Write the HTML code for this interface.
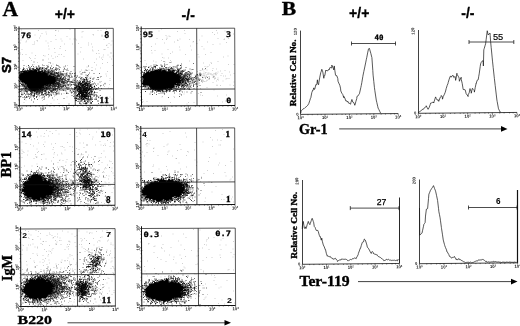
<!DOCTYPE html>
<html lang="en"><head><meta charset="utf-8"><title>Figure</title>
<style>
html,body{margin:0;padding:0;background:#fff;}
body{width:520px;height:326px;overflow:hidden;}
svg{display:block;}
.sb{font-family:"Liberation Serif","DejaVu Serif",serif;font-weight:bold;fill:#000;stroke:#000;stroke-width:.35;}
.hb{font-family:"Liberation Sans","DejaVu Sans",sans-serif;font-weight:bold;fill:#000;}
.mb{font-family:"DejaVu Sans Mono","Liberation Mono",monospace;font-weight:bold;fill:#000;stroke:#000;stroke-width:.25;}
.hn{font-family:"Liberation Sans","DejaVu Sans",sans-serif;fill:#000;}
.tk{font-family:"Liberation Sans","DejaVu Sans",sans-serif;font-size:4.2px;font-weight:bold;fill:#111;}
.ax{stroke:#111;fill:none;}
.cv{stroke:#111;fill:none;stroke-width:.7;stroke-linejoin:round;}
</style></head><body>
<svg width="520" height="326" viewBox="0 0 520 326">
<rect width="520" height="326" fill="#fff"/>
<clipPath id="cp0"><rect x="19" y="28.75" width="94.6" height="76.5"/></clipPath>
<g clip-path="url(#cp0)"><path d="M47.9 79.0L45.9 79.4L50.9 80.9L48.1 81.1L47.8 81.7L45.9 81.8L46.4 82.8L46.0 83.5L44.7 83.7L44.3 84.4L42.3 84.1L41.8 85.0L40.9 85.5L39.5 85.6L38.1 85.6L36.7 85.4L35.3 84.9L34.0 85.7L32.7 85.1L31.5 84.6L29.8 85.3L29.3 83.8L27.8 84.0L25.9 84.2L24.6 83.8L24.4 82.8L23.2 82.4L21.9 81.9L21.6 81.2L21.6 80.4L19.8 80.0L19.6 79.3L19.3 78.6L18.0 77.9L18.7 77.2L19.5 76.5L19.0 75.8L17.4 74.8L20.5 74.7L20.5 74.0L21.6 73.6L21.2 72.7L23.3 72.8L22.9 71.7L23.6 71.1L25.7 71.4L26.8 71.2L28.2 71.3L28.7 70.3L30.3 70.8L31.4 70.5L32.7 70.4L34.0 70.5L35.4 69.9L37.0 69.7L37.4 71.8L38.9 71.4L40.6 71.2L41.1 72.2L42.5 72.4L44.0 72.6L45.9 72.8L46.6 73.5L46.2 74.5L47.3 75.0L47.4 75.7L48.0 76.4L47.4 77.1L47.0 77.7L48.6 78.4Z" fill="#000"/><path d="M43.5 84.5L43.4 85.1L41.8 85.4L42.6 86.1L42.2 86.5L42.3 87.2L41.3 87.3L41.9 88.3L40.9 88.4L40.7 89.0L40.3 89.5L38.8 88.8L38.7 89.7L38.5 90.6L37.5 90.2L36.9 90.8L36.1 90.6L35.3 90.3L34.6 90.6L33.8 90.9L33.1 90.9L32.3 90.8L32.1 89.6L31.0 90.1L31.0 89.0L30.1 89.1L29.6 88.8L28.7 88.6L28.4 88.1L27.5 87.8L28.1 87.0L27.1 86.7L27.1 86.1L27.1 85.6L27.7 85.0L26.7 84.5L26.9 84.0L26.7 83.4L27.3 82.9L27.6 82.4L27.6 81.8L27.9 81.3L28.2 80.8L28.2 80.0L29.7 80.4L29.3 79.2L31.5 80.5L31.0 78.9L32.0 79.3L32.2 78.0L33.3 79.0L33.8 78.1L34.7 78.9L35.3 79.0L36.1 78.2L36.9 78.3L37.4 79.1L38.7 78.1L38.7 79.3L39.9 78.9L39.6 80.1L40.2 80.5L41.1 80.5L41.0 81.2L42.1 81.3L41.1 82.3L42.6 82.4L42.4 83.0L42.3 83.5L43.1 84.0Z" fill="#000"/><path d="M55.3 80.7L55.1 81.0L55.6 81.6L55.1 81.9L54.9 82.3L55.0 82.8L53.9 82.8L53.8 83.3L52.7 83.3L52.6 83.8L51.9 84.0L50.9 83.8L50.1 83.6L49.5 83.7L48.9 83.9L48.3 84.4L47.5 84.1L46.7 84.0L45.9 84.1L45.1 84.1L44.3 84.1L43.9 83.3L43.0 83.4L42.2 83.1L42.2 82.4L41.2 82.3L41.1 81.8L40.3 81.6L39.6 81.3L40.3 80.7L39.6 80.4L39.4 80.0L38.7 79.6L39.0 79.2L38.3 78.7L39.1 78.4L39.0 78.0L38.5 77.4L38.9 77.1L39.3 76.8L39.7 76.5L39.6 75.9L40.0 75.5L41.2 75.7L41.9 75.6L42.6 75.5L42.4 74.5L43.8 75.2L44.5 75.3L45.0 74.7L45.7 74.5L46.5 75.2L47.3 74.9L47.9 75.5L48.7 75.4L49.8 74.8L50.2 75.5L50.8 75.8L51.6 76.0L52.3 76.3L52.7 76.7L52.8 77.2L53.2 77.6L55.2 77.5L54.2 78.2L55.5 78.5L54.7 79.0L56.0 79.4L55.8 79.9L55.3 80.3Z" fill="#000"/><g transform="scale(0.5)"><path d="M57 131h0m-10 5h0m14 0h0m13 0h0m8 0h0m-34 1h0m25 0h0m1 0h0m5 0h0m6 0h0m-25 1h0m5 0h0m17 0h0m-35 1h0m12 0h0m8 0h0m3 0h0m5 0h0m-30 1h0m2 0h0m3 0h0m10 0h0m1 0h0m5 0h0m3 0h0m2 0h0m1 0h0m1 0h0m4 0h0m1 0h0m1 0h0m4 0h0m-28 1h0m1 0h0m5 0h0m2 0h0m7 0h0m1 0h0m14 0h0m-36 1h0m1 0h0m1 0h0m1 0h0m1 0h0m2 0h0m2 0h0m2 0h0m3 0h0m7 0h0m4 0h0m1 0h0m3 0h0m1 0h0m11 0h0m-47 1h0m1 0h0m1 0h0m2 0h0m1 0h0m1 0h0m1 0h0m3 0h0m1 0h0m24 0h0m5 0h0m1 0h0m1 0h0m1 0h0m-39 1h0m2 0h0m2 0h0m29 0h0m7 0h0m3 0h0m5 0h0m2 0h0m22 0h0m-79 1h0m3 0h0m40 0h0m5 0h0m1 0h0m1 0h0m-48 1h0m45 0h0m3 0h0m-48 1h0m2 0h0m44 0h0m3 0h0m4 0h0m2 0h0m6 0h0m1 0h0m-64 1h0m54 0h0m7 0h0m2 0h0m3 0h0m-64 1h0m1 0h0m50 0h0m2 0h0m2 0h0m11 0h0m-65 1h0m50 0h0m1 0h0m2 0h0m-55 1h0m56 0h0m4 0h0m-59 1h0m60 0h0m6 0h0m13 0h0m-16 1h0m3 0h0m-68 1h0m1 0h0m1 0h0m64 0h0m1 0h0m3 0h0m-68 1h0m67 0h0m63 0h0m-132 1h0m1 0h0m1 0h0m69 0h0m1 0h0m52 0h0m10 0h0m-64 1h0m1 0h0m-68 1h0m67 0h0m2 0h0m-69 1h0m127 0h0m1 0h0m3 0h0m-132 1h0m2 0h0m67 0h0m2 0h0m1 0h0m49 0h0m7 0h0m-127 1h0m2 0h0m1 0h0m64 0h0m-64 1h0m64 0h0m2 0h0m41 0h0m7 0h0m10 0h0m-130 1h0m4 0h0m2 0h0m64 0h0m52 0h0m4 0h0m4 0h0m6 0h0m-131 1h0m1 0h0m1 0h0m2 0h0m1 0h0m59 0h0m6 0h0m51 0h0m1 0h0m7 0h0m-124 1h0m1 0h0m57 0h0m1 0h0m50 0h0m1 0h0m9 0h0m2 0h0m2 0h0m2 0h0m-133 1h0m3 0h0m1 0h0m9 0h0m56 0h0m6 0h0m43 0h0m5 0h0m1 0h0m6 0h0m2 0h0m3 0h0m-125 1h0m4 0h0m1 0h0m29 0h0m3 0h0m2 0h0m10 0h0m1 0h0m1 0h0m4 0h0m6 0h0m46 0h0m2 0h0m1 0h0m2 0h0m6 0h0m1 0h0m1 0h0m2 0h0m2 0h0m-122 1h0m33 0h0m1 0h0m3 0h0m1 0h0m8 0h0m1 0h0m2 0h0m4 0h0m42 0h0m7 0h0m7 0h0m1 0h0m5 0h0m3 0h0m1 0h0m1 0h0m3 0h0m1 0h0m3 0h0m-137 1h0m2 0h0m6 0h0m4 0h0m32 0h0m2 0h0m1 0h0m1 0h0m3 0h0m1 0h0m6 0h0m3 0h0m3 0h0m50 0h0m1 0h0m2 0h0m1 0h0m4 0h0m2 0h0m1 0h0m1 0h0m1 0h0m1 0h0m4 0h0m-129 1h0m2 0h0m6 0h0m1 0h0m30 0h0m1 0h0m2 0h0m55 0h0m9 0h0m1 0h0m4 0h0m4 0h0m4 0h0m1 0h0m1 0h0m8 0h0m6 0h0m-131 1h0m4 0h0m2 0h0m28 0h0m1 0h0m2 0h0m6 0h0m3 0h0m58 0h0m2 0h0m6 0h0m1 0h0m2 0h0m1 0h0m1 0h0m3 0h0m1 0h0m2 0h0m2 0h0m-135 1h0m9 0h0m6 0h0m32 0h0m7 0h0m5 0h0m57 0h0m1 0h0m10 0h0m2 0h0m2 0h0m4 0h0m1 0h0m4 0h0m1 0h0m-128 1h0m32 0h0m13 0h0m56 0h0m2 0h0m3 0h0m4 0h0m1 0h0m1 0h0m3 0h0m1 0h0m11 0h0m2 0h0m7 0h0m-133 1h0m40 0h0m57 0h0m1 0h0m3 0h0m2 0h0m1 0h0m1 0h0m5 0h0m1 0h0m2 0h0m2 0h0m5 0h0m2 0h0m-125 1h0m3 0h0m2 0h0m26 0h0m2 0h0m1 0h0m62 0h0m2 0h0m7 0h0m1 0h0m1 0h0m1 0h0m2 0h0m2 0h0m3 0h0m2 0h0m2 0h0m1 0h0m1 0h0m1 0h0m4 0h0m6 0h0m-127 1h0m28 0h0m2 0h0m1 0h0m3 0h0m1 0h0m58 0h0m1 0h0m1 0h0m3 0h0m3 0h0m1 0h0m2 0h0m2 0h0m3 0h0m1 0h0m4 0h0m2 0h0m4 0h0m5 0h0m-132 1h0m30 0h0m3 0h0m66 0h0m1 0h0m7 0h0m1 0h0m1 0h0m4 0h0m2 0h0m1 0h0m1 0h0m1 0h0m2 0h0m1 0h0m2 0h0m5 0h0m2 0h0m-123 1h0m99 0h0m3 0h0m1 0h0m1 0h0m1 0h0m4 0h0m3 0h0m2 0h0m2 0h0m2 0h0m1 0h0m1 0h0m2 0h0m3 0h0m-121 1h0m2 0h0m12 0h0m1 0h0m4 0h0m4 0h0m64 0h0m5 0h0m2 0h0m4 0h0m1 0h0m1 0h0m4 0h0m2 0h0m1 0h0m1 0h0m2 0h0m1 0h0m3 0h0m1 0h0m1 0h0m1 0h0m1 0h0m11 0h0m-130 1h0m3 0h0m4 0h0m1 0h0m2 0h0m3 0h0m7 0h0m74 0h0m4 0h0m1 0h0m6 0h0m1 0h0m1 0h0m1 0h0m3 0h0m1 0h0m4 0h0m5 0h0m-124 1h0m6 0h0m5 0h0m1 0h0m6 0h0m4 0h0m75 0h0m3 0h0m3 0h0m1 0h0m1 0h0m2 0h0m2 0h0m3 0h0m1 0h0m1 0h0m1 0h0m1 0h0m1 0h0m3 0h0m-116 1h0m10 0h0m81 0h0m2 0h0m3 0h0m1 0h0m2 0h0m2 0h0m2 0h0m3 0h0m1 0h0m1 0h0m1 0h0m2 0h0m3 0h0m4 0h0m-118 1h0m85 0h0m10 0h0m2 0h0m1 0h0m1 0h0m1 0h0m1 0h0m1 0h0m2 0h0m2 0h0m2 0h0m4 0h0m1 0h0m8 0h0m2 0h0m-130 1h0m16 0h0m73 0h0m5 0h0m7 0h0m2 0h0m1 0h0m3 0h0m1 0h0m2 0h0m1 0h0m1 0h0m2 0h0m1 0h0m1 0h0m1 0h0m3 0h0m5 0h0m-107 1h0m1 0h0m11 0h0m74 0h0m2 0h0m2 0h0m1 0h0m2 0h0m1 0h0m2 0h0m1 0h0m1 0h0m1 0h0m1 0h0m1 0h0m5 0h0m10 0h0m-36 1h0m4 0h0m2 0h0m2 0h0m3 0h0m1 0h0m1 0h0m1 0h0m1 0h0m4 0h0m2 0h0m1 0h0m3 0h0m1 0h0m5 0h0m-27 1h0m1 0h0m3 0h0m2 0h0m1 0h0m3 0h0m5 0h0m1 0h0m3 0h0m1 0h0m-29 1h0m12 0h0m3 0h0m1 0h0m1 0h0m1 0h0m1 0h0m1 0h0m2 0h0m1 0h0m2 0h0m-18 1h0m2 0h0m1 0h0m1 0h0m4 0h0m1 0h0m1 0h0m2 0h0m1 0h0m1 0h0m3 0h0m3 0h0m-21 1h0m5 0h0m6 0h0m2 0h0m2 0h0m1 0h0m1 0h0m2 0h0m2 0h0m3 0h0m6 0h0m-31 1h0m2 0h0m8 0h0m1 0h0m1 0h0m1 0h0m3 0h0m2 0h0m2 0h0m-24 1h0m5 0h0m2 0h0m2 0h0m1 0h0m2 0h0m4 0h0m1 0h0m2 0h0m1 0h0m4 0h0m3 0h0m3 0h0m-23 1h0m4 0h0m2 0h0m1 0h0m1 0h0m3 0h0m1 0h0m1 0h0m2 0h0m1 0h0m1 0h0m1 0h0m7 0h0m-28 1h0m1 0h0m6 0h0m4 0h0m1 0h0m3 0h0m1 0h0m8 0h0m4 0h0m-31 1h0m9 0h0m3 0h0m2 0h0m4 0h0m1 0h0m2 0h0m1 0h0m-10 1h0m3 0h0m1 0h0m2 0h0m2 0h0m-18 1h0m1 0h0m3 0h0m6 0h0m1 0h0m4 0h0m4 0h0m2 0h0m1 0h0m-20 1h0m6 0h0m3 0h0m1 0h0m3 0h0m1 0h0m7 0h0m6 0h0m-25 1h0m2 0h0m2 0h0m4 0h0m1 0h0m2 0h0m9 0h0m2 0h0m-9 1h0m1 0h0m8 0h0m-27 1h0m2 0h0m11 0h0m-3 1h0m2 0h0m7 0h0m5 0h0m-19 1h0m13 0h0m16 0h0m-25 1h0m22 1h0m-23 1h0m13 0h0m1 0h0m-13 1h0m8 0h0m3 0h0m-9 1h0m10 0h0" stroke="#000" stroke-opacity="1" stroke-width="1.5" stroke-linecap="square" fill="none"/></g><g transform="scale(0.5)"><path d="M86 120h0m-18 4h0m33 2h0m-36 4h0m20 0h0m28 0h0m-65 1h0m40 0h0m6 0h0m20 0h0m2 0h0m-39 1h0m1 0h0m25 0h0m28 0h0m46 0h0m-114 1h0m4 0h0m29 0h0m22 0h0m30 0h0m-90 1h0m14 0h0m1 0h0m5 0h0m17 0h0m2 0h0m31 0h0m-70 1h0m22 0h0m5 0h0m16 0h0m6 0h0m5 0h0m8 0h0m-52 1h0m8 0h0m3 0h0m2 0h0m3 0h0m3 0h0m2 0h0m4 0h0m2 0h0m-41 1h0m5 0h0m5 0h0m2 0h0m1 0h0m7 0h0m2 0h0m3 0h0m6 0h0m6 0h0m1 0h0m1 0h0m8 0h0m4 0h0m7 0h0m4 0h0m13 0h0m-51 1h0m24 0h0m2 0h0m8 0h0m2 0h0m21 0h0m-88 1h0m8 0h0m11 0h0m4 0h0m7 0h0m1 0h0m2 0h0m6 0h0m3 0h0m4 0h0m5 0h0m12 0h0m1 0h0m3 0h0m5 0h0m11 0h0m-69 1h0m2 0h0m5 0h0m3 0h0m1 0h0m3 0h0m1 0h0m1 0h0m7 0h0m7 0h0m3 0h0m2 0h0m1 0h0m3 0h0m6 0h0m12 0h0m9 0h0m6 0h0m39 0h0m-127 1h0m13 0h0m6 0h0m1 0h0m2 0h0m2 0h0m1 0h0m6 0h0m8 0h0m4 0h0m2 0h0m1 0h0m5 0h0m7 0h0m1 0h0m2 0h0m7 0h0m23 0h0m38 0h0m10 0h0m-132 1h0m16 0h0m12 0h0m8 0h0m1 0h0m3 0h0m4 0h0m1 0h0m2 0h0m1 0h0m8 0h0m1 0h0m1 0h0m-69 1h0m4 0h0m34 0h0m1 0h0m1 0h0m1 0h0m2 0h0m4 0h0m1 0h0m2 0h0m1 0h0m4 0h0m2 0h0m3 0h0m3 0h0m1 0h0m1 0h0m20 0h0m1 0h0m15 0h0m-59 1h0m2 0h0m1 0h0m5 0h0m1 0h0m1 0h0m1 0h0m2 0h0m1 0h0m1 0h0m3 0h0m2 0h0m1 0h0m3 0h0m14 0h0m1 0h0m-80 1h0m2 0h0m41 0h0m2 0h0m2 0h0m1 0h0m1 0h0m5 0h0m1 0h0m1 0h0m1 0h0m3 0h0m2 0h0m5 0h0m3 0h0m1 0h0m1 0h0m3 0h0m49 0h0m4 0h0m-127 1h0m2 0h0m40 0h0m2 0h0m5 0h0m1 0h0m2 0h0m1 0h0m1 0h0m2 0h0m2 0h0m1 0h0m3 0h0m3 0h0m1 0h0m1 0h0m1 0h0m2 0h0m2 0h0m2 0h0m3 0h0m14 0h0m6 0h0m11 0h0m28 0h0m-92 1h0m1 0h0m1 0h0m1 0h0m1 0h0m1 0h0m2 0h0m4 0h0m3 0h0m5 0h0m3 0h0m3 0h0m1 0h0m2 0h0m1 0h0m6 0h0m3 0h0m5 0h0m3 0h0m7 0h0m5 0h0m4 0h0m39 0h0m11 0h0m-110 1h0m3 0h0m2 0h0m1 0h0m2 0h0m4 0h0m2 0h0m1 0h0m3 0h0m1 0h0m4 0h0m2 0h0m1 0h0m2 0h0m2 0h0m2 0h0m1 0h0m1 0h0m4 0h0m15 0h0m20 0h0m2 0h0m-122 1h0m48 0h0m1 0h0m1 0h0m1 0h0m2 0h0m3 0h0m2 0h0m1 0h0m2 0h0m1 0h0m1 0h0m3 0h0m1 0h0m7 0h0m1 0h0m3 0h0m2 0h0m2 0h0m1 0h0m9 0h0m43 0h0m-85 1h0m1 0h0m1 0h0m4 0h0m5 0h0m2 0h0m4 0h0m1 0h0m1 0h0m15 0h0m1 0h0m3 0h0m2 0h0m1 0h0m7 0h0m10 0h0m22 0h0m-74 1h0m2 0h0m2 0h0m2 0h0m4 0h0m1 0h0m2 0h0m3 0h0m1 0h0m1 0h0m1 0h0m1 0h0m2 0h0m6 0h0m12 0h0m12 0h0m25 0h0m-74 1h0m3 0h0m2 0h0m1 0h0m3 0h0m1 0h0m2 0h0m1 0h0m2 0h0m1 0h0m1 0h0m1 0h0m1 0h0m2 0h0m1 0h0m1 0h0m8 0h0m2 0h0m2 0h0m1 0h0m1 0h0m5 0h0m9 0h0m3 0h0m19 0h0m2 0h0m-135 1h0m65 0h0m1 0h0m1 0h0m2 0h0m3 0h0m2 0h0m1 0h0m1 0h0m2 0h0m10 0h0m10 0h0m10 0h0m53 0h0m-162 1h0m64 0h0m2 0h0m1 0h0m1 0h0m2 0h0m1 0h0m2 0h0m1 0h0m1 0h0m7 0h0m1 0h0m5 0h0m3 0h0m12 0h0m2 0h0m15 0h0m-54 1h0m1 0h0m2 0h0m1 0h0m1 0h0m2 0h0m1 0h0m4 0h0m3 0h0m6 0h0m1 0h0m12 0h0m13 0h0m5 0h0m6 0h0m10 0h0m21 0h0m2 0h0m-158 1h0m69 0h0m2 0h0m1 0h0m3 0h0m1 0h0m1 0h0m4 0h0m1 0h0m2 0h0m1 0h0m7 0h0m5 0h0m3 0h0m41 0h0m8 0h0m-148 1h0m68 0h0m1 0h0m4 0h0m1 0h0m1 0h0m1 0h0m1 0h0m2 0h0m1 0h0m1 0h0m1 0h0m3 0h0m1 0h0m1 0h0m5 0h0m29 0h0m12 0h0m8 0h0m-139 1h0m68 0h0m3 0h0m1 0h0m1 0h0m1 0h0m4 0h0m1 0h0m5 0h0m3 0h0m2 0h0m7 0h0m10 0h0m4 0h0m10 0h0m4 0h0m1 0h0m1 0h0m4 0h0m4 0h0m9 0h0m2 0h0m-146 1h0m68 0h0m5 0h0m2 0h0m1 0h0m2 0h0m1 0h0m2 0h0m1 0h0m2 0h0m1 0h0m2 0h0m7 0h0m1 0h0m1 0h0m1 0h0m28 0h0m8 0h0m20 0h0m3 0h0m-87 1h0m1 0h0m1 0h0m1 0h0m2 0h0m4 0h0m4 0h0m1 0h0m1 0h0m3 0h0m1 0h0m1 0h0m1 0h0m8 0h0m7 0h0m23 0h0m5 0h0m-63 1h0m1 0h0m3 0h0m1 0h0m1 0h0m1 0h0m1 0h0m1 0h0m2 0h0m3 0h0m7 0h0m2 0h0m3 0h0m12 0h0m6 0h0m12 0h0m5 0h0m2 0h0m6 0h0m-140 1h0m1 0h0m4 0h0m64 0h0m1 0h0m2 0h0m1 0h0m3 0h0m2 0h0m3 0h0m1 0h0m6 0h0m3 0h0m1 0h0m14 0h0m20 0h0m9 0h0m6 0h0m-141 1h0m3 0h0m3 0h0m65 0h0m1 0h0m6 0h0m1 0h0m1 0h0m3 0h0m1 0h0m1 0h0m1 0h0m1 0h0m2 0h0m5 0h0m1 0h0m1 0h0m1 0h0m2 0h0m2 0h0m2 0h0m13 0h0m11 0h0m5 0h0m5 0h0m2 0h0m6 0h0m-76 1h0m1 0h0m1 0h0m1 0h0m2 0h0m4 0h0m1 0h0m5 0h0m2 0h0m2 0h0m6 0h0m9 0h0m2 0h0m8 0h0m14 0h0m1 0h0m11 0h0m21 0h0m-152 1h0m60 0h0m1 0h0m3 0h0m1 0h0m2 0h0m1 0h0m1 0h0m1 0h0m4 0h0m1 0h0m1 0h0m1 0h0m2 0h0m1 0h0m1 0h0m2 0h0m1 0h0m3 0h0m5 0h0m2 0h0m2 0h0m1 0h0m2 0h0m2 0h0m7 0h0m4 0h0m1 0h0m4 0h0m13 0h0m3 0h0m-127 1h0m52 0h0m1 0h0m1 0h0m2 0h0m3 0h0m1 0h0m5 0h0m5 0h0m3 0h0m6 0h0m18 0h0m2 0h0m3 0h0m8 0h0m3 0h0m12 0h0m10 0h0m-149 1h0m2 0h0m6 0h0m5 0h0m1 0h0m32 0h0m1 0h0m1 0h0m1 0h0m1 0h0m1 0h0m9 0h0m1 0h0m1 0h0m1 0h0m1 0h0m1 0h0m1 0h0m1 0h0m1 0h0m1 0h0m1 0h0m1 0h0m1 0h0m2 0h0m1 0h0m1 0h0m1 0h0m1 0h0m1 0h0m8 0h0m2 0h0m1 0h0m4 0h0m6 0h0m17 0h0m3 0h0m2 0h0m1 0h0m10 0h0m4 0h0m2 0h0m31 0h0m-164 1h0m1 0h0m1 0h0m4 0h0m33 0h0m1 0h0m1 0h0m1 0h0m1 0h0m1 0h0m1 0h0m1 0h0m1 0h0m1 0h0m1 0h0m2 0h0m1 0h0m1 0h0m1 0h0m1 0h0m1 0h0m2 0h0m2 0h0m2 0h0m1 0h0m1 0h0m1 0h0m2 0h0m2 0h0m2 0h0m2 0h0m1 0h0m1 0h0m1 0h0m2 0h0m1 0h0m1 0h0m1 0h0m23 0h0m7 0h0m11 0h0m11 0h0m5 0h0m2 0h0m1 0h0m4 0h0m5 0h0m-153 1h0m5 0h0m6 0h0m1 0h0m29 0h0m2 0h0m2 0h0m1 0h0m1 0h0m1 0h0m1 0h0m1 0h0m1 0h0m1 0h0m2 0h0m1 0h0m3 0h0m5 0h0m1 0h0m2 0h0m2 0h0m1 0h0m2 0h0m1 0h0m1 0h0m1 0h0m1 0h0m4 0h0m12 0h0m3 0h0m3 0h0m3 0h0m3 0h0m2 0h0m2 0h0m13 0h0m9 0h0m3 0h0m3 0h0m4 0h0m-134 1h0m6 0h0m31 0h0m1 0h0m1 0h0m1 0h0m1 0h0m1 0h0m1 0h0m1 0h0m2 0h0m2 0h0m2 0h0m1 0h0m1 0h0m1 0h0m4 0h0m4 0h0m4 0h0m1 0h0m2 0h0m1 0h0m1 0h0m1 0h0m1 0h0m1 0h0m1 0h0m6 0h0m1 0h0m1 0h0m1 0h0m4 0h0m1 0h0m4 0h0m20 0h0m5 0h0m1 0h0m8 0h0m3 0h0m3 0h0m1 0h0m2 0h0m1 0h0m23 0h0m-162 1h0m2 0h0m5 0h0m32 0h0m1 0h0m1 0h0m1 0h0m2 0h0m2 0h0m2 0h0m1 0h0m1 0h0m1 0h0m3 0h0m1 0h0m1 0h0m1 0h0m1 0h0m2 0h0m1 0h0m1 0h0m1 0h0m1 0h0m2 0h0m2 0h0m4 0h0m1 0h0m2 0h0m6 0h0m1 0h0m3 0h0m2 0h0m5 0h0m12 0h0m2 0h0m9 0h0m4 0h0m9 0h0m4 0h0m2 0h0m3 0h0m11 0h0m9 0h0m-163 1h0m3 0h0m2 0h0m2 0h0m3 0h0m3 0h0m3 0h0m1 0h0m29 0h0m1 0h0m1 0h0m3 0h0m1 0h0m1 0h0m3 0h0m2 0h0m1 0h0m1 0h0m1 0h0m2 0h0m1 0h0m5 0h0m1 0h0m1 0h0m1 0h0m1 0h0m4 0h0m1 0h0m1 0h0m4 0h0m1 0h0m2 0h0m1 0h0m1 0h0m3 0h0m11 0h0m12 0h0m3 0h0m3 0h0m16 0h0m3 0h0m3 0h0m8 0h0m12 0h0m-155 1h0m2 0h0m1 0h0m2 0h0m35 0h0m1 0h0m1 0h0m2 0h0m2 0h0m4 0h0m4 0h0m5 0h0m1 0h0m1 0h0m3 0h0m2 0h0m1 0h0m2 0h0m1 0h0m1 0h0m1 0h0m3 0h0m1 0h0m2 0h0m2 0h0m1 0h0m4 0h0m22 0h0m4 0h0m2 0h0m10 0h0m2 0h0m3 0h0m4 0h0m4 0h0m7 0h0m-139 1h0m1 0h0m6 0h0m26 0h0m1 0h0m1 0h0m1 0h0m2 0h0m1 0h0m2 0h0m2 0h0m2 0h0m1 0h0m1 0h0m3 0h0m1 0h0m3 0h0m1 0h0m1 0h0m2 0h0m1 0h0m1 0h0m1 0h0m4 0h0m3 0h0m1 0h0m1 0h0m3 0h0m2 0h0m7 0h0m2 0h0m4 0h0m17 0h0m4 0h0m1 0h0m5 0h0m1 0h0m6 0h0m4 0h0m3 0h0m4 0h0m3 0h0m3 0h0m-141 1h0m2 0h0m1 0h0m32 0h0m1 0h0m1 0h0m1 0h0m1 0h0m4 0h0m2 0h0m1 0h0m2 0h0m3 0h0m2 0h0m7 0h0m8 0h0m1 0h0m1 0h0m6 0h0m4 0h0m6 0h0m18 0h0m1 0h0m3 0h0m5 0h0m7 0h0m15 0h0m1 0h0m13 0h0m-144 1h0m1 0h0m4 0h0m24 0h0m1 0h0m1 0h0m2 0h0m3 0h0m1 0h0m2 0h0m1 0h0m1 0h0m2 0h0m1 0h0m3 0h0m1 0h0m2 0h0m1 0h0m1 0h0m5 0h0m5 0h0m3 0h0m2 0h0m2 0h0m1 0h0m9 0h0m2 0h0m3 0h0m1 0h0m5 0h0m13 0h0m6 0h0m6 0h0m6 0h0m2 0h0m2 0h0m4 0h0m8 0h0m-146 1h0m3 0h0m1 0h0m2 0h0m1 0h0m1 0h0m1 0h0m2 0h0m4 0h0m22 0h0m1 0h0m1 0h0m2 0h0m2 0h0m2 0h0m1 0h0m2 0h0m1 0h0m1 0h0m1 0h0m2 0h0m1 0h0m1 0h0m1 0h0m2 0h0m5 0h0m1 0h0m3 0h0m2 0h0m3 0h0m33 0h0m6 0h0m3 0h0m2 0h0m11 0h0m3 0h0m1 0h0m5 0h0m1 0h0m1 0h0m11 0h0m10 0h0m-161 1h0m2 0h0m6 0h0m2 0h0m2 0h0m2 0h0m2 0h0m1 0h0m2 0h0m1 0h0m1 0h0m14 0h0m2 0h0m1 0h0m1 0h0m2 0h0m1 0h0m2 0h0m2 0h0m2 0h0m1 0h0m3 0h0m1 0h0m1 0h0m8 0h0m2 0h0m2 0h0m1 0h0m2 0h0m1 0h0m2 0h0m1 0h0m5 0h0m15 0h0m10 0h0m11 0h0m2 0h0m4 0h0m7 0h0m5 0h0m1 0h0m13 0h0m5 0h0m1 0h0m2 0h0m-154 1h0m8 0h0m7 0h0m2 0h0m2 0h0m1 0h0m1 0h0m2 0h0m13 0h0m3 0h0m1 0h0m1 0h0m1 0h0m2 0h0m1 0h0m6 0h0m1 0h0m4 0h0m2 0h0m7 0h0m1 0h0m2 0h0m1 0h0m8 0h0m17 0h0m12 0h0m8 0h0m1 0h0m2 0h0m4 0h0m3 0h0m3 0h0m2 0h0m13 0h0m3 0h0m-148 1h0m6 0h0m8 0h0m2 0h0m4 0h0m3 0h0m5 0h0m4 0h0m3 0h0m1 0h0m3 0h0m1 0h0m1 0h0m2 0h0m2 0h0m1 0h0m1 0h0m1 0h0m2 0h0m2 0h0m2 0h0m6 0h0m6 0h0m1 0h0m1 0h0m1 0h0m2 0h0m15 0h0m2 0h0m29 0h0m10 0h0m1 0h0m10 0h0m4 0h0m1 0h0m3 0h0m1 0h0m-144 1h0m6 0h0m3 0h0m5 0h0m3 0h0m2 0h0m2 0h0m1 0h0m1 0h0m2 0h0m1 0h0m1 0h0m1 0h0m1 0h0m1 0h0m4 0h0m1 0h0m2 0h0m3 0h0m1 0h0m1 0h0m1 0h0m1 0h0m3 0h0m1 0h0m1 0h0m1 0h0m8 0h0m1 0h0m2 0h0m1 0h0m2 0h0m2 0h0m3 0h0m4 0h0m7 0h0m5 0h0m3 0h0m11 0h0m5 0h0m8 0h0m6 0h0m1 0h0m6 0h0m2 0h0m2 0h0m2 0h0m1 0h0m3 0h0m6 0h0m17 0h0m-157 1h0m1 0h0m6 0h0m1 0h0m2 0h0m1 0h0m4 0h0m3 0h0m1 0h0m2 0h0m1 0h0m3 0h0m4 0h0m3 0h0m1 0h0m4 0h0m4 0h0m1 0h0m6 0h0m5 0h0m6 0h0m4 0h0m7 0h0m5 0h0m14 0h0m8 0h0m10 0h0m6 0h0m7 0h0m3 0h0m1 0h0m4 0h0m3 0h0m2 0h0m5 0h0m-141 1h0m1 0h0m7 0h0m4 0h0m2 0h0m8 0h0m2 0h0m4 0h0m1 0h0m1 0h0m2 0h0m1 0h0m2 0h0m1 0h0m1 0h0m1 0h0m1 0h0m1 0h0m1 0h0m1 0h0m2 0h0m2 0h0m2 0h0m1 0h0m2 0h0m1 0h0m5 0h0m4 0h0m2 0h0m1 0h0m10 0h0m68 0h0m7 0h0m-150 1h0m14 0h0m1 0h0m8 0h0m3 0h0m1 0h0m2 0h0m1 0h0m4 0h0m2 0h0m1 0h0m4 0h0m3 0h0m7 0h0m2 0h0m11 0h0m1 0h0m1 0h0m4 0h0m4 0h0m29 0h0m9 0h0m10 0h0m9 0h0m2 0h0m10 0h0m2 0h0m-121 1h0m2 0h0m11 0h0m3 0h0m1 0h0m3 0h0m10 0h0m4 0h0m1 0h0m1 0h0m8 0h0m4 0h0m33 0h0m21 0h0m8 0h0m6 0h0m1 0h0m3 0h0m7 0h0m4 0h0m-151 1h0m3 0h0m3 0h0m13 0h0m1 0h0m5 0h0m4 0h0m4 0h0m1 0h0m3 0h0m3 0h0m2 0h0m6 0h0m5 0h0m1 0h0m1 0h0m2 0h0m4 0h0m8 0h0m4 0h0m2 0h0m15 0h0m1 0h0m9 0h0m6 0h0m10 0h0m2 0h0m1 0h0m4 0h0m6 0h0m2 0h0m3 0h0m6 0h0m5 0h0m-139 1h0m12 0h0m3 0h0m5 0h0m1 0h0m3 0h0m1 0h0m5 0h0m10 0h0m2 0h0m23 0h0m19 0h0m3 0h0m24 0h0m1 0h0m17 0h0m4 0h0m-129 1h0m2 0h0m1 0h0m1 0h0m3 0h0m2 0h0m2 0h0m4 0h0m1 0h0m1 0h0m7 0h0m2 0h0m4 0h0m1 0h0m1 0h0m5 0h0m2 0h0m1 0h0m14 0h0m5 0h0m1 0h0m1 0h0m4 0h0m5 0h0m34 0h0m2 0h0m5 0h0m9 0h0m6 0h0m3 0h0m6 0h0m-145 1h0m1 0h0m2 0h0m13 0h0m4 0h0m6 0h0m4 0h0m3 0h0m7 0h0m3 0h0m1 0h0m7 0h0m1 0h0m2 0h0m5 0h0m61 0h0m5 0h0m4 0h0m7 0h0m2 0h0m1 0h0m1 0h0m2 0h0m5 0h0m-146 1h0m7 0h0m6 0h0m4 0h0m2 0h0m6 0h0m6 0h0m11 0h0m2 0h0m3 0h0m6 0h0m2 0h0m1 0h0m3 0h0m7 0h0m45 0h0m11 0h0m5 0h0m5 0h0m1 0h0m10 0h0m5 0h0m1 0h0m-127 1h0m1 0h0m2 0h0m13 0h0m11 0h0m10 0h0m41 0h0m11 0h0m7 0h0m1 0h0m1 0h0m8 0h0m3 0h0m6 0h0m8 0h0m5 0h0m7 0h0m-137 1h0m4 0h0m1 0h0m10 0h0m7 0h0m13 0h0m60 0h0m5 0h0m2 0h0m1 0h0m1 0h0m2 0h0m3 0h0m4 0h0m3 0h0m-139 1h0m1 0h0m7 0h0m4 0h0m1 0h0m3 0h0m3 0h0m8 0h0m5 0h0m1 0h0m15 0h0m58 0h0m19 0h0m1 0h0m1 0h0m3 0h0m1 0h0m1 0h0m2 0h0m2 0h0m1 0h0m10 0h0m5 0h0m3 0h0m-129 1h0m6 0h0m24 0h0m68 0h0m4 0h0m6 0h0m6 0h0m1 0h0m-136 1h0m4 0h0m3 0h0m1 0h0m6 0h0m13 0h0m13 0h0m91 0h0m7 0h0m13 0h0m-147 1h0m34 0h0m5 0h0m16 0h0m53 0h0m4 0h0m1 0h0m1 0h0m5 0h0m5 0h0m3 0h0m4 0h0m12 0h0m-134 1h0m10 0h0m59 0h0m21 0h0m3 0h0m1 0h0m5 0h0m14 0h0m2 0h0m3 0h0m5 0h0m2 0h0m32 0h0m-147 1h0m82 0h0m16 0h0m1 0h0m5 0h0m3 0h0m3 0h0m3 0h0m8 0h0m2 0h0m-143 1h0m26 0h0m13 0h0m88 0h0m5 0h0m2 0h0m2 0h0m5 0h0m3 0h0m-130 1h0m107 0h0m3 0h0m5 1h0m4 0h0m14 0h0m-38 1h0m18 0h0m-6 1h0m5 0h0m5 0h0m5 0h0m11 0h0m-129 1h0m99 0h0m5 0h0m5 0h0m1 0h0m5 1h0m-9 1h0m2 0h0m8 0h0m-10 1h0m8 0h0m2 0h0m14 0h0m-59 1h0" stroke="#000" stroke-opacity="0.85" stroke-width="1.3" stroke-linecap="square" fill="none"/></g><g transform="scale(0.5)"><path d="M140 59h0m73 0h0m-170 1h0m34 1h0m34 0h0m1 0h0m84 0h0m6 0h0m-85 1h0m49 1h0m-74 1h0m72 0h0m-117 2h0m37 1h0m9 1h0m93 1h0m-127 1h0m11 0h0m117 0h0m17 0h0m-161 1h0m68 0h0m93 0h0m-123 1h0m53 1h0m70 0h0m-40 1h0m-107 1h0m22 1h0m-24 1h0m67 1h0m18 0h0m8 0h0m3 0h0m-95 1h0m56 0h0m96 0h0m-166 1h0m111 0h0m-79 1h0m-21 1h0m22 0h0m17 0h0m32 0h0m100 0h0m-122 1h0m-50 1h0m17 0h0m-28 2h0m55 0h0m81 0h0m-20 1h0m61 0h0m-149 1h0m60 0h0m16 0h0m38 0h0m-117 1h0m111 1h0m37 0h0m8 0h0m-9 1h0m-116 1h0m24 1h0m64 1h0m-23 1h0m54 0h0m-107 2h0m11 0h0m-22 1h0m-54 1h0m164 0h0m2 0h0m-25 1h0m-54 1h0m66 0h0m-11 1h0m-25 2h0m-121 1h0m70 0h0m-46 1h0m157 0h0m2 0h0m-30 1h0m5 0h0m-157 1h0m115 0h0m-111 1h0m7 0h0m45 0h0m21 0h0m5 0h0m84 1h0m9 0h0m-145 1h0m16 0h0m3 1h0m13 0h0m123 0h0m-111 1h0m13 0h0m-17 1h0m88 0h0m7 0h0m14 0h0m-161 1h0m144 1h0m-142 1h0m9 0h0m36 0h0m-9 1h0m70 0h0m26 0h0m30 0h0m-18 1h0m-159 2h0m17 0h0m12 4h0m22 0h0m2 0h0m90 0h0m26 0h0m-10 2h0m-99 1h0m-38 1h0m29 1h0m96 0h0m-58 1h0m90 0h0m-172 2h0m6 0h0m115 1h0m10 1h0m-66 1h0m83 0h0m-160 1h0m71 1h0m79 0h0m-145 1h0m13 1h0m89 0h0m15 0h0m15 0h0m-75 1h0m-26 1h0m14 0h0m79 0h0m-9 1h0m54 0h0m-56 1h0m10 0h0m-64 1h0m60 0h0m4 0h0m-83 1h0m48 0h0m-40 1h0m56 0h0m-27 1h0m89 0h0m-96 1h0m39 3h0m58 0h0m-31 2h0m-40 1h0m59 0h0m19 2h0m-179 1h0m0 2h0m123 0h0m56 1h0m-98 1h0m38 0h0m-12 1h0m55 0h0m-88 3h0m95 0h0m-35 2h0m35 1h0m9 0h0m-108 3h0m98 1h0m-98 3h0m3 0h0m19 0h0m84 0h0m5 1h0m-82 1h0m-51 1h0m64 0h0m-34 1h0m68 0h0m-139 1h0m62 3h0m50 0h0m-85 2h0m53 1h0m-84 1h0m70 0h0m-63 1h0m42 1h0m20 0h0m-36 1h0m111 0h0m-126 1h0m137 0h0m-90 1h0m25 1h0m43 0h0m35 0h0m8 0h0m-179 1h0m130 0h0m20 0h0m7 0h0m8 0h0m-143 1h0m15 0h0m120 0h0m-29 2h0m55 0h0m-109 1h0m-63 1h0m56 0h0m45 0h0m-68 1h0m67 1h0m11 0h0m6 0h0m40 2h0m1 0h0m-162 1h0m118 1h0m4 0h0m9 0h0m-77 1h0m16 0h0m96 1h0m-120 1h0" stroke="#000" stroke-opacity="0.3" stroke-width="1.2" stroke-linecap="square" fill="none"/></g></g>
<g transform="rotate(-0.25 66.3 67)">
<path class="ax" stroke-width=".7" stroke="#222" d="M19.15 28.55H113.45V105.45"/>
<path class="ax" stroke-width="1" stroke="#111" d="M17.65 105.45H113.45"/>
<path class="ax" stroke-width="1" stroke="#111" d="M19.15 26.35V105.95"/>
<path class="ax" stroke-width=".75" stroke="#222" d="M75.1 28.55V105.45M19.15 88.95H113.45"/>
<path class="ax" stroke-width=".55" d="M19.15 105.45v1.8M19.15 105.45h-1.8M26.25 105.45v1M19.15 99.66h-1M30.4 105.45v1M19.15 96.28h-1M35.63 105.45v1M19.15 92.01h-1M39.07 105.45v1M19.15 89.2h-1M42.72 105.45v1.8M19.15 86.22h-1.8M49.82 105.45v1M19.15 80.44h-1M53.97 105.45v1M19.15 77.05h-1M59.2 105.45v1M19.15 72.79h-1M62.65 105.45v1M19.15 69.98h-1M66.3 105.45v1.8M19.15 67h-1.8M73.4 105.45v1M19.15 61.21h-1M77.55 105.45v1M19.15 57.83h-1M82.78 105.45v1M19.15 53.56h-1M86.22 105.45v1M19.15 50.75h-1M89.88 105.45v1.8M19.15 47.77h-1.8M96.97 105.45v1M19.15 41.99h-1M101.12 105.45v1M19.15 38.6h-1M106.35 105.45v1M19.15 34.34h-1M109.8 105.45v1M19.15 31.53h-1M113.45 105.45v1.8M19.15 28.55h-1.8"/>
<text class="tk" x="19.15" y="110.35" text-anchor="middle">10<tspan font-size="2.8" dy="-1.4">0</tspan></text>
<text class="tk" transform="translate(17.05 108.05) rotate(-90)">10<tspan font-size="2.8" dy="-1.4">0</tspan></text>
<text class="tk" x="42.72" y="110.35" text-anchor="middle">10<tspan font-size="2.8" dy="-1.4">1</tspan></text>
<text class="tk" transform="translate(17.05 88.82) rotate(-90)">10<tspan font-size="2.8" dy="-1.4">1</tspan></text>
<text class="tk" x="66.3" y="110.35" text-anchor="middle">10<tspan font-size="2.8" dy="-1.4">2</tspan></text>
<text class="tk" transform="translate(17.05 69.6) rotate(-90)">10<tspan font-size="2.8" dy="-1.4">2</tspan></text>
<text class="tk" x="89.88" y="110.35" text-anchor="middle">10<tspan font-size="2.8" dy="-1.4">3</tspan></text>
<text class="tk" transform="translate(17.05 50.38) rotate(-90)">10<tspan font-size="2.8" dy="-1.4">3</tspan></text>
<text class="tk" x="113.45" y="110.35" text-anchor="middle">10<tspan font-size="2.8" dy="-1.4">4</tspan></text>
<text class="tk" transform="translate(17.05 31.15) rotate(-90)">10<tspan font-size="2.8" dy="-1.4">4</tspan></text>
</g>
<clipPath id="cp1"><rect x="141.2" y="28.6" width="93.8" height="77"/></clipPath>
<g clip-path="url(#cp1)"><path d="M180.0 79.6L181.7 80.6L180.3 81.3L180.9 82.3L181.5 83.3L175.9 83.0L176.1 83.9L175.3 84.5L174.4 85.1L174.5 86.3L173.2 86.9L172.9 88.2L171.0 88.5L168.7 88.2L166.8 88.2L165.4 88.9L163.5 88.9L161.7 88.3L159.9 89.0L158.3 88.2L156.5 88.3L154.9 88.0L153.5 87.4L152.0 87.0L150.1 86.9L148.8 86.3L148.5 85.2L144.5 85.8L143.2 85.1L142.2 84.3L141.9 83.3L142.8 82.2L143.4 81.3L143.1 80.5L143.9 79.7L141.9 79.0L143.9 78.3L141.7 77.3L141.9 76.4L143.5 75.8L144.1 75.1L144.4 74.3L144.7 73.3L146.7 73.1L146.1 71.5L149.7 72.3L150.8 71.7L152.2 71.2L153.6 70.7L155.0 70.2L156.7 69.8L158.6 70.2L160.2 69.0L161.9 71.2L163.8 70.0L165.5 70.3L166.6 71.4L168.0 71.7L170.4 71.2L172.7 71.1L173.6 72.1L174.5 72.9L175.5 73.6L176.3 74.3L177.3 74.9L179.4 75.4L180.6 76.1L180.5 77.1L179.3 78.0L181.2 78.8Z" fill="#000"/><path d="M167.6 85.5L165.9 85.9L167.0 86.4L166.4 86.8L166.5 87.3L165.5 87.6L165.3 88.0L165.3 88.5L164.7 88.8L164.2 89.1L163.5 89.3L163.3 90.0L162.8 90.4L161.6 90.0L161.2 90.5L160.3 90.4L159.7 90.7L158.9 91.1L158.1 90.8L157.4 90.6L156.7 90.2L155.7 90.8L154.8 90.8L155.0 89.5L153.6 90.0L153.3 89.5L153.1 88.9L151.4 89.3L151.4 88.7L150.2 88.5L151.3 87.6L150.8 87.3L151.2 86.7L150.1 86.4L151.0 85.9L150.2 85.5L149.4 85.0L149.9 84.5L149.8 84.0L150.5 83.7L150.5 83.1L151.3 82.9L152.2 82.7L151.9 82.0L152.7 81.8L153.5 81.7L154.2 81.5L154.2 80.6L155.5 81.3L156.0 80.8L156.6 80.3L157.3 80.1L158.1 80.2L158.8 80.9L159.7 80.0L160.4 80.5L160.9 81.1L162.1 80.4L162.5 81.0L162.6 81.7L162.8 82.2L164.3 81.8L164.6 82.2L165.5 82.4L165.9 82.8L165.7 83.4L166.7 83.6L166.8 84.1L166.2 84.6L167.4 85.0Z" fill="#000"/><g transform="scale(0.5)"><path d="M308 130h0m4 0h0m10 0h0m-8 1h0m47 0h0m-7 1h0m-66 1h0m4 0h0m17 0h0m2 0h0m13 0h0m-26 1h0m9 0h0m4 0h0m-14 1h0m7 0h0m39 0h0m-53 1h0m29 0h0m15 0h0m20 0h0m-48 1h0m36 0h0m-41 1h0m4 0h0m16 0h0m2 0h0m3 0h0m1 0h0m2 0h0m12 0h0m5 0h0m-55 1h0m4 0h0m11 0h0m4 0h0m4 0h0m3 0h0m1 0h0m4 0h0m8 0h0m4 0h0m3 0h0m1 0h0m1 0h0m-47 1h0m13 0h0m12 0h0m4 0h0m23 0h0m2 0h0m9 0h0m-66 1h0m4 0h0m6 0h0m12 0h0m2 0h0m9 0h0m2 0h0m1 0h0m2 0h0m1 0h0m1 0h0m3 0h0m5 0h0m1 0h0m2 0h0m2 0h0m5 0h0m3 0h0m7 0h0m-61 1h0m1 0h0m1 0h0m3 0h0m9 0h0m1 0h0m2 0h0m1 0h0m20 0h0m4 0h0m3 0h0m-44 1h0m5 0h0m1 0h0m1 0h0m3 0h0m2 0h0m25 0h0m4 0h0m8 0h0m2 0h0m8 0h0m11 0h0m-82 1h0m8 0h0m3 0h0m7 0h0m1 0h0m1 0h0m33 0h0m2 0h0m17 0h0m-68 1h0m5 0h0m3 0h0m45 0h0m1 0h0m2 0h0m8 0h0m-64 1h0m8 0h0m48 0h0m7 0h0m1 0h0m8 0h0m11 0h0m-80 1h0m56 0h0m4 0h0m9 0h0m-74 1h0m2 0h0m1 0h0m62 0h0m6 0h0m-70 1h0m3 0h0m61 0h0m3 0h0m2 0h0m-71 1h0m1 0h0m4 0h0m64 0h0m1 0h0m10 0h0m7 0h0m-86 1h0m1 0h0m2 0h0m64 0h0m1 0h0m1 0h0m-1 1h0m2 0h0m22 0h0m-94 1h0m1 0h0m69 0h0m-71 1h0m3 0h0m68 0h0m3 0h0m2 0h0m5 0h0m4 0h0m6 0h0m-17 1h0m5 0h0m-77 1h0m78 0h0m-78 1h0m81 0h0m5 0h0m-12 1h0m5 0h0m6 0h0m6 0h0m-91 1h0m73 0h0m5 0h0m11 0h0m-91 1h0m74 0h0m-71 1h0m74 0h0m2 0h0m5 0h0m-84 1h0m2 0h0m1 0h0m70 0h0m1 0h0m1 0h0m13 0h0m3 0h0m13 0h0m-104 1h0m3 0h0m69 0h0m1 0h0m8 0h0m1 0h0m10 0h0m-88 1h0m68 0h0m1 0h0m4 0h0m-74 1h0m69 0h0m3 0h0m6 0h0m-80 1h0m4 0h0m1 0h0m76 0h0m-81 1h0m2 0h0m67 0h0m2 0h0m-69 1h0m3 0h0m1 0h0m1 0h0m67 0h0m3 0h0m-75 1h0m5 0h0m59 0h0m1 0h0m1 0h0m1 0h0m2 0h0m2 0h0m-70 1h0m67 0h0m10 0h0m11 0h0m-80 1h0m62 0h0m1 0h0m6 0h0m1 0h0m-75 1h0m2 0h0m2 0h0m3 0h0m3 0h0m1 0h0m-16 1h0m2 0h0m3 0h0m9 0h0m1 0h0m1 0h0m41 0h0m2 0h0m1 0h0m1 0h0m1 0h0m5 0h0m1 0h0m-70 1h0m16 0h0m1 0h0m36 0h0m5 0h0m6 0h0m-47 1h0m30 0h0m2 0h0m4 0h0m1 0h0m3 0h0m3 0h0m2 0h0m-54 1h0m8 0h0m1 0h0m2 0h0m27 0h0m5 0h0m4 0h0m14 0h0m-57 1h0m1 0h0m3 0h0m4 0h0m1 0h0m26 0h0m3 0h0m2 0h0m4 0h0m3 0h0m21 0h0m14 0h0m-84 1h0m35 0h0m1 0h0m3 0h0m1 0h0m4 0h0m3 0h0m2 0h0m-42 1h0m5 0h0m1 0h0m17 0h0m7 0h0m6 0h0m2 0h0m4 0h0m-38 1h0m4 0h0m2 0h0m23 0h0m2 0h0m17 0h0m-37 1h0m6 0h0m3 0h0m8 0h0m1 0h0m17 0h0m-46 1h0m1 0h0m8 0h0m5 0h0m5 0h0m1 0h0m2 0h0m3 0h0m3 0h0m-42 1h0m25 0h0m2 0h0m3 0h0m5 0h0m4 0h0m29 0h0m-57 1h0m3 0h0m8 0h0m20 0h0m-11 2h0m4 0h0m3 2h0m-24 1h0" stroke="#000" stroke-opacity="1" stroke-width="1.5" stroke-linecap="square" fill="none"/></g><g transform="scale(0.5)"><path d="M328 123h0m12 2h0m47 2h0m-58 1h0m34 0h0m-29 1h0m-4 1h0m26 0h0m-42 1h0m10 0h0m32 0h0m6 0h0m-60 1h0m27 0h0m-5 1h0m5 0h0m19 0h0m-8 1h0m6 0h0m5 0h0m3 0h0m9 0h0m-53 1h0m21 0h0m2 0h0m29 0h0m10 0h0m-82 1h0m16 0h0m5 0h0m11 0h0m4 0h0m11 0h0m1 0h0m10 0h0m-22 1h0m6 0h0m11 0h0m2 0h0m16 0h0m1 0h0m49 0h0m-96 1h0m5 0h0m3 0h0m19 0h0m13 0h0m1 0h0m2 0h0m1 0h0m21 0h0m25 0h0m-105 1h0m18 0h0m3 0h0m13 0h0m3 0h0m13 0h0m6 0h0m2 0h0m26 0h0m2 0h0m-95 1h0m13 0h0m4 0h0m13 0h0m2 0h0m2 0h0m5 0h0m14 0h0m3 0h0m10 0h0m3 0h0m8 0h0m3 0h0m-66 1h0m3 0h0m3 0h0m9 0h0m7 0h0m10 0h0m2 0h0m6 0h0m1 0h0m1 0h0m1 0h0m1 0h0m3 0h0m5 0h0m1 0h0m7 0h0m1 0h0m-77 1h0m13 0h0m9 0h0m2 0h0m16 0h0m3 0h0m6 0h0m2 0h0m4 0h0m2 0h0m3 0h0m4 0h0m2 0h0m2 0h0m3 0h0m3 0h0m1 0h0m5 0h0m-69 1h0m36 0h0m2 0h0m3 0h0m5 0h0m8 0h0m1 0h0m2 0h0m5 0h0m3 0h0m12 0h0m1 0h0m-86 1h0m49 0h0m4 0h0m3 0h0m10 0h0m2 0h0m2 0h0m1 0h0m2 0h0m10 0h0m3 0h0m-92 1h0m14 0h0m47 0h0m8 0h0m3 0h0m6 0h0m8 0h0m8 0h0m-93 1h0m61 0h0m2 0h0m2 0h0m1 0h0m1 0h0m2 0h0m1 0h0m3 0h0m1 0h0m4 0h0m6 0h0m2 0h0m1 0h0m5 0h0m3 0h0m3 0h0m15 0h0m-104 1h0m51 0h0m3 0h0m1 0h0m1 0h0m5 0h0m1 0h0m1 0h0m2 0h0m1 0h0m1 0h0m7 0h0m6 0h0m6 0h0m-33 1h0m1 0h0m2 0h0m2 0h0m8 0h0m1 0h0m1 0h0m1 0h0m4 0h0m7 0h0m5 0h0m1 0h0m17 0h0m2 0h0m-47 1h0m1 0h0m2 0h0m2 0h0m1 0h0m3 0h0m1 0h0m4 0h0m2 0h0m1 0h0m4 0h0m2 0h0m2 0h0m1 0h0m15 0h0m-43 1h0m2 0h0m1 0h0m1 0h0m2 0h0m2 0h0m1 0h0m1 0h0m2 0h0m8 0h0m2 0h0m19 0h0m2 0h0m4 0h0m2 0h0m-113 1h0m1 0h0m65 0h0m1 0h0m4 0h0m2 0h0m1 0h0m5 0h0m1 0h0m1 0h0m1 0h0m2 0h0m4 0h0m3 0h0m22 0h0m-46 1h0m1 0h0m1 0h0m1 0h0m1 0h0m1 0h0m10 0h0m1 0h0m1 0h0m7 0h0m3 0h0m9 0h0m5 0h0m-41 1h0m1 0h0m2 0h0m1 0h0m3 0h0m2 0h0m3 0h0m2 0h0m5 0h0m1 0h0m1 0h0m15 0h0m-36 1h0m1 0h0m1 0h0m1 0h0m2 0h0m1 0h0m1 0h0m2 0h0m2 0h0m1 0h0m1 0h0m1 0h0m2 0h0m1 0h0m9 0h0m10 0h0m-34 1h0m1 0h0m1 0h0m1 0h0m1 0h0m5 0h0m1 0h0m1 0h0m6 0h0m4 0h0m1 0h0m5 0h0m4 0h0m1 0h0m7 0h0m9 0h0m10 0h0m-57 1h0m3 0h0m1 0h0m1 0h0m7 0h0m1 0h0m7 0h0m6 0h0m8 0h0m19 0h0m-54 1h0m4 0h0m1 0h0m3 0h0m1 0h0m2 0h0m3 0h0m2 0h0m1 0h0m2 0h0m2 0h0m3 0h0m2 0h0m9 0h0m-34 1h0m1 0h0m3 0h0m1 0h0m2 0h0m2 0h0m1 0h0m1 0h0m3 0h0m1 0h0m3 0h0m2 0h0m4 0h0m5 0h0m5 0h0m4 0h0m1 0h0m21 0h0m-60 1h0m1 0h0m4 0h0m1 0h0m1 0h0m2 0h0m1 0h0m1 0h0m4 0h0m1 0h0m1 0h0m2 0h0m2 0h0m1 0h0m3 0h0m5 0h0m12 0h0m-117 1h0m75 0h0m1 0h0m1 0h0m4 0h0m1 0h0m3 0h0m2 0h0m3 0h0m2 0h0m1 0h0m10 0h0m12 0h0m-40 1h0m1 0h0m2 0h0m3 0h0m1 0h0m1 0h0m2 0h0m3 0h0m3 0h0m2 0h0m1 0h0m7 0h0m15 0h0m-42 1h0m4 0h0m3 0h0m2 0h0m1 0h0m2 0h0m2 0h0m4 0h0m5 0h0m5 0h0m6 0h0m5 0h0m7 0h0m3 0h0m-49 1h0m1 0h0m1 0h0m1 0h0m2 0h0m1 0h0m4 0h0m3 0h0m8 0h0m3 0h0m10 0h0m-34 1h0m1 0h0m1 0h0m2 0h0m5 0h0m1 0h0m2 0h0m2 0h0m1 0h0m5 0h0m1 0h0m6 0h0m4 0h0m1 0h0m-32 1h0m1 0h0m1 0h0m3 0h0m2 0h0m1 0h0m1 0h0m2 0h0m3 0h0m5 0h0m10 0h0m3 0h0m-34 1h0m1 0h0m2 0h0m1 0h0m3 0h0m2 0h0m2 0h0m4 0h0m1 0h0m1 0h0m1 0h0m7 0h0m2 0h0m3 0h0m13 0h0m-43 1h0m2 0h0m1 0h0m4 0h0m7 0h0m2 0h0m1 0h0m1 0h0m6 0h0m13 0h0m-98 1h0m58 0h0m1 0h0m1 0h0m1 0h0m1 0h0m2 0h0m1 0h0m2 0h0m1 0h0m1 0h0m1 0h0m3 0h0m5 0h0m1 0h0m3 0h0m6 0h0m5 0h0m7 0h0m-43 1h0m1 0h0m2 0h0m1 0h0m2 0h0m1 0h0m2 0h0m8 0h0m1 0h0m6 0h0m4 0h0m9 0h0m4 0h0m-106 1h0m3 0h0m1 0h0m60 0h0m1 0h0m1 0h0m1 0h0m1 0h0m1 0h0m2 0h0m2 0h0m5 0h0m1 0h0m2 0h0m1 0h0m3 0h0m4 0h0m-88 1h0m59 0h0m2 0h0m7 0h0m2 0h0m1 0h0m1 0h0m1 0h0m4 0h0m4 0h0m3 0h0m3 0h0m8 0h0m5 0h0m13 0h0m-104 1h0m49 0h0m1 0h0m3 0h0m4 0h0m5 0h0m4 0h0m1 0h0m2 0h0m3 0h0m2 0h0m3 0h0m1 0h0m2 0h0m3 0h0m8 0h0m-101 1h0m1 0h0m2 0h0m12 0h0m42 0h0m2 0h0m3 0h0m4 0h0m5 0h0m6 0h0m1 0h0m3 0h0m2 0h0m12 0h0m6 0h0m8 0h0m-103 1h0m48 0h0m1 0h0m2 0h0m3 0h0m1 0h0m4 0h0m2 0h0m4 0h0m16 0h0m3 0h0m-80 1h0m1 0h0m35 0h0m3 0h0m1 0h0m1 0h0m2 0h0m2 0h0m3 0h0m2 0h0m3 0h0m8 0h0m1 0h0m6 0h0m3 0h0m11 0h0m4 0h0m-93 1h0m15 0h0m29 0h0m1 0h0m1 0h0m1 0h0m4 0h0m7 0h0m9 0h0m11 0h0m3 0h0m-39 1h0m1 0h0m3 0h0m3 0h0m3 0h0m5 0h0m2 0h0m1 0h0m2 0h0m5 0h0m5 0h0m5 0h0m3 0h0m1 0h0m5 0h0m13 0h0m-86 1h0m32 0h0m7 0h0m4 0h0m6 0h0m2 0h0m2 0h0m4 0h0m2 0h0m2 0h0m16 0h0m-53 1h0m6 0h0m1 0h0m6 0h0m17 0h0m10 0h0m3 0h0m9 0h0m2 0h0m-56 1h0m16 0h0m1 0h0m19 0h0m-21 1h0m8 0h0m2 0h0m11 0h0m-28 1h0m1 0h0m2 0h0m3 0h0m3 0h0m6 0h0m2 0h0m4 0h0m9 0h0m-23 1h0m7 0h0m38 0h0m-58 1h0m39 0h0m9 0h0m28 1h0m-93 1h0m20 0h0m20 0h0m33 0h0m-64 1h0m-18 1h0m60 0h0m-47 1h0m50 1h0m-4 3h0m-22 2h0" stroke="#000" stroke-opacity="0.85" stroke-width="1.3" stroke-linecap="square" fill="none"/></g><g transform="scale(0.5)"><path d="M323 58h0m-32 2h0m78 1h0m64 0h0m-115 1h0m132 0h0m-95 1h0m70 2h0m10 1h0m-146 1h0m81 0h0m97 1h0m-38 1h0m26 0h0m-123 2h0m6 1h0m66 0h0m-64 1h0m-6 1h0m-20 3h0m20 0h0m102 0h0m21 0h0m-97 1h0m89 0h0m-124 1h0m8 0h0m46 0h0m69 0h0m-93 1h0m44 0h0m-43 1h0m31 2h0m-38 1h0m37 0h0m29 0h0m38 1h0m-124 1h0m65 1h0m-83 1h0m129 0h0m-14 1h0m-141 1h0m96 2h0m-78 1h0m101 0h0m-45 1h0m49 4h0m-72 1h0m24 1h0m23 0h0m-80 1h0m7 0h0m35 3h0m77 1h0m-118 1h0m37 1h0m-17 1h0m47 1h0m25 0h0m15 0h0m45 3h0m-58 2h0m49 0h0m-122 1h0m3 1h0m9 0h0m-47 5h0m33 0h0m18 0h0m-34 1h0m72 0h0m57 1h0m-124 1h0m18 0h0m13 0h0m-1 1h0m80 0h0m-15 1h0m16 1h0m-130 1h0m164 1h0m11 0h0m-49 1h0m-9 3h0m6 0h0m-2 1h0m-128 1h0m17 1h0m123 1h0m-126 1h0m133 0h0m-23 1h0m-4 1h0m8 0h0m-14 1h0m2 0h0m23 0h0m25 0h0m-101 1h0m3 0h0m30 0h0m59 0h0m-103 1h0m57 0h0m13 1h0m28 0h0m23 0h0m-47 1h0m20 0h0m-21 1h0m5 0h0m2 0h0m-44 1h0m3 0h0m31 0h0m20 0h0m3 0h0m3 0h0m10 0h0m24 0h0m-180 1h0m108 0h0m6 0h0m1 0h0m3 0h0m10 0h0m4 0h0m1 0h0m2 0h0m7 0h0m-55 1h0m8 0h0m17 0h0m2 0h0m14 0h0m10 0h0m6 0h0m-42 1h0m13 0h0m5 0h0m2 0h0m3 0h0m11 0h0m8 0h0m29 0h0m-63 1h0m3 0h0m7 0h0m34 0h0m-50 1h0m12 0h0m2 0h0m20 0h0m2 0h0m19 0h0m4 0h0m-51 1h0m10 0h0m3 0h0m5 0h0m9 0h0m2 0h0m-48 1h0m12 0h0m21 0h0m5 0h0m8 0h0m-41 1h0m6 0h0m14 0h0m2 0h0m18 0h0m2 0h0m-40 1h0m31 0h0m12 0h0m5 0h0m-48 1h0m12 0h0m19 0h0m11 0h0m24 0h0m4 0h0m-74 1h0m1 0h0m6 0h0m8 0h0m7 0h0m23 0h0m23 0h0m-64 1h0m16 0h0m31 0h0m-50 1h0m13 0h0m16 0h0m23 0h0m-74 1h0m51 0h0m-10 1h0m29 0h0m13 0h0m-37 1h0m3 0h0m56 1h0m-63 1h0m21 0h0m-34 2h0m5 3h0m37 0h0m26 0h0m-26 1h0m7 0h0m26 0h0m-89 2h0m-20 1h0m-67 1h0m72 0h0m51 0h0m-13 2h0m-44 2h0m71 1h0m-89 2h0m14 1h0m16 1h0m28 3h0m-29 1h0m-5 1h0m38 1h0m52 0h0m-48 1h0m30 1h0m-110 1h0m23 0h0m-24 1h0m25 1h0m104 2h0m-168 2h0m166 3h0m-165 1h0m8 0h0m151 1h0m-160 1h0m56 0h0m36 0h0m11 0h0m-14 3h0" stroke="#000" stroke-opacity="0.3" stroke-width="1.2" stroke-linecap="square" fill="none"/></g></g>
<g transform="rotate(-0.25 188.1 67.1)">
<path class="ax" stroke-width=".7" stroke="#222" d="M141.35 28.4H234.85V105.8"/>
<path class="ax" stroke-width="1" stroke="#111" d="M139.85 105.8H234.85"/>
<path class="ax" stroke-width="1" stroke="#111" d="M141.35 26.2V106.3"/>
<path class="ax" stroke-width=".75" stroke="#222" d="M196.85 28.4V105.8M141.35 89.2H234.85"/>
<path class="ax" stroke-width=".55" d="M141.35 105.8v1.8M141.35 105.8h-1.8M148.39 105.8v1M141.35 99.98h-1M152.5 105.8v1M141.35 96.57h-1M157.69 105.8v1M141.35 92.27h-1M161.1 105.8v1M141.35 89.45h-1M164.72 105.8v1.8M141.35 86.45h-1.8M171.76 105.8v1M141.35 80.63h-1M175.88 105.8v1M141.35 77.22h-1M181.06 105.8v1M141.35 72.92h-1M184.48 105.8v1M141.35 70.1h-1M188.1 105.8v1.8M141.35 67.1h-1.8M195.14 105.8v1M141.35 61.28h-1M199.25 105.8v1M141.35 57.87h-1M204.44 105.8v1M141.35 53.57h-1M207.85 105.8v1M141.35 50.75h-1M211.47 105.8v1.8M141.35 47.75h-1.8M218.51 105.8v1M141.35 41.93h-1M222.63 105.8v1M141.35 38.52h-1M227.81 105.8v1M141.35 34.22h-1M231.23 105.8v1M141.35 31.4h-1M234.85 105.8v1.8M141.35 28.4h-1.8"/>
<text class="tk" x="141.35" y="110.7" text-anchor="middle">10<tspan font-size="2.8" dy="-1.4">0</tspan></text>
<text class="tk" transform="translate(139.25 108.4) rotate(-90)">10<tspan font-size="2.8" dy="-1.4">0</tspan></text>
<text class="tk" x="164.72" y="110.7" text-anchor="middle">10<tspan font-size="2.8" dy="-1.4">1</tspan></text>
<text class="tk" transform="translate(139.25 89.05) rotate(-90)">10<tspan font-size="2.8" dy="-1.4">1</tspan></text>
<text class="tk" x="188.1" y="110.7" text-anchor="middle">10<tspan font-size="2.8" dy="-1.4">2</tspan></text>
<text class="tk" transform="translate(139.25 69.7) rotate(-90)">10<tspan font-size="2.8" dy="-1.4">2</tspan></text>
<text class="tk" x="211.47" y="110.7" text-anchor="middle">10<tspan font-size="2.8" dy="-1.4">3</tspan></text>
<text class="tk" transform="translate(139.25 50.35) rotate(-90)">10<tspan font-size="2.8" dy="-1.4">3</tspan></text>
<text class="tk" x="234.85" y="110.7" text-anchor="middle">10<tspan font-size="2.8" dy="-1.4">4</tspan></text>
<text class="tk" transform="translate(139.25 31) rotate(-90)">10<tspan font-size="2.8" dy="-1.4">4</tspan></text>
</g>
<clipPath id="cp2"><rect x="19.75" y="128.5" width="95.25" height="76.75"/></clipPath>
<g clip-path="url(#cp2)"><path d="M52.1 189.0L52.6 189.9L52.5 190.8L52.4 191.7L53.3 192.9L51.4 193.4L50.8 194.3L50.1 195.0L48.4 195.2L47.6 195.9L45.9 195.8L45.9 197.2L44.7 197.6L43.8 198.4L43.0 199.5L40.8 197.5L40.1 199.7L38.8 200.5L37.3 199.2L36.0 199.3L34.3 200.2L33.1 199.3L31.9 198.8L31.3 197.5L30.1 197.3L28.1 197.5L26.9 197.0L26.6 195.8L24.7 195.6L23.7 194.9L26.2 192.9L24.2 192.6L24.0 191.6L22.8 190.9L20.4 190.1L23.8 189.0L23.8 188.1L22.4 187.1L24.5 186.4L24.3 185.5L23.4 184.2L23.8 183.2L24.4 182.2L25.8 181.7L27.8 181.7L28.7 181.0L29.0 179.6L31.1 180.2L31.8 179.0L33.5 179.6L34.4 178.2L35.9 178.2L37.4 179.6L38.7 179.0L40.0 179.1L41.5 178.3L42.6 179.4L43.0 180.9L45.1 179.9L46.4 180.3L46.6 181.6L49.3 180.9L50.2 181.7L49.0 183.5L51.0 183.7L49.2 185.3L51.2 185.6L51.2 186.5L52.6 187.2L53.1 188.1Z" fill="#000"/><path d="M43.1 181.0L42.7 181.6L42.6 182.1L43.0 182.8L42.3 183.2L43.0 184.1L41.9 184.3L41.5 184.8L41.4 185.5L40.6 185.6L40.5 186.4L39.9 186.8L39.1 186.9L38.2 186.5L37.8 187.1L37.1 187.2L36.5 187.6L35.8 187.6L35.2 187.4L34.5 187.4L33.8 187.3L33.3 186.8L32.6 186.9L32.1 186.5L31.4 186.4L31.2 185.6L29.6 186.3L29.4 185.6L29.3 184.9L29.3 184.2L28.5 183.9L28.6 183.2L27.7 182.9L28.1 182.2L28.0 181.6L29.1 181.0L28.4 180.4L28.0 179.8L28.9 179.4L28.6 178.7L28.3 178.0L28.4 177.3L29.6 177.3L31.1 177.6L30.3 176.3L30.6 175.7L31.8 176.2L31.6 174.8L32.6 175.1L32.9 174.1L33.8 174.7L34.5 174.5L35.2 175.0L35.9 174.2L36.5 174.4L37.1 175.0L37.9 174.5L38.4 175.2L39.5 174.6L39.8 175.4L40.2 175.9L40.6 176.4L41.9 176.2L41.6 177.2L42.2 177.6L41.8 178.4L42.9 178.6L42.8 179.3L42.5 179.9L42.5 180.5Z" fill="#000"/><g transform="scale(0.5)"><path d="M163 319h0m-2 2h0m-8 2h0m9 1h0m0 1h0m-4 2h0m11 0h0m-12 2h0m3 0h0m6 0h0m6 0h0m6 0h0m5 0h0m-26 1h0m20 0h0m-17 1h0m2 0h0m9 1h0m-12 1h0m4 1h0m-7 1h0m3 0h0m8 0h0m4 0h0m-7 1h0m1 0h0m3 0h0m2 0h0m1 0h0m-7 1h0m3 0h0m3 0h0m-11 1h0m1 0h0m4 0h0m6 0h0m-21 1h0m7 0h0m2 0h0m3 0h0m1 0h0m1 0h0m7 0h0m2 0h0m2 0h0m-7 1h0m-13 1h0m12 0h0m5 0h0m-5 1h0m1 0h0m5 0h0m1 0h0m-110 1h0m98 0h0m9 0h0m1 0h0m8 0h0m-101 1h0m89 0h0m4 0h0m-103 1h0m83 0h0m19 0h0m12 0h0m-111 1h0m83 0h0m4 0h0m8 0h0m10 0h0m-28 1h0m19 0h0m3 0h0m5 0h0m3 0h0m-103 1h0m88 0h0m1 0h0m9 0h0m7 0h0m-124 1h0m4 0h0m9 0h0m2 0h0m1 0h0m1 0h0m2 0h0m5 0h0m3 0h0m72 0h0m7 0h0m1 0h0m2 0h0m2 0h0m7 0h0m8 0h0m-127 1h0m9 0h0m3 0h0m6 0h0m1 0h0m1 0h0m4 0h0m8 0h0m14 0h0m73 0h0m-117 1h0m9 0h0m10 0h0m4 0h0m1 0h0m5 0h0m2 0h0m1 0h0m5 0h0m68 0h0m2 0h0m1 0h0m6 0h0m3 0h0m4 0h0m-116 1h0m1 0h0m15 0h0m3 0h0m2 0h0m12 0h0m62 0h0m5 0h0m8 0h0m5 0h0m5 0h0m-121 1h0m21 0h0m15 0h0m66 0h0m3 0h0m4 0h0m2 0h0m-110 1h0m1 0h0m21 0h0m3 0h0m4 0h0m70 0h0m1 0h0m6 0h0m2 0h0m2 0h0m2 0h0m1 0h0m1 0h0m3 0h0m1 0h0m6 0h0m-132 1h0m32 0h0m3 0h0m73 0h0m3 0h0m4 0h0m2 0h0m3 0h0m4 0h0m-118 1h0m26 0h0m1 0h0m14 0h0m61 0h0m13 0h0m2 0h0m3 0h0m-129 1h0m3 0h0m1 0h0m4 0h0m1 0h0m30 0h0m4 0h0m72 0h0m4 0h0m4 0h0m3 0h0m6 0h0m-124 1h0m30 0h0m2 0h0m1 0h0m11 0h0m1 0h0m56 0h0m4 0h0m5 0h0m3 0h0m3 0h0m2 0h0m4 0h0m7 0h0m3 0h0m-141 1h0m1 0h0m2 0h0m5 0h0m1 0h0m31 0h0m3 0h0m11 0h0m13 0h0m43 0h0m8 0h0m2 0h0m1 0h0m7 0h0m1 0h0m1 0h0m-125 1h0m1 0h0m35 0h0m7 0h0m3 0h0m65 0h0m7 0h0m1 0h0m1 0h0m2 0h0m1 0h0m1 0h0m3 0h0m1 0h0m7 0h0m-132 1h0m104 0h0m1 0h0m3 0h0m2 0h0m3 0h0m1 0h0m1 0h0m1 0h0m3 0h0m2 0h0m2 0h0m3 0h0m11 0h0m-138 1h0m1 0h0m41 0h0m8 0h0m8 0h0m47 0h0m3 0h0m1 0h0m3 0h0m3 0h0m1 0h0m1 0h0m1 0h0m1 0h0m1 0h0m2 0h0m1 0h0m2 0h0m-133 1h0m3 0h0m1 0h0m3 0h0m1 0h0m1 0h0m1 0h0m35 0h0m70 0h0m1 0h0m4 0h0m1 0h0m1 0h0m1 0h0m3 0h0m1 0h0m1 0h0m3 0h0m4 0h0m1 0h0m1 0h0m-138 1h0m5 0h0m1 0h0m2 0h0m1 0h0m2 0h0m1 0h0m37 0h0m1 0h0m68 0h0m6 0h0m2 0h0m1 0h0m5 0h0m1 0h0m5 0h0m4 0h0m2 0h0m-136 1h0m1 0h0m45 0h0m2 0h0m2 0h0m62 0h0m2 0h0m2 0h0m1 0h0m1 0h0m2 0h0m1 0h0m1 0h0m1 0h0m1 0h0m5 0h0m2 0h0m11 0h0m-147 1h0m2 0h0m1 0h0m104 0h0m8 0h0m2 0h0m2 0h0m1 0h0m2 0h0m2 0h0m3 0h0m1 0h0m5 0h0m5 0h0m-140 1h0m3 0h0m48 0h0m1 0h0m4 0h0m3 0h0m64 0h0m2 0h0m1 0h0m4 0h0m1 0h0m5 0h0m16 0h0m-151 1h0m1 0h0m57 0h0m2 0h0m68 0h0m2 0h0m7 0h0m7 0h0m-145 1h0m1 0h0m2 0h0m49 0h0m3 0h0m5 0h0m2 0h0m52 0h0m7 0h0m1 0h0m2 0h0m1 0h0m1 0h0m2 0h0m1 0h0m1 0h0m1 0h0m3 0h0m3 0h0m1 0h0m-136 1h0m2 0h0m49 0h0m8 0h0m54 0h0m3 0h0m6 0h0m1 0h0m1 0h0m1 0h0m2 0h0m2 0h0m1 0h0m2 0h0m3 0h0m-135 1h0m118 0h0m2 0h0m3 0h0m2 0h0m4 0h0m1 0h0m1 0h0m3 0h0m6 0h0m-148 1h0m9 0h0m59 0h0m58 0h0m3 0h0m2 0h0m1 0h0m2 0h0m10 0h0m10 0h0m11 0h0m-103 1h0m3 0h0m1 0h0m4 0h0m1 0h0m55 0h0m2 0h0m1 0h0m1 0h0m1 0h0m4 0h0m2 0h0m1 0h0m7 0h0m10 0h0m5 0h0m-157 1h0m3 0h0m1 0h0m56 0h0m1 0h0m1 0h0m61 0h0m1 0h0m5 0h0m4 0h0m1 0h0m7 0h0m1 0h0m1 0h0m-140 1h0m1 0h0m57 0h0m3 0h0m5 0h0m2 0h0m46 0h0m6 0h0m4 0h0m2 0h0m2 0h0m5 0h0m1 0h0m10 0h0m-84 1h0m8 0h0m13 0h0m37 0h0m3 0h0m4 0h0m1 0h0m4 0h0m16 0h0m1 0h0m-145 1h0m54 0h0m5 0h0m64 0h0m9 0h0m9 0h0m-145 1h0m3 0h0m56 0h0m1 0h0m1 0h0m1 0h0m2 0h0m57 0h0m15 0h0m1 0h0m3 0h0m7 0h0m3 0h0m-154 1h0m1 0h0m4 0h0m1 0h0m57 0h0m2 0h0m2 0h0m4 0h0m56 0h0m3 0h0m3 0h0m5 0h0m3 0h0m2 0h0m2 0h0m7 0h0m-148 1h0m1 0h0m66 0h0m52 0h0m4 0h0m4 0h0m18 0h0m-87 1h0m1 0h0m2 0h0m3 0h0m70 0h0m1 0h0m17 0h0m5 0h0m-157 1h0m1 0h0m2 0h0m1 0h0m136 0h0m-140 1h0m3 0h0m56 0h0m68 0h0m2 0h0m7 0h0m4 0h0m2 0h0m6 0h0m-149 1h0m4 0h0m1 0h0m56 0h0m2 0h0m68 0h0m14 0h0m11 0h0m-157 1h0m7 0h0m52 0h0m3 0h0m75 0h0m6 0h0m12 0h0m-156 1h0m6 0h0m3 0h0m52 0h0m76 0h0m10 0h0m-145 1h0m3 0h0m1 0h0m3 0h0m49 0h0m4 0h0m6 0h0m5 0h0m67 0h0m2 0h0m4 0h0m1 0h0m-142 1h0m2 0h0m4 0h0m50 0h0m3 0h0m76 0h0m12 0h0m-145 1h0m1 0h0m1 0h0m2 0h0m46 0h0m2 0h0m1 0h0m80 0h0m2 0h0m3 0h0m-134 1h0m1 0h0m52 0h0m79 0h0m1 0h0m10 0h0m-28 1h0m9 0h0m2 0h0m1 0h0m14 0h0m5 0h0m-150 1h0m5 0h0m2 0h0m41 0h0m3 0h0m7 0h0m16 0h0m57 0h0m9 0h0m5 0h0m-151 1h0m7 0h0m44 0h0m6 0h0m83 0h0m7 0h0m-134 1h0m1 0h0m3 0h0m29 0h0m1 0h0m3 0h0m1 0h0m-46 1h0m4 0h0m4 0h0m2 0h0m29 0h0m1 0h0m1 0h0m2 0h0m1 0h0m6 0h0m74 0h0m15 0h0m-136 1h0m3 0h0m7 0h0m1 0h0m2 0h0m2 0h0m1 0h0m1 0h0m22 0h0m2 0h0m-36 1h0m3 0h0m3 0h0m3 0h0m3 0h0m14 0h0m2 0h0m3 0h0m8 0h0m3 0h0m91 0h0m3 0h0m-126 1h0m1 0h0m9 0h0m8 0h0m5 0h0m6 0h0m16 0h0m60 0h0m16 0h0m-140 1h0m1 0h0m7 0h0m1 0h0m10 0h0m9 0h0m1 0h0m4 0h0m2 0h0m4 0h0m11 0h0m86 0h0m3 0h0m-127 1h0m1 0h0m9 0h0m10 0h0m4 0h0m3 0h0m2 0h0m22 0h0m66 0h0m4 0h0m9 0h0m3 0h0m-136 1h0m16 0h0m2 0h0m16 0h0m1 0h0m98 0h0m2 0h0m-121 1h0m2 0h0m15 0h0m3 0h0m-27 1h0m23 0h0m1 0h0m94 1h0m-121 1h0m-1 1h0m137 0h0m-124 1h0" stroke="#000" stroke-opacity="1" stroke-width="1.5" stroke-linecap="square" fill="none"/></g><g transform="scale(0.5)"><path d="M174 290h0m-2 14h0m-16 5h0m34 4h0m-23 1h0m8 0h0m-10 2h0m34 5h0m-28 1h0m-25 1h0m51 0h0m-29 1h0m21 0h0m-39 1h0m27 1h0m-70 2h0m65 1h0m7 0h0m3 0h0m-40 1h0m11 2h0m26 0h0m6 0h0m-110 1h0m9 1h0m42 0h0m44 0h0m-7 1h0m8 0h0m48 0h0m-140 1h0m13 0h0m1 0h0m14 0h0m64 0h0m1 0h0m3 0h0m7 0h0m-54 1h0m34 0h0m11 0h0m2 0h0m-93 1h0m35 0h0m71 0h0m-91 1h0m12 0h0m57 0h0m3 0h0m-92 1h0m51 0h0m5 0h0m31 0h0m22 0h0m5 0h0m7 0h0m-124 1h0m88 0h0m12 0h0m21 0h0m-141 1h0m49 0h0m31 0h0m39 0h0m6 0h0m-106 1h0m34 0h0m45 0h0m-90 1h0m40 0h0m63 0h0m4 0h0m6 0h0m2 0h0m-107 1h0m3 0h0m3 0h0m6 0h0m16 0h0m10 0h0m19 0h0m10 0h0m23 0h0m12 0h0m2 0h0m-105 1h0m6 0h0m9 0h0m8 0h0m5 0h0m51 0h0m10 0h0m11 0h0m9 0h0m-111 1h0m1 0h0m3 0h0m9 0h0m3 0h0m1 0h0m81 0h0m12 0h0m2 0h0m1 0h0m-136 1h0m17 0h0m15 0h0m1 0h0m10 0h0m16 0h0m3 0h0m8 0h0m39 0h0m8 0h0m7 0h0m7 0h0m6 0h0m2 0h0m-116 1h0m9 0h0m6 0h0m13 0h0m3 0h0m8 0h0m51 0h0m17 0h0m1 0h0m8 0h0m3 0h0m2 0h0m-142 1h0m1 0h0m13 0h0m21 0h0m29 0h0m3 0h0m1 0h0m11 0h0m7 0h0m38 0h0m5 0h0m-129 1h0m34 0h0m6 0h0m1 0h0m10 0h0m2 0h0m3 0h0m3 0h0m1 0h0m1 0h0m23 0h0m26 0h0m27 0h0m-99 1h0m1 0h0m5 0h0m2 0h0m3 0h0m1 0h0m1 0h0m2 0h0m5 0h0m10 0h0m32 0h0m15 0h0m8 0h0m3 0h0m35 0h0m-153 1h0m27 0h0m1 0h0m4 0h0m3 0h0m10 0h0m2 0h0m5 0h0m14 0h0m4 0h0m42 0h0m6 0h0m10 0h0m10 0h0m-138 1h0m4 0h0m25 0h0m4 0h0m12 0h0m9 0h0m8 0h0m3 0h0m13 0h0m15 0h0m60 0h0m-121 1h0m11 0h0m2 0h0m2 0h0m2 0h0m2 0h0m3 0h0m2 0h0m6 0h0m56 0h0m-130 1h0m42 0h0m6 0h0m1 0h0m2 0h0m5 0h0m4 0h0m3 0h0m5 0h0m6 0h0m4 0h0m43 0h0m1 0h0m11 0h0m4 0h0m11 0h0m-132 1h0m30 0h0m1 0h0m2 0h0m2 0h0m2 0h0m10 0h0m1 0h0m2 0h0m4 0h0m13 0h0m46 0h0m4 0h0m-133 1h0m42 0h0m2 0h0m1 0h0m3 0h0m2 0h0m5 0h0m3 0h0m2 0h0m2 0h0m2 0h0m1 0h0m3 0h0m2 0h0m6 0h0m2 0h0m4 0h0m7 0h0m2 0h0m31 0h0m1 0h0m4 0h0m-128 1h0m4 0h0m4 0h0m35 0h0m2 0h0m4 0h0m7 0h0m1 0h0m1 0h0m1 0h0m3 0h0m8 0h0m1 0h0m1 0h0m2 0h0m4 0h0m14 0h0m34 0h0m3 0h0m6 0h0m6 0h0m-94 1h0m1 0h0m1 0h0m2 0h0m5 0h0m4 0h0m3 0h0m3 0h0m5 0h0m5 0h0m9 0h0m16 0h0m11 0h0m9 0h0m17 0h0m1 0h0m3 0h0m8 0h0m2 0h0m-151 1h0m45 0h0m3 0h0m1 0h0m1 0h0m1 0h0m5 0h0m1 0h0m2 0h0m1 0h0m1 0h0m1 0h0m1 0h0m1 0h0m1 0h0m2 0h0m1 0h0m1 0h0m2 0h0m3 0h0m2 0h0m3 0h0m27 0h0m7 0h0m14 0h0m6 0h0m3 0h0m-88 1h0m2 0h0m2 0h0m2 0h0m1 0h0m1 0h0m1 0h0m1 0h0m1 0h0m1 0h0m4 0h0m5 0h0m5 0h0m1 0h0m3 0h0m5 0h0m1 0h0m2 0h0m8 0h0m6 0h0m3 0h0m6 0h0m15 0h0m6 0h0m18 0h0m2 0h0m4 0h0m-153 1h0m11 0h0m2 0h0m36 0h0m1 0h0m3 0h0m2 0h0m2 0h0m2 0h0m3 0h0m1 0h0m2 0h0m3 0h0m2 0h0m5 0h0m2 0h0m4 0h0m2 0h0m1 0h0m3 0h0m3 0h0m1 0h0m12 0h0m13 0h0m3 0h0m1 0h0m19 0h0m3 0h0m7 0h0m11 0h0m-149 1h0m1 0h0m1 0h0m41 0h0m1 0h0m1 0h0m6 0h0m1 0h0m1 0h0m2 0h0m4 0h0m2 0h0m1 0h0m1 0h0m14 0h0m4 0h0m35 0h0m8 0h0m2 0h0m3 0h0m4 0h0m-137 1h0m47 0h0m3 0h0m1 0h0m1 0h0m3 0h0m2 0h0m1 0h0m4 0h0m2 0h0m1 0h0m6 0h0m1 0h0m3 0h0m20 0h0m2 0h0m30 0h0m12 0h0m-144 1h0m54 0h0m1 0h0m1 0h0m3 0h0m1 0h0m5 0h0m1 0h0m2 0h0m1 0h0m5 0h0m3 0h0m1 0h0m5 0h0m4 0h0m6 0h0m4 0h0m4 0h0m1 0h0m4 0h0m3 0h0m4 0h0m10 0h0m2 0h0m4 0h0m1 0h0m5 0h0m-130 1h0m1 0h0m2 0h0m45 0h0m1 0h0m2 0h0m1 0h0m1 0h0m1 0h0m1 0h0m1 0h0m2 0h0m4 0h0m1 0h0m1 0h0m1 0h0m1 0h0m3 0h0m1 0h0m5 0h0m7 0h0m1 0h0m4 0h0m9 0h0m1 0h0m13 0h0m1 0h0m17 0h0m-129 1h0m3 0h0m48 0h0m1 0h0m2 0h0m1 0h0m1 0h0m1 0h0m2 0h0m1 0h0m2 0h0m1 0h0m3 0h0m2 0h0m1 0h0m1 0h0m2 0h0m4 0h0m11 0h0m7 0h0m2 0h0m4 0h0m15 0h0m13 0h0m3 0h0m3 0h0m-83 1h0m1 0h0m2 0h0m1 0h0m2 0h0m1 0h0m1 0h0m2 0h0m3 0h0m1 0h0m5 0h0m9 0h0m6 0h0m15 0h0m6 0h0m2 0h0m5 0h0m1 0h0m8 0h0m7 0h0m6 0h0m2 0h0m2 0h0m-142 1h0m1 0h0m4 0h0m49 0h0m1 0h0m1 0h0m2 0h0m2 0h0m2 0h0m1 0h0m1 0h0m1 0h0m1 0h0m3 0h0m1 0h0m1 0h0m1 0h0m2 0h0m3 0h0m1 0h0m4 0h0m2 0h0m3 0h0m11 0h0m17 0h0m16 0h0m2 0h0m-133 1h0m56 0h0m2 0h0m1 0h0m1 0h0m1 0h0m1 0h0m2 0h0m1 0h0m7 0h0m5 0h0m4 0h0m5 0h0m6 0h0m5 0h0m1 0h0m37 0h0m15 0h0m-148 1h0m54 0h0m1 0h0m1 0h0m2 0h0m1 0h0m2 0h0m1 0h0m1 0h0m1 0h0m1 0h0m1 0h0m1 0h0m1 0h0m2 0h0m1 0h0m2 0h0m1 0h0m2 0h0m1 0h0m2 0h0m4 0h0m2 0h0m4 0h0m1 0h0m3 0h0m12 0h0m2 0h0m1 0h0m14 0h0m11 0h0m22 0h0m-161 1h0m2 0h0m60 0h0m3 0h0m1 0h0m1 0h0m1 0h0m6 0h0m4 0h0m7 0h0m1 0h0m7 0h0m4 0h0m10 0h0m8 0h0m9 0h0m32 0h0m-151 1h0m56 0h0m1 0h0m1 0h0m1 0h0m1 0h0m1 0h0m4 0h0m1 0h0m2 0h0m1 0h0m1 0h0m1 0h0m1 0h0m1 0h0m3 0h0m1 0h0m6 0h0m7 0h0m29 0h0m3 0h0m5 0h0m-133 1h0m7 0h0m56 0h0m1 0h0m1 0h0m1 0h0m4 0h0m1 0h0m1 0h0m1 0h0m1 0h0m2 0h0m5 0h0m2 0h0m9 0h0m1 0h0m8 0h0m5 0h0m5 0h0m12 0h0m-60 1h0m1 0h0m1 0h0m2 0h0m1 0h0m1 0h0m1 0h0m1 0h0m1 0h0m1 0h0m1 0h0m1 0h0m1 0h0m3 0h0m3 0h0m2 0h0m3 0h0m4 0h0m5 0h0m4 0h0m20 0h0m11 0h0m3 0h0m6 0h0m4 0h0m-143 1h0m2 0h0m2 0h0m2 0h0m56 0h0m2 0h0m4 0h0m1 0h0m1 0h0m3 0h0m1 0h0m4 0h0m7 0h0m10 0h0m4 0h0m1 0h0m9 0h0m28 0h0m1 0h0m1 0h0m-78 1h0m1 0h0m1 0h0m2 0h0m2 0h0m2 0h0m1 0h0m1 0h0m1 0h0m2 0h0m1 0h0m1 0h0m2 0h0m1 0h0m1 0h0m1 0h0m1 0h0m1 0h0m3 0h0m11 0h0m1 0h0m5 0h0m16 0h0m20 0h0m13 0h0m-89 1h0m1 0h0m1 0h0m1 0h0m1 0h0m1 0h0m1 0h0m2 0h0m3 0h0m1 0h0m2 0h0m1 0h0m2 0h0m1 0h0m1 0h0m1 0h0m2 0h0m1 0h0m2 0h0m1 0h0m2 0h0m1 0h0m13 0h0m27 0h0m3 0h0m7 0h0m1 0h0m7 0h0m-146 1h0m57 0h0m1 0h0m2 0h0m2 0h0m2 0h0m1 0h0m1 0h0m3 0h0m1 0h0m1 0h0m1 0h0m5 0h0m7 0h0m5 0h0m16 0h0m13 0h0m23 0h0m-146 1h0m1 0h0m61 0h0m3 0h0m1 0h0m5 0h0m2 0h0m1 0h0m1 0h0m1 0h0m1 0h0m1 0h0m2 0h0m1 0h0m1 0h0m2 0h0m5 0h0m7 0h0m12 0h0m11 0h0m24 0h0m-139 1h0m59 0h0m1 0h0m1 0h0m1 0h0m1 0h0m2 0h0m2 0h0m2 0h0m20 0h0m35 0h0m26 0h0m-148 1h0m57 0h0m7 0h0m1 0h0m1 0h0m2 0h0m1 0h0m1 0h0m4 0h0m4 0h0m5 0h0m1 0h0m2 0h0m3 0h0m12 0h0m56 0h0m-162 1h0m1 0h0m7 0h0m52 0h0m1 0h0m1 0h0m2 0h0m1 0h0m2 0h0m1 0h0m1 0h0m1 0h0m3 0h0m1 0h0m1 0h0m4 0h0m5 0h0m1 0h0m2 0h0m5 0h0m6 0h0m29 0h0m-68 1h0m2 0h0m1 0h0m3 0h0m1 0h0m1 0h0m1 0h0m1 0h0m4 0h0m1 0h0m3 0h0m1 0h0m2 0h0m6 0h0m2 0h0m1 0h0m1 0h0m2 0h0m1 0h0m1 0h0m1 0h0m23 0h0m16 0h0m12 0h0m23 0h0m-169 1h0m60 0h0m1 0h0m1 0h0m3 0h0m2 0h0m3 0h0m1 0h0m3 0h0m1 0h0m1 0h0m2 0h0m6 0h0m28 0h0m18 0h0m6 0h0m-128 1h0m1 0h0m50 0h0m2 0h0m4 0h0m1 0h0m6 0h0m1 0h0m1 0h0m2 0h0m1 0h0m1 0h0m1 0h0m1 0h0m8 0h0m17 0h0m14 0h0m5 0h0m12 0h0m7 0h0m-85 1h0m2 0h0m1 0h0m1 0h0m1 0h0m1 0h0m3 0h0m1 0h0m2 0h0m1 0h0m2 0h0m8 0h0m1 0h0m3 0h0m6 0h0m9 0h0m23 0h0m-116 1h0m50 0h0m1 0h0m1 0h0m1 0h0m2 0h0m1 0h0m1 0h0m1 0h0m2 0h0m1 0h0m5 0h0m2 0h0m1 0h0m5 0h0m7 0h0m10 0h0m1 0h0m31 0h0m-130 1h0m55 0h0m1 0h0m2 0h0m1 0h0m3 0h0m4 0h0m1 0h0m2 0h0m3 0h0m1 0h0m5 0h0m1 0h0m7 0h0m6 0h0m3 0h0m6 0h0m3 0h0m13 0h0m-118 1h0m10 0h0m1 0h0m5 0h0m40 0h0m1 0h0m3 0h0m5 0h0m2 0h0m1 0h0m3 0h0m3 0h0m1 0h0m1 0h0m1 0h0m4 0h0m2 0h0m2 0h0m3 0h0m52 0h0m3 0h0m-130 1h0m4 0h0m36 0h0m2 0h0m1 0h0m1 0h0m4 0h0m1 0h0m7 0h0m1 0h0m1 0h0m1 0h0m1 0h0m1 0h0m3 0h0m1 0h0m14 0h0m16 0h0m62 0h0m-154 1h0m3 0h0m35 0h0m1 0h0m1 0h0m3 0h0m2 0h0m2 0h0m5 0h0m2 0h0m1 0h0m4 0h0m2 0h0m2 0h0m14 0h0m2 0h0m-94 1h0m11 0h0m5 0h0m33 0h0m2 0h0m2 0h0m1 0h0m2 0h0m1 0h0m3 0h0m1 0h0m4 0h0m2 0h0m1 0h0m4 0h0m1 0h0m3 0h0m2 0h0m4 0h0m7 0h0m1 0h0m49 0h0m6 0h0m-135 1h0m3 0h0m3 0h0m29 0h0m2 0h0m1 0h0m1 0h0m1 0h0m1 0h0m3 0h0m2 0h0m3 0h0m2 0h0m4 0h0m1 0h0m5 0h0m7 0h0m2 0h0m2 0h0m35 0h0m28 0h0m-133 1h0m13 0h0m4 0h0m15 0h0m2 0h0m2 0h0m1 0h0m4 0h0m4 0h0m2 0h0m9 0h0m1 0h0m14 0h0m30 0h0m4 0h0m26 0h0m3 0h0m-136 1h0m7 0h0m3 0h0m2 0h0m2 0h0m4 0h0m2 0h0m1 0h0m1 0h0m2 0h0m8 0h0m2 0h0m7 0h0m1 0h0m2 0h0m2 0h0m1 0h0m1 0h0m2 0h0m6 0h0m2 0h0m1 0h0m1 0h0m14 0h0m5 0h0m7 0h0m38 0h0m-122 1h0m3 0h0m7 0h0m11 0h0m1 0h0m1 0h0m2 0h0m3 0h0m4 0h0m2 0h0m4 0h0m1 0h0m1 0h0m3 0h0m7 0h0m21 0h0m-71 1h0m7 0h0m7 0h0m3 0h0m2 0h0m8 0h0m2 0h0m4 0h0m2 0h0m13 0h0m1 0h0m4 0h0m2 0h0m1 0h0m12 0h0m1 0h0m5 0h0m32 0h0m-107 1h0m1 0h0m7 0h0m7 0h0m4 0h0m4 0h0m1 0h0m3 0h0m5 0h0m3 0h0m4 0h0m2 0h0m3 0h0m11 0h0m5 0h0m12 0h0m4 0h0m2 0h0m5 0h0m21 0h0m26 0h0m29 0h0m-161 1h0m2 0h0m9 0h0m5 0h0m5 0h0m1 0h0m5 0h0m1 0h0m1 0h0m8 0h0m3 0h0m4 0h0m1 0h0m5 0h0m2 0h0m5 0h0m3 0h0m6 0h0m5 0h0m5 0h0m4 0h0m62 0h0m-151 1h0m2 0h0m7 0h0m12 0h0m4 0h0m2 0h0m3 0h0m3 0h0m1 0h0m6 0h0m6 0h0m1 0h0m8 0h0m5 0h0m14 0h0m6 0h0m6 0h0m4 0h0m8 0h0m15 0h0m26 0h0m-121 1h0m3 0h0m4 0h0m6 0h0m12 0h0m2 0h0m11 0h0m5 0h0m1 0h0m2 0h0m10 0h0m11 0h0m7 0h0m28 0h0m-116 1h0m2 0h0m15 0h0m15 0h0m4 0h0m4 0h0m4 0h0m2 0h0m3 0h0m22 0h0m14 0h0m65 0h0m-110 1h0m2 0h0m4 0h0m2 0h0m2 0h0m3 0h0m4 0h0m4 0h0m8 0h0m8 0h0m46 0h0m-120 1h0m13 0h0m11 0h0m9 0h0m6 0h0m2 0h0m5 0h0m5 0h0m10 0h0m15 0h0m68 0h0m-138 1h0m31 0h0m1 0h0m2 0h0m10 0h0m29 0h0m44 0h0m19 0h0m-93 1h0m6 0h0m1 0h0m16 0h0m21 0h0m34 0h0m-114 1h0m25 0h0m7 0h0m29 0h0" stroke="#000" stroke-opacity="0.85" stroke-width="1.3" stroke-linecap="square" fill="none"/></g><g transform="scale(0.5)"><path d="M77 258h0m98 0h0m23 0h0m29 0h0m-186 2h0m119 0h0m-67 1h0m19 0h0m116 1h0m-180 1h0m52 0h0m103 0h0m-130 1h0m120 0h0m-40 1h0m6 1h0m47 0h0m10 0h0m-127 1h0m16 0h0m100 0h0m1 0h0m-88 1h0m43 0h0m-21 1h0m39 0h0m27 1h0m19 0h0m-176 1h0m154 0h0m-121 1h0m15 0h0m-53 1h0m44 0h0m66 0h0m-79 1h0m111 0h0m-124 4h0m123 0h0m30 3h0m-15 2h0m-156 1h0m46 0h0m137 0h0m-92 1h0m86 0h0m-144 1h0m83 0h0m7 0h0m-115 1h0m59 0h0m-8 1h0m107 0h0m-149 1h0m26 0h0m104 1h0m11 0h0m5 1h0m4 0h0m-144 1h0m160 0h0m-138 1h0m33 0h0m3 0h0m15 0h0m80 0h0m-75 1h0m-38 1h0m21 0h0m40 0h0m-15 2h0m-79 1h0m32 1h0m52 0h0m-114 1h0m86 0h0m-74 2h0m152 0h0m19 0h0m-181 1h0m31 0h0m68 0h0m-97 2h0m27 0h0m34 0h0m14 1h0m-79 1h0m105 0h0m14 0h0m40 0h0m-115 1h0m20 0h0m16 0h0m33 0h0m-86 1h0m12 0h0m1 0h0m79 0h0m3 0h0m-111 1h0m60 0h0m47 0h0m15 0h0m-105 3h0m2 1h0m86 0h0m51 0h0m-167 1h0m29 0h0m34 0h0m76 0h0m19 0h0m-4 1h0m-130 1h0m24 1h0m95 0h0m-104 1h0m51 0h0m53 0h0m-67 1h0m-1 1h0m7 0h0m25 0h0m-48 1h0m116 0h0m3 1h0m-90 1h0m-16 1h0m27 0h0m21 0h0m14 0h0m26 0h0m-18 1h0m-35 1h0m74 0h0m-151 1h0m75 0h0m-1 1h0m3 0h0m47 0h0m17 1h0m-84 1h0m22 0h0m-104 1h0m15 0h0m59 1h0m1 0h0m54 0h0m-63 1h0m5 0h0m60 0h0m-137 1h0m63 0h0m105 0h0m13 1h0m-12 1h0m-69 1h0m66 0h0m-127 1h0m-19 1h0m67 0h0m66 0h0m-89 2h0m90 0h0m-56 1h0m29 0h0m37 0h0m16 0h0m-94 1h0m-64 1h0m44 0h0m12 0h0m74 0h0m10 0h0m3 0h0m-118 1h0m136 0h0m-40 1h0m-100 1h0m17 0h0m74 0h0m-42 1h0m-79 1h0m-5 1h0m162 0h0m15 0h0m-29 1h0m19 0h0m-47 1h0m-53 1h0m77 0h0m-146 1h0m148 0h0m13 0h0m-105 2h0m124 0h0m-90 1h0m78 0h0m-39 1h0m17 0h0m-3 1h0m-27 2h0m-109 1h0m142 0h0m-23 1h0m7 0h0m11 0h0m17 0h0m-164 1h0m172 0h0m10 0h0m-16 1h0m-114 1h0m28 1h0m-17 1h0m7 1h0m21 0h0m-94 1h0m64 0h0m41 0h0m69 0h0m3 0h0m-174 1h0m164 0h0m-105 2h0m75 0h0m-74 1h0m60 0h0m61 1h0m-58 2h0m34 0h0m3 3h0m-100 4h0m19 0h0m99 0h0m-24 2h0m5 0h0m-33 1h0m-61 1h0m-58 1h0m157 3h0m11 0h0m-121 1h0m16 0h0m48 0h0m19 0h0m-126 2h0m71 0h0m48 1h0m-86 1h0m-27 1h0m44 0h0m-30 2h0m47 0h0m17 0h0m-55 1h0m45 0h0m44 0h0m2 1h0m-115 1h0m18 0h0m25 0h0m32 0h0m-89 1h0m155 0h0m-118 1h0m76 0h0m26 0h0m22 1h0m-137 1h0m5 0h0m48 0h0m5 0h0m50 0h0m37 0h0m3 0h0" stroke="#000" stroke-opacity="0.3" stroke-width="1.2" stroke-linecap="square" fill="none"/></g></g>
<g transform="rotate(-0.25 67.38 166.88)">
<path class="ax" stroke-width=".7" stroke="#222" d="M19.9 128.3H114.85V205.45"/>
<path class="ax" stroke-width="1" stroke="#111" d="M18.4 205.45H114.85"/>
<path class="ax" stroke-width="1" stroke="#111" d="M19.9 126.1V205.95"/>
<path class="ax" stroke-width=".75" stroke="#222" d="M74.75 128.3V205.45M19.9 184.6H114.85"/>
<path class="ax" stroke-width=".55" d="M19.9 205.45v1.8M19.9 205.45h-1.8M27.05 205.45v1M19.9 199.64h-1M31.23 205.45v1M19.9 196.25h-1M36.49 205.45v1M19.9 191.97h-1M39.96 205.45v1M19.9 189.15h-1M43.64 205.45v1.8M19.9 186.16h-1.8M50.78 205.45v1M19.9 180.36h-1M54.96 205.45v1M19.9 176.96h-1M60.23 205.45v1M19.9 172.68h-1M63.7 205.45v1M19.9 169.86h-1M67.38 205.45v1.8M19.9 166.88h-1.8M74.52 205.45v1M19.9 161.07h-1M78.7 205.45v1M19.9 157.67h-1M83.97 205.45v1M19.9 153.39h-1M87.44 205.45v1M19.9 150.58h-1M91.11 205.45v1.8M19.9 147.59h-1.8M98.26 205.45v1M19.9 141.78h-1M102.44 205.45v1M19.9 138.39h-1M107.7 205.45v1M19.9 134.11h-1M111.17 205.45v1M19.9 131.29h-1M114.85 205.45v1.8M19.9 128.3h-1.8"/>
<text class="tk" x="19.9" y="210.35" text-anchor="middle">10<tspan font-size="2.8" dy="-1.4">0</tspan></text>
<text class="tk" transform="translate(17.8 208.05) rotate(-90)">10<tspan font-size="2.8" dy="-1.4">0</tspan></text>
<text class="tk" x="43.64" y="210.35" text-anchor="middle">10<tspan font-size="2.8" dy="-1.4">1</tspan></text>
<text class="tk" transform="translate(17.8 188.76) rotate(-90)">10<tspan font-size="2.8" dy="-1.4">1</tspan></text>
<text class="tk" x="67.38" y="210.35" text-anchor="middle">10<tspan font-size="2.8" dy="-1.4">2</tspan></text>
<text class="tk" transform="translate(17.8 169.47) rotate(-90)">10<tspan font-size="2.8" dy="-1.4">2</tspan></text>
<text class="tk" x="91.11" y="210.35" text-anchor="middle">10<tspan font-size="2.8" dy="-1.4">3</tspan></text>
<text class="tk" transform="translate(17.8 150.19) rotate(-90)">10<tspan font-size="2.8" dy="-1.4">3</tspan></text>
<text class="tk" x="114.85" y="210.35" text-anchor="middle">10<tspan font-size="2.8" dy="-1.4">4</tspan></text>
<text class="tk" transform="translate(17.8 130.9) rotate(-90)">10<tspan font-size="2.8" dy="-1.4">4</tspan></text>
</g>
<clipPath id="cp3"><rect x="140.8" y="128.3" width="94.2" height="76.2"/></clipPath>
<g clip-path="url(#cp3)"><path d="M184.0 188.9L185.0 189.8L183.7 190.8L183.0 191.7L183.2 192.7L180.5 193.3L182.0 194.6L180.7 195.3L179.4 196.1L178.6 197.1L174.5 196.4L173.5 197.1L172.1 197.6L172.7 200.1L169.7 199.1L168.3 200.0L166.9 201.6L164.4 199.2L162.8 199.8L160.9 200.7L158.9 201.1L156.7 201.5L156.0 199.7L153.4 200.5L153.0 199.0L150.8 199.2L149.5 198.6L148.3 198.0L145.4 198.1L144.8 197.2L146.6 195.5L143.1 195.5L141.5 194.8L143.3 193.5L142.6 192.7L140.6 192.0L143.2 190.9L140.3 190.0L143.8 189.2L143.5 188.2L144.6 187.4L144.5 186.4L145.6 185.5L148.4 185.3L148.0 184.0L149.3 183.2L151.4 183.0L153.1 182.6L154.0 181.4L155.8 181.1L158.3 181.9L159.4 180.1L161.1 179.0L163.2 180.0L165.1 179.8L166.5 181.2L169.1 179.7L170.7 180.2L172.4 180.6L173.5 181.4L176.3 180.9L177.6 181.6L179.1 182.1L178.5 183.6L182.1 183.3L182.4 184.4L185.0 184.7L181.4 186.6L183.5 187.1L183.6 188.0Z" fill="#000"/><g transform="scale(0.5)"><path d="M356 344h0m-5 5h0m13 0h0m-38 1h0m7 1h0m-10 2h0m2 1h0m13 0h0m-6 1h0m3 0h0m4 0h0m-31 1h0m15 0h0m21 0h0m9 0h0m-46 1h0m16 0h0m7 0h0m2 0h0m-15 1h0m8 0h0m2 0h0m12 0h0m10 0h0m4 0h0m14 0h0m-59 1h0m5 0h0m2 0h0m1 0h0m2 0h0m5 0h0m4 0h0m10 0h0m1 0h0m1 0h0m7 0h0m-36 1h0m7 0h0m3 0h0m6 0h0m1 0h0m11 0h0m1 0h0m3 0h0m2 0h0m2 0h0m3 0h0m4 0h0m5 0h0m9 0h0m3 0h0m-85 1h0m4 0h0m8 0h0m4 0h0m1 0h0m14 0h0m1 0h0m5 0h0m2 0h0m3 0h0m1 0h0m1 0h0m4 0h0m3 0h0m6 0h0m3 0h0m14 0h0m3 0h0m-74 1h0m20 0h0m7 0h0m9 0h0m3 0h0m3 0h0m8 0h0m1 0h0m1 0h0m2 0h0m5 0h0m4 0h0m8 0h0m8 0h0m16 0h0m-94 1h0m15 0h0m6 0h0m2 0h0m3 0h0m4 0h0m21 0h0m6 0h0m6 0h0m1 0h0m4 0h0m-63 1h0m1 0h0m1 0h0m12 0h0m37 0h0m1 0h0m7 0h0m1 0h0m8 0h0m2 0h0m6 0h0m5 0h0m-87 1h0m15 0h0m1 0h0m5 0h0m1 0h0m42 0h0m4 0h0m3 0h0m3 0h0m1 0h0m5 0h0m8 0h0m-80 1h0m5 0h0m2 0h0m1 0h0m1 0h0m47 0h0m5 0h0m1 0h0m1 0h0m2 0h0m1 0h0m2 0h0m1 0h0m4 0h0m5 0h0m-72 1h0m53 0h0m1 0h0m2 0h0m1 0h0m2 0h0m12 0h0m-90 1h0m8 0h0m3 0h0m64 0h0m2 0h0m7 0h0m2 0h0m1 0h0m-80 1h0m4 0h0m65 0h0m4 0h0m8 0h0m2 0h0m-84 1h0m4 0h0m2 0h0m1 0h0m1 0h0m64 0h0m2 0h0m3 0h0m1 0h0m1 0h0m5 0h0m-81 1h0m1 0h0m2 0h0m72 0h0m5 0h0m3 0h0m3 0h0m-88 1h0m2 0h0m1 0h0m1 0h0m68 0h0m5 0h0m2 0h0m-80 1h0m4 0h0m70 0h0m6 0h0m4 0h0m-88 1h0m78 0h0m4 0h0m-79 1h0m3 0h0m76 0h0m2 0h0m13 0h0m-99 1h0m1 0h0m4 0h0m1 0h0m1 0h0m77 0h0m1 0h0m-81 1h0m1 0h0m2 0h0m75 0h0m1 0h0m1 0h0m2 0h0m7 0h0m-90 1h0m1 0h0m85 0h0m1 0h0m-1 1h0m-88 1h0m2 0h0m79 0h0m5 0h0m5 0h0m-90 1h0m1 0h0m1 0h0m77 0h0m1 0h0m5 0h0m3 0h0m-87 1h0m2 0h0m77 0h0m5 0h0m2 0h0m-88 1h0m87 0h0m-87 1h0m1 0h0m1 0h0m1 0h0m76 0h0m1 0h0m6 0h0m3 0h0m1 0h0m11 0h0m-100 1h0m1 0h0m79 0h0m2 0h0m2 0h0m-82 1h0m1 0h0m76 0h0m2 0h0m1 0h0m1 0h0m6 0h0m5 0h0m-93 1h0m76 0h0m4 0h0m11 0h0m-92 1h0m1 0h0m2 0h0m71 0h0m1 0h0m1 0h0m6 0h0m1 0h0m-81 1h0m73 0h0m-77 1h0m2 0h0m6 0h0m66 0h0m2 0h0m2 0h0m2 0h0m7 0h0m4 0h0m13 0h0m-99 1h0m67 0h0m10 0h0m19 0h0m-98 1h0m2 0h0m1 0h0m3 0h0m63 0h0m4 0h0m7 0h0m2 0h0m-74 1h0m1 0h0m-12 1h0m2 0h0m3 0h0m3 0h0m1 0h0m2 0h0m58 0h0m1 0h0m4 0h0m1 0h0m3 0h0m-77 1h0m65 0h0m2 0h0m1 0h0m10 0h0m-77 1h0m3 0h0m3 0h0m1 0h0m7 0h0m60 0h0m-69 1h0m6 0h0m3 0h0m44 0h0m3 0h0m11 0h0m1 0h0m-70 1h0m2 0h0m1 0h0m4 0h0m3 0h0m3 0h0m4 0h0m1 0h0m2 0h0m28 0h0m2 0h0m1 0h0m4 0h0m8 0h0m-57 1h0m5 0h0m2 0h0m5 0h0m2 0h0m1 0h0m3 0h0m2 0h0m15 0h0m1 0h0m1 0h0m1 0h0m2 0h0m2 0h0m18 0h0m3 0h0m-71 1h0m2 0h0m2 0h0m3 0h0m18 0h0m10 0h0m1 0h0m2 0h0m9 0h0m1 0h0m2 0h0m1 0h0m1 0h0m4 0h0m-59 1h0m15 0h0m2 0h0m3 0h0m3 0h0m7 0h0m1 0h0m3 0h0m2 0h0m2 0h0m3 0h0m5 0h0m4 0h0m5 0h0m4 0h0m2 0h0m1 0h0m38 0h0m-97 1h0m2 0h0m10 0h0m2 0h0m9 0h0m5 0h0m2 0h0m5 0h0m2 0h0m1 0h0m3 0h0m4 0h0m28 0h0m-64 1h0m9 0h0m3 0h0m2 0h0m8 0h0m2 0h0m14 0h0m7 0h0m10 0h0m7 0h0m-62 1h0m7 0h0m8 0h0m4 0h0m8 0h0m4 0h0m4 0h0m2 0h0m18 0h0m-47 1h0m10 0h0m9 0h0m6 0h0m3 0h0m4 0h0m2 0h0m-26 1h0m12 0h0m2 0h0m2 0h0m7 0h0m-17 1h0m14 0h0m-26 1h0" stroke="#000" stroke-opacity="1" stroke-width="1.5" stroke-linecap="square" fill="none"/></g><g transform="scale(0.5)"><path d="M350 342h0m-46 3h0m46 0h0m-11 3h0m33 0h0m-41 1h0m17 0h0m13 0h0m24 0h0m-57 1h0m10 0h0m17 0h0m7 0h0m13 0h0m-43 1h0m20 0h0m-13 1h0m10 0h0m4 0h0m29 0h0m-44 1h0m23 0h0m10 0h0m-30 1h0m-15 1h0m13 0h0m5 0h0m1 0h0m1 0h0m3 0h0m9 0h0m-46 1h0m20 0h0m5 0h0m66 0h0m-120 1h0m44 0h0m29 0h0m31 0h0m-72 1h0m1 0h0m4 0h0m7 0h0m15 0h0m7 0h0m3 0h0m22 0h0m9 0h0m-71 1h0m4 0h0m1 0h0m6 0h0m22 0h0m11 0h0m1 0h0m1 0h0m1 0h0m10 0h0m3 0h0m7 0h0m19 0h0m-71 1h0m3 0h0m3 0h0m5 0h0m5 0h0m2 0h0m2 0h0m7 0h0m2 0h0m2 0h0m2 0h0m3 0h0m4 0h0m14 0h0m15 0h0m-78 1h0m3 0h0m2 0h0m4 0h0m2 0h0m1 0h0m5 0h0m2 0h0m1 0h0m2 0h0m3 0h0m2 0h0m6 0h0m23 0h0m-62 1h0m18 0h0m1 0h0m5 0h0m2 0h0m2 0h0m1 0h0m3 0h0m2 0h0m9 0h0m1 0h0m1 0h0m9 0h0m20 0h0m8 0h0m-51 1h0m4 0h0m3 0h0m10 0h0m11 0h0m12 0h0m-85 1h0m6 0h0m45 0h0m3 0h0m1 0h0m5 0h0m6 0h0m2 0h0m13 0h0m-78 1h0m48 0h0m2 0h0m8 0h0m4 0h0m9 0h0m3 0h0m2 0h0m-21 1h0m2 0h0m1 0h0m3 0h0m1 0h0m1 0h0m2 0h0m7 0h0m3 0h0m3 0h0m-90 1h0m8 0h0m7 0h0m65 0h0m2 0h0m37 0h0m-113 1h0m61 0h0m4 0h0m6 0h0m5 0h0m-13 1h0m1 0h0m6 0h0m2 0h0m1 0h0m4 0h0m1 0h0m1 0h0m1 0h0m-15 1h0m5 0h0m2 0h0m5 0h0m1 0h0m1 0h0m1 0h0m3 0h0m-16 1h0m8 0h0m2 0h0m11 0h0m2 0h0m-24 1h0m1 0h0m5 0h0m2 0h0m3 0h0m3 0h0m1 0h0m-12 1h0m2 0h0m1 0h0m1 0h0m4 0h0m3 0h0m3 0h0m1 0h0m4 0h0m-20 1h0m2 0h0m2 0h0m4 0h0m1 0h0m2 0h0m1 0h0m1 0h0m3 0h0m-88 1h0m72 0h0m5 0h0m4 0h0m4 0h0m2 0h0m2 0h0m6 0h0m-102 1h0m80 0h0m2 0h0m2 0h0m1 0h0m4 0h0m1 0h0m11 0h0m1 0h0m9 0h0m-31 1h0m2 0h0m1 1h0m1 0h0m8 0h0m2 0h0m2 0h0m2 0h0m15 0h0m-113 1h0m81 0h0m1 0h0m1 0h0m1 0h0m5 0h0m4 0h0m-12 1h0m2 0h0m2 0h0m1 0h0m5 0h0m11 0h0m-21 1h0m3 0h0m7 0h0m1 0h0m26 0h0m-117 1h0m79 0h0m3 0h0m1 0h0m3 0h0m2 0h0m4 0h0m3 0h0m13 0h0m-29 1h0m1 0h0m2 0h0m2 0h0m3 0h0m5 0h0m-14 1h0m1 0h0m1 0h0m7 0h0m4 0h0m4 0h0m-13 1h0m1 0h0m1 0h0m1 0h0m3 0h0m1 0h0m1 0h0m1 0h0m2 0h0m3 0h0m1 0h0m-21 1h0m1 0h0m3 0h0m6 0h0m5 0h0m2 0h0m4 0h0m7 0h0m-28 1h0m2 0h0m4 0h0m1 0h0m4 0h0m2 0h0m1 0h0m3 0h0m10 0h0m-20 1h0m1 0h0m1 0h0m1 0h0m1 0h0m3 0h0m8 0h0m-24 1h0m1 0h0m3 0h0m-4 1h0m8 0h0m4 0h0m2 0h0m12 0h0m13 0h0m-41 1h0m2 0h0m1 0h0m6 0h0m7 0h0m1 0h0m1 0h0m7 0h0m3 0h0m-29 1h0m2 0h0m3 0h0m4 0h0m3 0h0m2 0h0m1 0h0m13 0h0m-31 1h0m3 0h0m2 0h0m1 0h0m3 0h0m-12 1h0m3 0h0m3 0h0m1 0h0m3 0h0m1 0h0m1 0h0m1 0h0m17 0h0m10 0h0m-42 1h0m5 0h0m13 0h0m1 0h0m2 0h0m-77 1h0m57 0h0m3 0h0m3 0h0m6 0h0m4 0h0m2 0h0m9 0h0m9 0h0m-91 1h0m10 0h0m38 0h0m1 0h0m3 0h0m9 0h0m6 0h0m18 0h0m-43 1h0m5 0h0m13 0h0m8 0h0m5 0h0m-74 1h0m25 0h0m22 0h0m1 0h0m1 0h0m4 0h0m3 0h0m4 0h0m3 0h0m5 0h0m20 0h0m-75 1h0m10 0h0m1 0h0m7 0h0m1 0h0m3 0h0m9 0h0m5 0h0m2 0h0m1 0h0m3 0h0m4 0h0m2 0h0m7 0h0m7 0h0m2 0h0m-64 1h0m2 0h0m9 0h0m2 0h0m10 0h0m16 0h0m10 0h0m3 0h0m31 0h0m-96 1h0m13 0h0m2 0h0m6 0h0m3 0h0m4 0h0m6 0h0m6 0h0m3 0h0m2 0h0m11 0h0m2 0h0m15 0h0m-51 1h0m5 0h0m3 0h0m2 0h0m4 0h0m9 0h0m4 0h0m7 0h0m37 0h0m-93 1h0m20 0h0m4 0h0m13 0h0m6 0h0m13 0h0m12 0h0m5 0h0m7 0h0m-66 1h0m10 0h0m10 0h0m2 0h0m12 0h0m19 0h0m12 0h0m-76 1h0m30 0h0m7 0h0m28 0h0m13 0h0m-51 1h0m14 0h0m9 1h0" stroke="#000" stroke-opacity="0.85" stroke-width="1.3" stroke-linecap="square" fill="none"/></g><g transform="scale(0.5)"><path d="M445 259h0m-14 2h0m-148 2h0m57 0h0m-47 1h0m78 2h0m-45 1h0m122 2h0m-157 2h0m-1 2h0m83 1h0m-80 1h0m128 0h0m4 5h0m10 0h0m-140 1h0m5 0h0m142 0h0m-36 3h0m-16 1h0m-97 2h0m2 0h0m3 1h0m38 0h0m-44 1h0m68 0h0m-26 1h0m104 0h0m3 0h0m-147 2h0m34 1h0m97 0h0m-117 3h0m-1 1h0m160 1h0m-105 1h0m27 1h0m-34 1h0m-17 1h0m-31 1h0m68 0h0m-90 1h0m51 0h0m41 0h0m-83 1h0m138 3h0m-149 1h0m52 0h0m-19 2h0m57 0h0m-84 1h0m56 0h0m74 3h0m-67 2h0m1 0h0m37 3h0m27 3h0m45 0h0m-177 1h0m109 0h0m-36 2h0m81 0h0m-132 4h0m130 0h0m-44 1h0m58 0h0m-145 2h0m27 0h0m40 1h0m-55 4h0m43 0h0m-26 2h0m80 1h0m-126 3h0m33 0h0m128 1h0m-42 2h0m19 0h0m25 5h0m-76 2h0m27 0h0m62 0h0m-156 2h0m-24 1h0m30 0h0m35 0h0m45 1h0m67 0h0m-2 2h0m-59 3h0m17 1h0m-113 1h0m118 0h0m1 0h0m-134 1h0m83 1h0m-82 2h0m118 2h0m23 2h0m-61 1h0m-6 1h0m18 8h0m41 1h0m-23 3h0m43 2h0m15 2h0m-171 2h0m177 1h0m-88 2h0m34 0h0m52 2h0m-161 1h0m141 0h0m5 0h0m-133 3h0m95 1h0m57 1h0m-155 2h0" stroke="#000" stroke-opacity="0.3" stroke-width="1.2" stroke-linecap="square" fill="none"/></g></g>
<g transform="rotate(-0.25 187.9 166.4)">
<path class="ax" stroke-width=".7" stroke="#222" d="M140.95 128.1H234.85V204.7"/>
<path class="ax" stroke-width="1" stroke="#111" d="M139.45 204.7H234.85"/>
<path class="ax" stroke-width="1" stroke="#111" d="M140.95 125.9V205.2"/>
<path class="ax" stroke-width=".75" stroke="#222" d="M196.75 128.1V204.7M140.95 182.1H234.85"/>
<path class="ax" stroke-width=".55" d="M140.95 204.7v1.8M140.95 204.7h-1.8M148.02 204.7v1M140.95 198.94h-1M152.15 204.7v1M140.95 195.56h-1M157.36 204.7v1M140.95 191.31h-1M160.79 204.7v1M140.95 188.52h-1M164.43 204.7v1.8M140.95 185.55h-1.8M171.49 204.7v1M140.95 179.79h-1M175.63 204.7v1M140.95 176.41h-1M180.83 204.7v1M140.95 172.16h-1M184.26 204.7v1M140.95 169.37h-1M187.9 204.7v1.8M140.95 166.4h-1.8M194.97 204.7v1M140.95 160.64h-1M199.1 204.7v1M140.95 157.26h-1M204.31 204.7v1M140.95 153.01h-1M207.74 204.7v1M140.95 150.22h-1M211.38 204.7v1.8M140.95 147.25h-1.8M218.44 204.7v1M140.95 141.49h-1M222.58 204.7v1M140.95 138.11h-1M227.78 204.7v1M140.95 133.86h-1M231.21 204.7v1M140.95 131.07h-1M234.85 204.7v1.8M140.95 128.1h-1.8"/>
<text class="tk" x="140.95" y="209.6" text-anchor="middle">10<tspan font-size="2.8" dy="-1.4">0</tspan></text>
<text class="tk" transform="translate(138.85 207.3) rotate(-90)">10<tspan font-size="2.8" dy="-1.4">0</tspan></text>
<text class="tk" x="164.43" y="209.6" text-anchor="middle">10<tspan font-size="2.8" dy="-1.4">1</tspan></text>
<text class="tk" transform="translate(138.85 188.15) rotate(-90)">10<tspan font-size="2.8" dy="-1.4">1</tspan></text>
<text class="tk" x="187.9" y="209.6" text-anchor="middle">10<tspan font-size="2.8" dy="-1.4">2</tspan></text>
<text class="tk" transform="translate(138.85 169) rotate(-90)">10<tspan font-size="2.8" dy="-1.4">2</tspan></text>
<text class="tk" x="211.38" y="209.6" text-anchor="middle">10<tspan font-size="2.8" dy="-1.4">3</tspan></text>
<text class="tk" transform="translate(138.85 149.85) rotate(-90)">10<tspan font-size="2.8" dy="-1.4">3</tspan></text>
<text class="tk" x="234.85" y="209.6" text-anchor="middle">10<tspan font-size="2.8" dy="-1.4">4</tspan></text>
<text class="tk" transform="translate(138.85 130.7) rotate(-90)">10<tspan font-size="2.8" dy="-1.4">4</tspan></text>
</g>
<clipPath id="cp4"><rect x="20.6" y="229" width="94.8" height="77"/></clipPath>
<g clip-path="url(#cp4)"><path d="M53.2 285.5L54.7 286.2L52.1 287.5L50.7 288.4L52.1 289.3L52.1 290.3L52.5 291.4L51.4 292.2L50.6 293.1L49.8 293.9L47.9 294.1L47.7 295.3L47.2 296.5L46.4 297.4L45.4 298.4L43.2 297.6L42.1 298.3L40.9 298.9L39.6 299.6L38.1 297.7L36.9 298.9L35.5 299.3L34.3 299.1L33.4 298.2L31.9 298.6L31.0 298.0L29.0 298.6L29.0 297.1L27.7 296.9L27.4 296.0L26.6 295.4L25.3 295.0L25.8 293.8L24.2 293.5L23.9 292.6L22.6 292.0L23.3 290.9L23.8 289.9L23.1 289.0L24.5 288.1L23.7 287.1L25.8 286.5L25.1 285.3L26.0 284.5L26.4 283.6L27.2 282.7L28.8 282.4L28.9 281.1L29.4 279.7L31.3 279.8L32.9 279.9L34.0 279.3L35.5 279.7L36.5 278.6L37.8 278.7L39.2 277.9L40.2 279.3L42.0 277.5L42.8 278.9L43.9 279.2L45.1 279.4L46.2 279.7L47.5 279.8L46.3 282.1L49.0 281.2L50.4 281.4L50.9 282.2L51.8 282.9L51.0 284.2L53.2 284.5Z" fill="#000"/><g transform="scale(0.5)"><path d="M199 498h0m-6 2h0m8 0h0m2 0h0m-3 5h0m-21 4h0m23 0h0m-20 1h0m8 0h0m13 0h0m-19 2h0m3 1h0m7 0h0m3 0h0m2 0h0m-14 1h0m5 0h0m6 0h0m2 0h0m5 0h0m-12 1h0m4 0h0m1 0h0m-8 1h0m4 0h0m2 0h0m1 0h0m4 0h0m3 0h0m6 0h0m-26 1h0m1 0h0m10 0h0m1 0h0m1 0h0m1 0h0m1 0h0m-15 1h0m7 0h0m9 0h0m-16 1h0m5 0h0m5 0h0m4 0h0m1 0h0m11 0h0m-18 1h0m5 0h0m-10 1h0m3 0h0m4 0h0m1 0h0m2 0h0m1 0h0m-27 1h0m16 0h0m2 0h0m2 0h0m1 0h0m-7 1h0m9 0h0m2 0h0m2 0h0m-14 1h0m2 0h0m2 0h0m2 0h0m1 0h0m2 0h0m1 0h0m7 0h0m1 0h0m-20 1h0m9 0h0m10 0h0m-14 1h0m2 0h0m5 0h0m3 0h0m-3 1h0m3 0h0m1 0h0m3 0h0m-19 1h0m8 0h0m5 0h0m7 0h0m-19 1h0m2 0h0m2 0h0m1 0h0m6 0h0m1 0h0m4 0h0m-7 1h0m1 0h0m1 0h0m1 0h0m6 0h0m-13 1h0m2 0h0m3 0h0m1 0h0m9 0h0m-24 1h0m8 0h0m2 0h0m22 0h0m-34 1h0m2 0h0m1 0h0m1 0h0m1 0h0m10 0h0m1 0h0m1 0h0m-16 1h0m1 0h0m3 0h0m6 0h0m-13 1h0m14 1h0m3 0h0m-3 1h0m-2 1h0m1 0h0m5 0h0m-10 1h0m14 0h0m-13 1h0m16 0h0m-26 1h0m16 0h0m5 0h0m-6 1h0m-5 2h0m3 0h0m1 0h0m4 0h0m-118 2h0m112 0h0m-90 2h0m3 1h0m88 0h0m9 0h0m-132 1h0m4 1h0m23 0h0m88 0h0m-92 1h0m-13 1h0m4 0h0m12 0h0m20 0h0m52 0h0m-95 1h0m11 0h0m13 0h0m4 0h0m-30 1h0m7 0h0m7 0h0m2 0h0m2 0h0m2 0h0m8 0h0m9 0h0m-29 1h0m4 0h0m2 0h0m1 0h0m6 0h0m4 0h0m13 0h0m1 0h0m-54 1h0m13 0h0m1 0h0m4 0h0m13 0h0m5 0h0m3 0h0m4 0h0m17 0h0m68 0h0m-122 1h0m1 0h0m10 0h0m2 0h0m5 0h0m2 0h0m3 0h0m8 0h0m4 0h0m4 0h0m2 0h0m5 0h0m59 0h0m5 0h0m11 0h0m-114 1h0m1 0h0m3 0h0m4 0h0m7 0h0m8 0h0m9 0h0m8 0h0m5 0h0m53 0h0m9 0h0m4 0h0m-119 1h0m3 0h0m4 0h0m1 0h0m2 0h0m49 0h0m48 0h0m1 0h0m6 0h0m9 0h0m-112 1h0m1 0h0m1 0h0m1 0h0m28 0h0m2 0h0m9 0h0m11 0h0m-67 1h0m3 0h0m3 0h0m2 0h0m1 0h0m4 0h0m30 0h0m2 0h0m13 0h0m48 0h0m-108 1h0m5 0h0m44 0h0m1 0h0m4 0h0m8 0h0m50 0h0m1 0h0m1 0h0m1 0h0m3 0h0m5 0h0m-120 1h0m4 0h0m1 0h0m3 0h0m1 0h0m39 0h0m54 0h0m12 0h0m6 0h0m2 0h0m1 0h0m2 0h0m-132 1h0m10 0h0m44 0h0m13 0h0m41 0h0m8 0h0m1 0h0m6 0h0m13 0h0m-132 1h0m8 0h0m43 0h0m7 0h0m52 0h0m1 0h0m3 0h0m4 0h0m5 0h0m3 0h0m-131 1h0m11 0h0m48 0h0m7 0h0m4 0h0m39 0h0m1 0h0m2 0h0m2 0h0m6 0h0m1 0h0m1 0h0m5 0h0m1 0h0m2 0h0m6 0h0m-131 1h0m2 0h0m4 0h0m47 0h0m2 0h0m1 0h0m2 0h0m49 0h0m4 0h0m1 0h0m4 0h0m2 0h0m2 0h0m5 0h0m8 0h0m-133 1h0m1 0h0m2 0h0m2 0h0m49 0h0m51 0h0m4 0h0m1 0h0m2 0h0m4 0h0m1 0h0m2 0h0m1 0h0m1 0h0m1 0h0m1 0h0m1 0h0m10 0h0m-129 1h0m1 0h0m53 0h0m1 0h0m1 0h0m45 0h0m7 0h0m2 0h0m2 0h0m1 0h0m1 0h0m4 0h0m1 0h0m1 0h0m-122 1h0m1 0h0m1 0h0m50 0h0m1 0h0m11 0h0m41 0h0m1 0h0m1 0h0m2 0h0m4 0h0m1 0h0m2 0h0m2 0h0m2 0h0m4 0h0m1 0h0m-71 1h0m3 0h0m47 0h0m2 0h0m1 0h0m1 0h0m1 0h0m2 0h0m1 0h0m1 0h0m1 0h0m2 0h0m1 0h0m3 0h0m4 0h0m2 0h0m3 0h0m-134 1h0m4 0h0m1 0h0m1 0h0m54 0h0m2 0h0m51 0h0m2 0h0m2 0h0m3 0h0m2 0h0m2 0h0m1 0h0m1 0h0m2 0h0m5 0h0m-127 1h0m51 0h0m3 0h0m6 0h0m1 0h0m11 0h0m25 0h0m10 0h0m2 0h0m1 0h0m1 0h0m2 0h0m2 0h0m1 0h0m1 0h0m1 0h0m1 0h0m2 0h0m8 0h0m-130 1h0m51 0h0m11 0h0m41 0h0m3 0h0m1 0h0m1 0h0m3 0h0m1 0h0m1 0h0m2 0h0m1 0h0m2 0h0m1 0h0m3 0h0m6 0h0m-75 1h0m2 0h0m46 0h0m10 0h0m1 0h0m2 0h0m3 0h0m4 0h0m5 0h0m-74 1h0m2 0h0m3 0h0m51 0h0m2 0h0m1 0h0m1 0h0m2 0h0m2 0h0m1 0h0m2 0h0m2 0h0m5 0h0m-134 1h0m3 0h0m59 0h0m49 0h0m1 0h0m2 0h0m1 0h0m1 0h0m2 0h0m1 0h0m1 0h0m1 0h0m2 0h0m1 0h0m1 0h0m1 0h0m1 0h0m1 0h0m1 0h0m1 0h0m1 0h0m3 0h0m-133 1h0m4 0h0m2 0h0m72 0h0m29 0h0m6 0h0m3 0h0m2 0h0m1 0h0m1 0h0m1 0h0m3 0h0m3 0h0m7 0h0m-134 1h0m2 0h0m1 0h0m54 0h0m1 0h0m54 0h0m2 0h0m2 0h0m2 0h0m1 0h0m1 0h0m2 0h0m3 0h0m2 0h0m4 0h0m1 0h0m1 0h0m6 0h0m-138 1h0m57 0h0m1 0h0m51 0h0m4 0h0m1 0h0m1 0h0m1 0h0m1 0h0m2 0h0m1 0h0m1 0h0m2 0h0m-124 1h0m1 0h0m5 0h0m52 0h0m6 0h0m47 0h0m5 0h0m2 0h0m1 0h0m1 0h0m1 0h0m2 0h0m1 0h0m1 0h0m1 0h0m4 0h0m2 0h0m2 0h0m-133 1h0m4 0h0m51 0h0m1 0h0m7 0h0m4 0h0m46 0h0m3 0h0m1 0h0m1 0h0m1 0h0m1 0h0m1 0h0m4 0h0m1 0h0m5 0h0m1 0h0m-131 1h0m2 0h0m1 0h0m51 0h0m56 0h0m1 0h0m2 0h0m2 0h0m1 0h0m1 0h0m1 0h0m1 0h0m2 0h0m1 0h0m1 0h0m4 0h0m4 0h0m-127 1h0m47 0h0m1 0h0m8 0h0m2 0h0m50 0h0m4 0h0m1 0h0m1 0h0m2 0h0m1 0h0m1 0h0m1 0h0m2 0h0m1 0h0m-121 1h0m51 0h0m3 0h0m47 0h0m2 0h0m1 0h0m2 0h0m2 0h0m4 0h0m2 0h0m3 0h0m2 0h0m1 0h0m1 0h0m3 0h0m-123 1h0m45 0h0m4 0h0m2 0h0m53 0h0m4 0h0m2 0h0m2 0h0m1 0h0m1 0h0m1 0h0m2 0h0m1 0h0m2 0h0m-128 1h0m8 0h0m43 0h0m3 0h0m2 0h0m1 0h0m1 0h0m52 0h0m1 0h0m4 0h0m5 0h0m1 0h0m1 0h0m2 0h0m1 0h0m3 0h0m4 0h0m3 0h0m-135 1h0m9 0h0m42 0h0m1 0h0m4 0h0m56 0h0m3 0h0m1 0h0m2 0h0m1 0h0m1 0h0m1 0h0m1 0h0m1 0h0m2 0h0m9 0h0m-127 1h0m2 0h0m43 0h0m56 0h0m4 0h0m7 0h0m3 0h0m3 0h0m3 0h0m-122 1h0m41 0h0m66 0h0m3 0h0m5 0h0m1 0h0m1 0h0m4 0h0m-114 1h0m34 0h0m2 0h0m4 0h0m59 0h0m7 0h0m2 0h0m8 0h0m-130 1h0m6 0h0m2 0h0m2 0h0m1 0h0m1 0h0m31 0h0m8 0h0m5 0h0m62 0h0m2 0h0m13 0h0m-124 1h0m3 0h0m1 0h0m2 0h0m1 0h0m2 0h0m24 0h0m3 0h0m1 0h0m70 0h0m6 0h0m1 0h0m-116 1h0m10 0h0m26 0h0m3 0h0m1 0h0m72 0h0m1 0h0m1 0h0m1 0h0m-113 1h0m6 0h0m7 0h0m1 0h0m1 0h0m1 0h0m3 0h0m2 0h0m4 0h0m14 0h0m76 0h0m5 0h0m-125 1h0m21 0h0m1 0h0m1 0h0m10 0h0m81 0h0m5 0h0m3 0h0m-121 1h0m13 0h0m12 0h0m4 0h0m82 0h0m-102 1h0m10 0h0m6 0h0m6 0h0m1 0h0m13 0h0m1 0h0m3 0h0m68 0h0m9 0h0m-122 1h0m3 0h0m14 0h0m4 0h0m6 0h0m5 0h0m76 0h0m10 0h0m-117 1h0m13 0h0m9 0h0m3 0h0m5 0h0m-12 1h0m3 0h0m6 0h0m1 0h0m78 0h0m14 0h0m-115 1h0m28 0h0m81 0h0m-110 1h0m8 0h0m11 0h0m-25 1h0m15 0h0m15 0h0m95 0h0m-93 1h0" stroke="#000" stroke-opacity="1" stroke-width="1.5" stroke-linecap="square" fill="none"/></g><g transform="scale(0.5)"><path d="M179 487h0m25 8h0m-10 1h0m-17 2h0m12 3h0m-11 3h0m14 0h0m5 0h0m16 0h0m-53 1h0m24 1h0m16 1h0m-9 1h0m-13 1h0m13 0h0m3 0h0m13 0h0m-30 2h0m14 0h0m5 0h0m-10 1h0m-6 1h0m8 0h0m13 0h0m-31 2h0m21 0h0m-12 1h0m8 0h0m14 0h0m-3 1h0m-29 1h0m22 0h0m6 0h0m6 0h0m1 0h0m2 0h0m-46 1h0m13 1h0m24 0h0m5 0h0m2 0h0m3 0h0m-24 2h0m2 0h0m14 0h0m2 0h0m-4 1h0m-21 1h0m14 0h0m15 0h0m-20 1h0m2 0h0m7 0h0m6 0h0m12 1h0m-25 1h0m5 0h0m2 0h0m17 0h0m-44 1h0m19 0h0m-44 1h0m32 0h0m3 0h0m2 0h0m2 0h0m14 0h0m-1 1h0m-5 1h0m7 0h0m-83 1h0m69 0h0m11 0h0m-56 1h0m36 0h0m13 0h0m17 0h0m-132 1h0m25 0h0m97 0h0m-27 1h0m18 0h0m11 0h0m-81 1h0m21 0h0m-41 1h0m89 0h0m13 0h0m-141 1h0m132 0h0m12 0h0m1 0h0m-41 1h0m11 0h0m3 0h0m7 0h0m-126 1h0m42 0h0m5 0h0m67 0h0m23 0h0m-59 1h0m7 0h0m37 0h0m10 0h0m4 0h0m14 0h0m-150 1h0m34 0h0m6 0h0m5 0h0m47 0h0m16 0h0m8 0h0m21 0h0m1 0h0m-130 1h0m20 0h0m38 0h0m7 0h0m40 0h0m40 0h0m-108 1h0m14 0h0m49 0h0m4 0h0m2 0h0m7 0h0m28 0h0m-81 1h0m4 0h0m9 0h0m30 0h0m3 0h0m14 0h0m7 0h0m4 0h0m3 0h0m-139 1h0m6 0h0m15 0h0m11 0h0m4 0h0m6 0h0m7 0h0m3 0h0m7 0h0m3 0h0m21 0h0m9 0h0m13 0h0m17 0h0m2 0h0m-118 1h0m12 0h0m24 0h0m1 0h0m4 0h0m8 0h0m27 0h0m24 0h0m19 0h0m20 0h0m7 0h0m-163 1h0m2 0h0m29 0h0m9 0h0m5 0h0m6 0h0m10 0h0m-44 1h0m5 0h0m3 0h0m9 0h0m14 0h0m7 0h0m1 0h0m8 0h0m6 0h0m2 0h0m49 0h0m46 0h0m-138 1h0m14 0h0m5 0h0m7 0h0m5 0h0m31 0h0m27 0h0m7 0h0m-97 1h0m1 0h0m6 0h0m4 0h0m3 0h0m6 0h0m1 0h0m3 0h0m1 0h0m4 0h0m2 0h0m1 0h0m1 0h0m10 0h0m5 0h0m1 0h0m8 0h0m9 0h0m35 0h0m1 0h0m-106 1h0m9 0h0m1 0h0m1 0h0m1 0h0m2 0h0m4 0h0m3 0h0m1 0h0m2 0h0m6 0h0m7 0h0m1 0h0m5 0h0m7 0h0m11 0h0m6 0h0m32 0h0m1 0h0m7 0h0m2 0h0m20 0h0m-144 1h0m7 0h0m8 0h0m1 0h0m3 0h0m6 0h0m1 0h0m4 0h0m1 0h0m5 0h0m2 0h0m1 0h0m2 0h0m6 0h0m1 0h0m4 0h0m1 0h0m2 0h0m3 0h0m6 0h0m3 0h0m1 0h0m4 0h0m1 0h0m13 0h0m2 0h0m12 0h0m14 0h0m10 0h0m4 0h0m-133 1h0m28 0h0m2 0h0m1 0h0m3 0h0m3 0h0m1 0h0m3 0h0m4 0h0m7 0h0m3 0h0m2 0h0m7 0h0m5 0h0m3 0h0m3 0h0m1 0h0m7 0h0m3 0h0m33 0h0m-101 1h0m2 0h0m7 0h0m11 0h0m1 0h0m8 0h0m6 0h0m2 0h0m2 0h0m15 0h0m3 0h0m7 0h0m1 0h0m2 0h0m13 0h0m18 0h0m12 0h0m5 0h0m13 0h0m-141 1h0m14 0h0m1 0h0m5 0h0m7 0h0m2 0h0m1 0h0m2 0h0m3 0h0m5 0h0m1 0h0m1 0h0m3 0h0m1 0h0m1 0h0m4 0h0m4 0h0m2 0h0m3 0h0m1 0h0m2 0h0m4 0h0m1 0h0m3 0h0m1 0h0m2 0h0m2 0h0m2 0h0m3 0h0m25 0h0m9 0h0m9 0h0m6 0h0m-120 1h0m10 0h0m1 0h0m2 0h0m1 0h0m2 0h0m3 0h0m10 0h0m2 0h0m2 0h0m1 0h0m2 0h0m2 0h0m8 0h0m3 0h0m3 0h0m1 0h0m2 0h0m9 0h0m60 0h0m-138 1h0m2 0h0m6 0h0m5 0h0m2 0h0m2 0h0m2 0h0m6 0h0m2 0h0m3 0h0m3 0h0m2 0h0m9 0h0m2 0h0m3 0h0m5 0h0m1 0h0m2 0h0m1 0h0m6 0h0m1 0h0m2 0h0m5 0h0m2 0h0m2 0h0m4 0h0m1 0h0m4 0h0m11 0h0m1 0h0m3 0h0m26 0h0m2 0h0m1 0h0m4 0h0m-130 1h0m1 0h0m8 0h0m1 0h0m9 0h0m2 0h0m10 0h0m2 0h0m2 0h0m5 0h0m1 0h0m1 0h0m1 0h0m3 0h0m3 0h0m1 0h0m1 0h0m2 0h0m2 0h0m2 0h0m3 0h0m1 0h0m1 0h0m2 0h0m2 0h0m3 0h0m7 0h0m9 0h0m23 0h0m1 0h0m16 0h0m4 0h0m4 0h0m20 0h0m-162 1h0m9 0h0m8 0h0m7 0h0m18 0h0m2 0h0m2 0h0m2 0h0m2 0h0m3 0h0m1 0h0m9 0h0m1 0h0m2 0h0m1 0h0m1 0h0m2 0h0m2 0h0m8 0h0m3 0h0m14 0h0m29 0h0m8 0h0m9 0h0m1 0h0m2 0h0m-138 1h0m2 0h0m2 0h0m4 0h0m6 0h0m27 0h0m2 0h0m1 0h0m1 0h0m1 0h0m3 0h0m1 0h0m1 0h0m2 0h0m1 0h0m2 0h0m2 0h0m5 0h0m1 0h0m1 0h0m2 0h0m6 0h0m3 0h0m5 0h0m9 0h0m2 0h0m5 0h0m17 0h0m7 0h0m5 0h0m20 0h0m-142 1h0m1 0h0m1 0h0m2 0h0m32 0h0m2 0h0m1 0h0m2 0h0m2 0h0m2 0h0m1 0h0m2 0h0m2 0h0m1 0h0m2 0h0m1 0h0m1 0h0m1 0h0m1 0h0m1 0h0m13 0h0m9 0h0m1 0h0m1 0h0m1 0h0m18 0h0m28 0h0m-134 1h0m4 0h0m5 0h0m35 0h0m3 0h0m1 0h0m2 0h0m1 0h0m4 0h0m2 0h0m3 0h0m2 0h0m1 0h0m1 0h0m1 0h0m2 0h0m6 0h0m8 0h0m4 0h0m6 0h0m14 0h0m17 0h0m12 0h0m1 0h0m10 0h0m-149 1h0m8 0h0m4 0h0m37 0h0m1 0h0m2 0h0m1 0h0m1 0h0m2 0h0m1 0h0m1 0h0m2 0h0m3 0h0m2 0h0m1 0h0m1 0h0m2 0h0m2 0h0m1 0h0m2 0h0m1 0h0m17 0h0m21 0h0m5 0h0m1 0h0m17 0h0m-136 1h0m3 0h0m1 0h0m7 0h0m39 0h0m1 0h0m1 0h0m1 0h0m1 0h0m2 0h0m2 0h0m3 0h0m1 0h0m1 0h0m2 0h0m1 0h0m2 0h0m2 0h0m1 0h0m1 0h0m1 0h0m5 0h0m1 0h0m1 0h0m1 0h0m2 0h0m12 0h0m4 0h0m9 0h0m5 0h0m2 0h0m7 0h0m1 0h0m4 0h0m16 0h0m4 0h0m-151 1h0m11 0h0m46 0h0m1 0h0m3 0h0m1 0h0m1 0h0m2 0h0m5 0h0m2 0h0m1 0h0m3 0h0m1 0h0m2 0h0m1 0h0m3 0h0m1 0h0m3 0h0m27 0h0m9 0h0m9 0h0m11 0h0m6 0h0m-150 1h0m9 0h0m2 0h0m1 0h0m45 0h0m1 0h0m1 0h0m1 0h0m2 0h0m1 0h0m4 0h0m1 0h0m1 0h0m1 0h0m2 0h0m1 0h0m2 0h0m2 0h0m1 0h0m2 0h0m5 0h0m1 0h0m1 0h0m13 0h0m22 0h0m4 0h0m8 0h0m2 0h0m5 0h0m11 0h0m-142 1h0m2 0h0m47 0h0m2 0h0m1 0h0m3 0h0m2 0h0m3 0h0m4 0h0m2 0h0m1 0h0m2 0h0m1 0h0m1 0h0m7 0h0m3 0h0m10 0h0m8 0h0m2 0h0m6 0h0m11 0h0m6 0h0m4 0h0m2 0h0m-133 1h0m1 0h0m50 0h0m1 0h0m1 0h0m1 0h0m2 0h0m1 0h0m1 0h0m1 0h0m1 0h0m2 0h0m1 0h0m2 0h0m2 0h0m1 0h0m1 0h0m3 0h0m7 0h0m4 0h0m13 0h0m4 0h0m4 0h0m1 0h0m4 0h0m13 0h0m4 0h0m4 0h0m4 0h0m11 0h0m11 0h0m-104 1h0m1 0h0m1 0h0m1 0h0m2 0h0m3 0h0m1 0h0m1 0h0m1 0h0m1 0h0m2 0h0m1 0h0m2 0h0m1 0h0m3 0h0m13 0h0m15 0h0m8 0h0m1 0h0m6 0h0m4 0h0m3 0h0m5 0h0m1 0h0m-136 1h0m3 0h0m57 0h0m1 0h0m1 0h0m1 0h0m3 0h0m2 0h0m2 0h0m3 0h0m3 0h0m1 0h0m1 0h0m1 0h0m1 0h0m9 0h0m13 0h0m13 0h0m5 0h0m6 0h0m22 0h0m-145 1h0m57 0h0m3 0h0m1 0h0m2 0h0m1 0h0m1 0h0m1 0h0m1 0h0m1 0h0m2 0h0m4 0h0m1 0h0m2 0h0m3 0h0m3 0h0m6 0h0m30 0h0m5 0h0m4 0h0m1 0h0m8 0h0m3 0h0m-139 1h0m56 0h0m1 0h0m1 0h0m1 0h0m1 0h0m2 0h0m1 0h0m2 0h0m2 0h0m1 0h0m4 0h0m1 0h0m2 0h0m1 0h0m2 0h0m2 0h0m2 0h0m2 0h0m1 0h0m27 0h0m5 0h0m4 0h0m11 0h0m6 0h0m7 0h0m-144 1h0m3 0h0m51 0h0m1 0h0m1 0h0m2 0h0m1 0h0m2 0h0m6 0h0m1 0h0m4 0h0m5 0h0m2 0h0m1 0h0m1 0h0m3 0h0m1 0h0m1 0h0m3 0h0m6 0h0m6 0h0m14 0h0m3 0h0m3 0h0m6 0h0m1 0h0m9 0h0m3 0h0m-144 1h0m3 0h0m55 0h0m1 0h0m1 0h0m2 0h0m2 0h0m2 0h0m2 0h0m2 0h0m1 0h0m1 0h0m2 0h0m2 0h0m2 0h0m1 0h0m2 0h0m4 0h0m4 0h0m5 0h0m1 0h0m4 0h0m2 0h0m20 0h0m2 0h0m2 0h0m3 0h0m1 0h0m3 0h0m5 0h0m1 0h0m12 0h0m12 0h0m-162 1h0m4 0h0m1 0h0m53 0h0m3 0h0m1 0h0m1 0h0m1 0h0m1 0h0m2 0h0m2 0h0m1 0h0m2 0h0m6 0h0m2 0h0m1 0h0m2 0h0m1 0h0m1 0h0m1 0h0m1 0h0m7 0h0m1 0h0m3 0h0m10 0h0m8 0h0m3 0h0m3 0h0m5 0h0m1 0h0m8 0h0m2 0h0m10 0h0m-149 1h0m6 0h0m53 0h0m1 0h0m1 0h0m1 0h0m2 0h0m1 0h0m1 0h0m1 0h0m3 0h0m1 0h0m2 0h0m2 0h0m1 0h0m1 0h0m4 0h0m1 0h0m2 0h0m1 0h0m2 0h0m4 0h0m1 0h0m4 0h0m11 0h0m3 0h0m9 0h0m2 0h0m22 0h0m5 0h0m-145 1h0m3 0h0m53 0h0m1 0h0m2 0h0m2 0h0m3 0h0m2 0h0m1 0h0m1 0h0m1 0h0m3 0h0m1 0h0m2 0h0m2 0h0m2 0h0m2 0h0m6 0h0m2 0h0m8 0h0m14 0h0m10 0h0m2 0h0m3 0h0m14 0h0m2 0h0m-145 1h0m3 0h0m57 0h0m2 0h0m2 0h0m2 0h0m1 0h0m3 0h0m1 0h0m4 0h0m2 0h0m3 0h0m2 0h0m2 0h0m3 0h0m3 0h0m3 0h0m2 0h0m2 0h0m9 0h0m2 0h0m4 0h0m13 0h0m4 0h0m3 0h0m11 0h0m15 0h0m-153 1h0m54 0h0m2 0h0m1 0h0m1 0h0m1 0h0m2 0h0m2 0h0m2 0h0m3 0h0m1 0h0m1 0h0m2 0h0m4 0h0m1 0h0m1 0h0m3 0h0m5 0h0m3 0h0m16 0h0m1 0h0m9 0h0m1 0h0m27 0h0m1 0h0m3 0h0m-145 1h0m52 0h0m2 0h0m1 0h0m1 0h0m2 0h0m3 0h0m2 0h0m3 0h0m1 0h0m22 0h0m2 0h0m14 0h0m10 0h0m1 0h0m16 0h0m3 0h0m1 0h0m5 0h0m-147 1h0m5 0h0m52 0h0m1 0h0m1 0h0m1 0h0m1 0h0m1 0h0m6 0h0m1 0h0m2 0h0m1 0h0m1 0h0m2 0h0m1 0h0m3 0h0m2 0h0m1 0h0m2 0h0m1 0h0m12 0h0m1 0h0m17 0h0m3 0h0m3 0h0m8 0h0m15 0h0m1 0h0m4 0h0m-147 1h0m53 0h0m1 0h0m1 0h0m2 0h0m1 0h0m1 0h0m1 0h0m2 0h0m2 0h0m1 0h0m1 0h0m1 0h0m1 0h0m4 0h0m1 0h0m3 0h0m1 0h0m1 0h0m2 0h0m1 0h0m4 0h0m1 0h0m2 0h0m2 0h0m2 0h0m6 0h0m24 0h0m3 0h0m1 0h0m6 0h0m11 0h0m-90 1h0m2 0h0m2 0h0m1 0h0m1 0h0m7 0h0m4 0h0m4 0h0m4 0h0m1 0h0m5 0h0m4 0h0m1 0h0m6 0h0m6 0h0m9 0h0m6 0h0m8 0h0m20 0h0m-141 1h0m50 0h0m1 0h0m3 0h0m1 0h0m3 0h0m1 0h0m1 0h0m1 0h0m1 0h0m2 0h0m1 0h0m2 0h0m2 0h0m1 0h0m3 0h0m1 0h0m2 0h0m4 0h0m6 0h0m3 0h0m21 0h0m14 0h0m1 0h0m4 0h0m-133 1h0m2 0h0m50 0h0m4 0h0m1 0h0m1 0h0m2 0h0m1 0h0m1 0h0m1 0h0m1 0h0m1 0h0m1 0h0m3 0h0m1 0h0m1 0h0m5 0h0m19 0h0m6 0h0m20 0h0m1 0h0m4 0h0m4 0h0m14 0h0m11 0h0m-155 1h0m51 0h0m2 0h0m1 0h0m3 0h0m2 0h0m2 0h0m1 0h0m2 0h0m5 0h0m1 0h0m1 0h0m1 0h0m2 0h0m2 0h0m13 0h0m5 0h0m1 0h0m5 0h0m40 0h0m3 0h0m4 0h0m-146 1h0m51 0h0m1 0h0m1 0h0m3 0h0m1 0h0m1 0h0m9 0h0m3 0h0m13 0h0m4 0h0m1 0h0m4 0h0m2 0h0m34 0h0m3 0h0m2 0h0m4 0h0m4 0h0m16 0h0m-109 1h0m3 0h0m1 0h0m4 0h0m3 0h0m1 0h0m2 0h0m1 0h0m2 0h0m3 0h0m3 0h0m5 0h0m4 0h0m15 0h0m30 0h0m19 0h0m-146 1h0m48 0h0m7 0h0m3 0h0m1 0h0m5 0h0m3 0h0m4 0h0m2 0h0m2 0h0m2 0h0m2 0h0m16 0h0m8 0h0m16 0h0m8 0h0m2 0h0m10 0h0m-132 1h0m42 0h0m1 0h0m1 0h0m1 0h0m5 0h0m1 0h0m3 0h0m1 0h0m4 0h0m2 0h0m12 0h0m11 0h0m21 0h0m13 0h0m-123 1h0m5 0h0m7 0h0m34 0h0m1 0h0m1 0h0m1 0h0m4 0h0m2 0h0m3 0h0m3 0h0m1 0h0m4 0h0m4 0h0m5 0h0m61 0h0m-130 1h0m2 0h0m3 0h0m33 0h0m1 0h0m6 0h0m4 0h0m2 0h0m5 0h0m3 0h0m4 0h0m10 0h0m14 0h0m23 0h0m14 0h0m4 0h0m1 0h0m-127 1h0m30 0h0m1 0h0m1 0h0m1 0h0m1 0h0m5 0h0m3 0h0m1 0h0m4 0h0m2 0h0m1 0h0m2 0h0m2 0h0m2 0h0m3 0h0m10 0h0m4 0h0m7 0h0m44 0h0m21 0h0m-149 1h0m14 0h0m17 0h0m3 0h0m1 0h0m2 0h0m1 0h0m1 0h0m1 0h0m2 0h0m17 0h0m1 0h0m3 0h0m3 0h0m14 0h0m2 0h0m-84 1h0m8 0h0m4 0h0m2 0h0m4 0h0m3 0h0m4 0h0m4 0h0m3 0h0m10 0h0m6 0h0m2 0h0m3 0h0m4 0h0m4 0h0m2 0h0m2 0h0m5 0h0m6 0h0m3 0h0m-74 1h0m8 0h0m3 0h0m10 0h0m5 0h0m1 0h0m6 0h0m2 0h0m13 0h0m2 0h0m1 0h0m19 0h0m16 0h0m2 0h0m32 0h0m2 0h0m-129 1h0m1 0h0m18 0h0m1 0h0m3 0h0m2 0h0m6 0h0m5 0h0m5 0h0m2 0h0m1 0h0m3 0h0m2 0h0m4 0h0m5 0h0m1 0h0m1 0h0m1 0h0m6 0h0m12 0h0m35 0h0m8 0h0m22 0h0m-139 1h0m15 0h0m9 0h0m5 0h0m2 0h0m9 0h0m2 0h0m6 0h0m2 0h0m20 0h0m-73 1h0m17 0h0m4 0h0m2 0h0m4 0h0m4 0h0m3 0h0m1 0h0m6 0h0m4 0h0m5 0h0m-50 1h0m8 0h0m1 0h0m10 0h0m17 0h0m5 0h0m2 0h0m10 0h0m6 0h0m-52 1h0m11 0h0m3 0h0m6 0h0m12 0h0m1 0h0m3 0h0m2 0h0m3 0h0m5 0h0m6 0h0m2 0h0m20 0h0m52 0h0m-117 1h0m4 0h0m7 0h0m3 0h0m18 0h0m19 0h0m45 0h0m-110 1h0m11 0h0m4 0h0m4 0h0m20 0h0m9 0h0m13 0h0m2 0h0m3 0h0m7 0h0m-70 1h0m7 0h0m4 0h0m5 0h0m6 0h0m17 0h0m-46 1h0m13 0h0m8 0h0m4 0h0m3 0h0m4 0h0m15 0h0m3 0h0m14 0h0m-30 1h0m15 0h0m15 0h0m8 0h0m-52 1h0m1 0h0m46 0h0m-71 1h0m17 0h0m21 0h0m4 0h0m18 0h0m22 0h0m-48 1h0m1 0h0m4 0h0m12 0h0m-23 1h0m17 0h0m34 0h0" stroke="#000" stroke-opacity="0.85" stroke-width="1.3" stroke-linecap="square" fill="none"/></g><g transform="scale(0.5)"><path d="M226 460h0m-175 1h0m21 0h0m142 0h0m-89 1h0m33 0h0m47 0h0m-148 1h0m20 0h0m116 0h0m-57 1h0m38 0h0m-131 1h0m137 0h0m-81 1h0m85 0h0m-140 1h0m37 0h0m98 0h0m38 0h0m-159 1h0m57 0h0m29 0h0m-96 1h0m52 0h0m121 0h0m-159 1h0m32 1h0m10 0h0m50 0h0m-78 2h0m34 0h0m40 0h0m-35 1h0m89 0h0m-147 1h0m50 0h0m94 0h0m-95 1h0m14 0h0m-62 1h0m104 0h0m7 0h0m18 0h0m-106 1h0m-16 1h0m1 0h0m99 1h0m52 0h0m-106 1h0m8 0h0m3 0h0m51 0h0m25 0h0m-60 1h0m25 0h0m37 0h0m15 0h0m-129 1h0m1 0h0m5 0h0m46 0h0m-24 1h0m26 0h0m55 0h0m-45 1h0m72 1h0m-140 1h0m-16 1h0m45 0h0m2 0h0m-28 1h0m28 0h0m9 0h0m13 0h0m4 0h0m20 0h0m4 0h0m59 0h0m-178 1h0m13 0h0m4 0h0m127 0h0m38 0h0m-179 1h0m52 0h0m38 2h0m15 0h0m-82 1h0m5 0h0m59 0h0m30 0h0m34 0h0m-144 2h0m21 0h0m31 1h0m62 0h0m25 0h0m37 0h0m-93 1h0m-48 1h0m41 0h0m41 0h0m33 0h0m-159 1h0m9 0h0m50 0h0m80 0h0m30 0h0m-40 1h0m-76 1h0m78 0h0m45 0h0m-128 1h0m8 0h0m69 0h0m11 2h0m-78 1h0m-37 1h0m155 0h0m-147 1h0m-30 1h0m53 0h0m43 0h0m15 0h0m64 0h0m-144 2h0m11 0h0m58 0h0m36 0h0m35 0h0m4 0h0m-123 1h0m44 0h0m35 0h0m31 0h0m23 3h0m-93 1h0m50 0h0m38 0h0m-163 1h0m30 0h0m56 1h0m-61 1h0m81 0h0m5 0h0m-74 1h0m26 0h0m50 0h0m31 0h0m-75 1h0m5 0h0m-67 1h0m21 0h0m41 0h0m37 0h0m22 0h0m24 0h0m11 0h0m-171 1h0m123 0h0m13 0h0m-109 1h0m42 0h0m17 0h0m46 0h0m37 0h0m-153 1h0m17 0h0m37 0h0m74 0h0m-98 1h0m54 0h0m18 0h0m-5 1h0m-54 1h0m27 0h0m-45 1h0m23 0h0m35 0h0m-98 1h0m157 0h0m-137 1h0m13 0h0m54 0h0m14 1h0m70 1h0m-156 1h0m158 0h0m-119 1h0m14 1h0m7 0h0m93 1h0m6 0h0m-127 1h0m40 0h0m4 0h0m-100 1h0m37 0h0m39 0h0m29 0h0m-62 1h0m141 0h0m-158 3h0m1 0h0m34 0h0m2 0h0m20 0h0m31 0h0m38 1h0m-147 1h0m75 0h0m13 0h0m88 0h0m-124 1h0m75 0h0m50 1h0m-171 1h0m131 1h0m16 0h0m-150 2h0m86 0h0m9 0h0m26 0h0m54 0h0m-175 1h0m134 0h0m13 0h0m-125 1h0m3 0h0m24 0h0m-26 1h0m44 0h0m-70 2h0m166 0h0m-88 1h0m90 0h0m-113 1h0m14 0h0m28 0h0m21 0h0m-93 1h0m49 0h0m25 0h0m12 0h0m8 0h0m42 0h0m-27 1h0m-43 1h0m9 0h0m-55 1h0m1 0h0m128 0h0m-103 1h0m33 0h0m-16 1h0m1 2h0m33 0h0m42 0h0m-91 4h0m78 0h0m-60 2h0m-27 1h0m61 0h0m33 0h0m-72 3h0m8 0h0m74 0h0m-77 1h0m1 0h0m21 0h0m35 0h0m-41 1h0m47 0h0m-94 1h0m23 1h0m19 0h0m3 0h0m20 0h0m5 0h0m-23 1h0m31 0h0m40 0h0m-30 1h0m21 0h0m-117 1h0m25 0h0m18 1h0m4 0h0m56 0h0m23 1h0m-129 1h0m95 0h0m-35 1h0m56 0h0m-56 2h0m32 0h0m33 0h0m-81 1h0m-51 2h0m8 0h0m16 0h0m37 0h0m53 0h0m-107 1h0m39 0h0m10 0h0m15 0h0m-113 1h0m36 0h0m15 1h0m59 0h0m60 0h0m-168 1h0m31 0h0m99 0h0m-120 1h0m49 0h0m18 0h0m11 0h0m70 1h0m-139 1h0m44 0h0m34 0h0m21 0h0m31 0h0m9 0h0m-54 1h0m8 0h0m38 1h0m-63 1h0m18 0h0m-52 1h0m37 0h0m16 0h0m-99 1h0m18 0h0m71 0h0m11 0h0m33 0h0m-117 1h0m5 0h0m57 0h0m-93 1h0m134 1h0m9 0h0m-13 1h0m-102 1h0m92 0h0m-19 1h0m11 0h0m42 0h0m15 0h0" stroke="#000" stroke-opacity="0.3" stroke-width="1.2" stroke-linecap="square" fill="none"/></g></g>
<g transform="rotate(-0.25 68 267.5)">
<path class="ax" stroke-width=".7" stroke="#222" d="M20.75 228.8H115.25V306.2"/>
<path class="ax" stroke-width="1" stroke="#111" d="M19.25 306.2H115.25"/>
<path class="ax" stroke-width="1" stroke="#111" d="M20.75 226.6V306.7"/>
<path class="ax" stroke-width=".75" stroke="#222" d="M77.35 228.8V306.2M20.75 274.6H115.25"/>
<path class="ax" stroke-width=".55" d="M20.75 306.2v1.8M20.75 306.2h-1.8M27.86 306.2v1M20.75 300.38h-1M32.02 306.2v1M20.75 296.97h-1M37.26 306.2v1M20.75 292.67h-1M40.72 306.2v1M20.75 289.85h-1M44.38 306.2v1.8M20.75 286.85h-1.8M51.49 306.2v1M20.75 281.03h-1M55.65 306.2v1M20.75 277.62h-1M60.89 306.2v1M20.75 273.32h-1M64.34 306.2v1M20.75 270.5h-1M68 306.2v1.8M20.75 267.5h-1.8M75.11 306.2v1M20.75 261.68h-1M79.27 306.2v1M20.75 258.27h-1M84.51 306.2v1M20.75 253.97h-1M87.97 306.2v1M20.75 251.15h-1M91.62 306.2v1.8M20.75 248.15h-1.8M98.74 306.2v1M20.75 242.33h-1M102.9 306.2v1M20.75 238.92h-1M108.14 306.2v1M20.75 234.62h-1M111.59 306.2v1M20.75 231.8h-1M115.25 306.2v1.8M20.75 228.8h-1.8"/>
<text class="tk" x="20.75" y="311.1" text-anchor="middle">10<tspan font-size="2.8" dy="-1.4">0</tspan></text>
<text class="tk" transform="translate(18.65 308.8) rotate(-90)">10<tspan font-size="2.8" dy="-1.4">0</tspan></text>
<text class="tk" x="44.38" y="311.1" text-anchor="middle">10<tspan font-size="2.8" dy="-1.4">1</tspan></text>
<text class="tk" transform="translate(18.65 289.45) rotate(-90)">10<tspan font-size="2.8" dy="-1.4">1</tspan></text>
<text class="tk" x="68" y="311.1" text-anchor="middle">10<tspan font-size="2.8" dy="-1.4">2</tspan></text>
<text class="tk" transform="translate(18.65 270.1) rotate(-90)">10<tspan font-size="2.8" dy="-1.4">2</tspan></text>
<text class="tk" x="91.62" y="311.1" text-anchor="middle">10<tspan font-size="2.8" dy="-1.4">3</tspan></text>
<text class="tk" transform="translate(18.65 250.75) rotate(-90)">10<tspan font-size="2.8" dy="-1.4">3</tspan></text>
<text class="tk" x="115.25" y="311.1" text-anchor="middle">10<tspan font-size="2.8" dy="-1.4">4</tspan></text>
<text class="tk" transform="translate(18.65 231.4) rotate(-90)">10<tspan font-size="2.8" dy="-1.4">4</tspan></text>
</g>
<clipPath id="cp5"><rect x="141.5" y="228.5" width="94.1" height="76.9"/></clipPath>
<g clip-path="url(#cp5)"><path d="M183.1 289.7L182.1 290.6L181.9 291.4L180.4 292.1L181.2 293.0L181.2 293.9L181.7 295.0L180.5 295.7L182.4 297.5L178.5 297.3L175.8 297.2L174.5 297.8L173.8 298.7L171.8 298.8L171.4 300.5L169.4 300.5L167.5 300.4L165.9 300.8L164.1 302.3L162.4 300.6L160.8 300.6L159.1 300.6L157.3 300.5L155.5 300.5L155.4 298.8L152.8 299.4L152.1 298.6L150.9 298.1L150.1 297.4L148.0 297.2L146.8 296.6L147.1 295.5L147.0 294.7L145.8 294.0L145.9 293.1L145.0 292.3L145.3 291.5L145.4 290.6L144.4 289.6L146.1 288.8L145.6 287.8L147.4 287.2L147.7 286.2L149.5 285.7L150.0 284.7L150.8 283.7L153.5 283.9L154.7 283.1L155.6 282.1L158.1 282.7L159.2 281.6L160.8 280.8L162.5 279.7L164.5 281.1L166.6 279.0L168.4 279.9L168.9 282.7L171.0 281.9L172.7 281.9L173.8 282.6L176.3 282.1L175.9 283.8L179.3 283.1L180.1 283.9L180.9 284.7L180.6 285.8L182.4 286.2L183.1 287.0L184.0 287.8L182.4 288.9Z" fill="#000"/><g transform="scale(0.5)"><path d="M347 552h0m-39 1h0m65 0h0m-26 1h0m-7 2h0m2 0h0m9 0h0m-18 1h0m4 0h0m10 0h0m-35 1h0m17 0h0m25 0h0m1 0h0m-22 1h0m2 0h0m16 0h0m-52 1h0m14 0h0m5 0h0m7 0h0m13 0h0m9 0h0m4 0h0m-36 1h0m10 0h0m9 0h0m1 0h0m1 0h0m8 0h0m5 0h0m3 0h0m20 0h0m-67 1h0m3 0h0m10 0h0m3 0h0m3 0h0m1 0h0m1 0h0m23 0h0m11 0h0m5 0h0m-58 1h0m17 0h0m2 0h0m1 0h0m2 0h0m6 0h0m8 0h0m1 0h0m5 0h0m5 0h0m1 0h0m-63 1h0m5 0h0m12 0h0m4 0h0m4 0h0m9 0h0m3 0h0m1 0h0m1 0h0m1 0h0m2 0h0m4 0h0m2 0h0m5 0h0m1 0h0m5 0h0m2 0h0m-48 1h0m4 0h0m1 0h0m2 0h0m3 0h0m3 0h0m1 0h0m1 0h0m4 0h0m5 0h0m6 0h0m5 0h0m6 0h0m4 0h0m7 0h0m6 0h0m-71 1h0m4 0h0m5 0h0m8 0h0m1 0h0m1 0h0m4 0h0m2 0h0m35 0h0m3 0h0m2 0h0m1 0h0m3 0h0m-72 1h0m15 0h0m2 0h0m4 0h0m3 0h0m40 0h0m1 0h0m11 0h0m4 0h0m8 0h0m-78 1h0m1 0h0m3 0h0m1 0h0m4 0h0m45 0h0m2 0h0m2 0h0m2 0h0m30 0h0m-90 1h0m3 0h0m2 0h0m3 0h0m1 0h0m47 0h0m2 0h0m2 0h0m3 0h0m2 0h0m15 0h0m-90 1h0m4 0h0m5 0h0m1 0h0m1 0h0m1 0h0m2 0h0m55 0h0m1 0h0m1 0h0m1 0h0m4 0h0m3 0h0m13 0h0m-96 1h0m5 0h0m2 0h0m2 0h0m5 0h0m60 0h0m1 0h0m1 0h0m18 0h0m-77 1h0m61 0h0m2 0h0m2 0h0m-73 1h0m3 0h0m63 0h0m3 0h0m2 0h0m5 0h0m-85 1h0m85 0h0m3 0h0m1 0h0m-79 1h0m1 0h0m2 0h0m64 0h0m3 0h0m1 0h0m2 0h0m3 0h0m11 0h0m-97 1h0m10 0h0m2 0h0m65 0h0m1 0h0m3 0h0m1 0h0m22 0h0m-103 1h0m77 0h0m1 0h0m-76 1h0m4 0h0m72 0h0m5 0h0m20 0h0m-97 1h0m3 0h0m69 0h0m1 0h0m7 0h0m3 0h0m2 0h0m-84 1h0m71 0h0m1 0h0m3 0h0m2 0h0m1 0h0m-8 1h0m4 0h0m1 0h0m1 0h0m1 0h0m1 0h0m2 0h0m-84 1h0m1 0h0m74 0h0m2 0h0m12 0h0m-93 1h0m2 0h0m1 0h0m1 0h0m5 0h0m71 0h0m12 0h0m-90 1h0m6 0h0m72 0h0m-73 1h0m2 0h0m68 0h0m3 0h0m4 0h0m1 0h0m-83 1h0m2 0h0m3 0h0m1 0h0m2 0h0m67 0h0m5 0h0m4 0h0m5 0h0m-15 1h0m2 0h0m2 0h0m2 0h0m-2 1h0m6 0h0m-80 1h0m1 0h0m1 0h0m69 0h0m2 0h0m4 0h0m2 0h0m12 0h0m-90 1h0m1 0h0m2 0h0m63 0h0m3 0h0m9 0h0m-78 1h0m1 0h0m2 0h0m2 0h0m64 0h0m1 0h0m5 0h0m10 0h0m-85 1h0m6 0h0m59 0h0m1 0h0m2 0h0m14 0h0m-80 1h0m59 0h0m1 0h0m1 0h0m5 0h0m-8 1h0m1 0h0m7 0h0m2 0h0m2 0h0m-77 1h0m9 0h0m2 0h0m1 0h0m3 0h0m60 0h0m1 0h0m-63 1h0m1 0h0m49 0h0m1 0h0m3 0h0m-58 1h0m2 0h0m4 0h0m1 0h0m1 0h0m3 0h0m35 0h0m12 0h0m-55 1h0m5 0h0m1 0h0m3 0h0m5 0h0m28 0h0m2 0h0m1 0h0m5 0h0m2 0h0m1 0h0m-62 1h0m3 0h0m4 0h0m8 0h0m12 0h0m2 0h0m2 0h0m2 0h0m18 0h0m2 0h0m10 0h0m9 0h0m-38 1h0m1 0h0m6 0h0m7 0h0m19 0h0m-51 1h0m1 0h0m10 0h0m3 0h0m3 0h0m2 0h0m3 0h0m2 0h0m2 0h0m1 0h0m1 0h0m3 0h0m2 0h0m10 0h0m-43 1h0m13 0h0m3 0h0m2 0h0m3 0h0m2 0h0m2 0h0m5 0h0m-40 1h0m7 0h0m7 0h0m24 0h0m1 0h0m8 0h0m8 0h0m1 0h0m20 0h0m-76 1h0m13 0h0m4 0h0m14 0h0m2 0h0m13 0h0m11 0h0m-48 1h0m10 0h0m12 0h0m11 0h0m-37 1h0m11 0h0m11 0h0m5 0h0m42 0h0m-68 1h0m9 0h0m16 0h0m-26 1h0m10 0h0m33 0h0" stroke="#000" stroke-opacity="1" stroke-width="1.5" stroke-linecap="square" fill="none"/></g><g transform="scale(0.5)"><path d="M366 540h0m-4 1h0m1 1h0m-38 2h0m-13 3h0m100 2h0m-46 1h0m-28 2h0m38 0h0m-34 1h0m7 0h0m-12 1h0m5 0h0m15 1h0m18 0h0m-32 1h0m1 0h0m7 0h0m5 0h0m27 0h0m-41 1h0m3 0h0m6 0h0m3 0h0m5 0h0m30 0h0m-80 1h0m22 0h0m2 0h0m2 0h0m9 0h0m13 0h0m-59 1h0m25 0h0m6 0h0m5 0h0m3 0h0m3 0h0m19 0h0m5 0h0m19 0h0m3 0h0m-75 1h0m10 0h0m7 0h0m4 0h0m3 0h0m12 0h0m8 0h0m1 0h0m2 0h0m-60 1h0m13 0h0m19 0h0m4 0h0m10 0h0m9 0h0m1 0h0m1 0h0m27 0h0m-83 1h0m15 0h0m28 0h0m3 0h0m1 0h0m17 0h0m19 0h0m-73 1h0m7 0h0m2 0h0m1 0h0m3 0h0m4 0h0m8 0h0m1 0h0m3 0h0m4 0h0m5 0h0m2 0h0m3 0h0m1 0h0m8 0h0m3 0h0m15 0h0m12 0h0m11 0h0m-110 1h0m33 0h0m4 0h0m1 0h0m4 0h0m1 0h0m1 0h0m2 0h0m8 0h0m4 0h0m1 0h0m8 0h0m3 0h0m1 0h0m2 0h0m2 0h0m3 0h0m12 0h0m5 0h0m2 0h0m-97 1h0m12 0h0m15 0h0m16 0h0m6 0h0m5 0h0m2 0h0m3 0h0m3 0h0m13 0h0m12 0h0m2 0h0m-64 1h0m30 0h0m6 0h0m23 0h0m7 0h0m-91 1h0m15 0h0m2 0h0m5 0h0m38 0h0m3 0h0m2 0h0m8 0h0m2 0h0m1 0h0m1 0h0m4 0h0m5 0h0m4 0h0m21 0h0m-112 1h0m62 0h0m4 0h0m2 0h0m9 0h0m6 0h0m-15 1h0m1 0h0m2 0h0m4 0h0m5 0h0m3 0h0m10 0h0m-83 1h0m56 0h0m3 0h0m4 0h0m6 0h0m2 0h0m6 0h0m12 0h0m-102 1h0m10 0h0m2 0h0m59 0h0m2 0h0m1 0h0m9 0h0m3 0h0m1 0h0m2 0h0m7 0h0m14 0h0m-39 1h0m1 0h0m1 0h0m2 0h0m3 0h0m2 0h0m9 0h0m4 0h0m-89 1h0m68 0h0m5 0h0m5 0h0m1 0h0m3 0h0m7 0h0m1 0h0m8 0h0m3 0h0m-105 1h0m3 0h0m4 0h0m4 0h0m61 0h0m2 0h0m2 0h0m1 0h0m1 0h0m2 0h0m6 0h0m1 0h0m6 0h0m1 0h0m-86 1h0m67 0h0m3 0h0m3 0h0m1 0h0m2 0h0m3 0h0m1 0h0m1 0h0m2 0h0m3 0h0m6 0h0m1 0h0m1 0h0m-102 1h0m10 0h0m64 0h0m4 0h0m3 0h0m1 0h0m1 0h0m4 0h0m2 0h0m4 0h0m2 0h0m3 0h0m3 0h0m8 0h0m11 0h0m5 0h0m-50 1h0m4 0h0m1 0h0m5 0h0m5 0h0m8 0h0m6 0h0m-27 1h0m6 0h0m4 0h0m5 0h0m9 0h0m-100 1h0m1 0h0m73 0h0m1 0h0m4 0h0m1 0h0m2 0h0m6 0h0m5 0h0m1 0h0m-91 1h0m78 0h0m3 0h0m1 0h0m4 0h0m5 0h0m6 0h0m-25 1h0m3 0h0m1 0h0m1 0h0m6 0h0m2 0h0m8 0h0m6 0h0m9 0h0m-110 1h0m4 0h0m70 0h0m5 0h0m3 0h0m3 0h0m1 0h0m4 0h0m2 0h0m6 0h0m-24 1h0m1 0h0m8 0h0m5 0h0m3 0h0m2 0h0m10 0h0m-31 1h0m1 0h0m3 0h0m1 0h0m1 0h0m2 0h0m2 0h0m27 0h0m-105 1h0m69 0h0m3 0h0m2 0h0m1 0h0m1 0h0m4 0h0m1 0h0m2 0h0m1 0h0m3 0h0m-20 1h0m1 0h0m1 0h0m1 0h0m3 0h0m2 0h0m2 0h0m28 0h0m-39 1h0m2 0h0m1 0h0m2 0h0m1 0h0m3 0h0m6 0h0m1 0h0m1 0h0m1 0h0m11 0h0m-98 1h0m68 0h0m5 0h0m1 0h0m4 0h0m2 0h0m4 0h0m1 0h0m10 0h0m6 0h0m-105 1h0m72 0h0m1 0h0m1 0h0m2 0h0m1 0h0m2 0h0m1 0h0m3 0h0m1 0h0m2 0h0m1 0h0m2 0h0m7 0h0m23 0h0m-119 1h0m70 0h0m1 0h0m3 0h0m3 0h0m1 0h0m4 0h0m1 0h0m8 0h0m-84 1h0m62 0h0m1 0h0m4 0h0m1 0h0m1 0h0m2 0h0m1 0h0m3 0h0m1 0h0m3 0h0m-76 1h0m57 0h0m1 0h0m2 0h0m3 0h0m6 0h0m3 0h0m7 0h0m3 0h0m2 0h0m17 0h0m-109 1h0m4 0h0m60 0h0m4 0h0m2 0h0m1 0h0m1 0h0m2 0h0m2 0h0m17 0h0m-87 1h0m7 0h0m50 0h0m3 0h0m4 0h0m5 0h0m1 0h0m13 0h0m-85 1h0m57 0h0m1 0h0m1 0h0m2 0h0m2 0h0m1 0h0m2 0h0m8 0h0m1 0h0m7 0h0m-23 1h0m2 0h0m1 0h0m5 0h0m1 0h0m2 0h0m6 0h0m8 0h0m5 0h0m-35 1h0m1 0h0m2 0h0m8 0h0m-64 1h0m16 0h0m29 0h0m8 0h0m16 0h0m-57 1h0m23 0h0m5 0h0m3 0h0m11 0h0m3 0h0m4 0h0m1 0h0m6 0h0m6 0h0m-68 1h0m2 0h0m9 0h0m4 0h0m3 0h0m10 0h0m1 0h0m7 0h0m3 0h0m7 0h0m4 0h0m12 0h0m6 0h0m-73 1h0m11 0h0m29 0h0m2 0h0m35 0h0m5 0h0m1 0h0m-68 1h0m8 0h0m2 0h0m17 0h0m1 0h0m8 0h0m5 0h0m2 0h0m2 0h0m-58 1h0m23 0h0m11 0h0m14 0h0m3 0h0m6 0h0m3 0h0m3 0h0m4 0h0m2 0h0m-78 1h0m32 0h0m20 0h0m1 0h0m9 0h0m14 0h0m4 0h0m1 0h0m-34 1h0m8 0h0m10 0h0m17 0h0m-67 1h0m16 0h0m6 0h0m34 0h0m10 0h0m-36 1h0m20 0h0m-17 1h0m24 0h0m-39 1h0m2 0h0m5 0h0m34 0h0m38 0h0" stroke="#000" stroke-opacity="0.85" stroke-width="1.3" stroke-linecap="square" fill="none"/></g><g transform="scale(0.5)"><path d="M387 459h0m52 0h0m-39 1h0m56 1h0m-159 5h0m49 2h0m21 0h0m-44 4h0m-24 1h0m73 2h0m45 0h0m11 0h0m-11 2h0m29 0h0m-32 2h0m28 1h0m-85 2h0m56 0h0m54 1h0m-169 4h0m-1 1h0m29 1h0m83 0h0m-47 1h0m51 0h0m27 0h0m12 0h0m-142 2h0m-2 1h0m15 2h0m19 0h0m63 1h0m-81 1h0m74 0h0m68 1h0m-97 1h0m49 0h0m24 0h0m-157 2h0m98 0h0m-54 1h0m67 0h0m-88 3h0m154 0h0m6 4h0m-129 1h0m21 0h0m80 0h0m-43 1h0m-3 1h0m-23 1h0m-23 1h0m118 0h0m-151 1h0m98 0h0m11 0h0m17 0h0m-78 2h0m-41 2h0m25 0h0m59 2h0m-111 1h0m37 1h0m20 3h0m13 1h0m30 1h0m-3 1h0m-103 4h0m79 1h0m2 2h0m-61 1h0m93 2h0m56 0h0m-97 1h0m95 0h0m11 0h0m-177 2h0m53 0h0m64 0h0m-43 1h0m43 1h0m-50 2h0m-64 2h0m96 0h0m-72 1h0m36 0h0m39 0h0m31 1h0m-85 1h0m4 0h0m87 0h0m-134 1h0m10 1h0m25 0h0m-8 1h0m108 1h0m-68 1h0m-17 1h0m14 2h0m-56 1h0m125 1h0m26 0h0m-65 5h0m14 1h0m-104 1h0m71 0h0m4 0h0m37 0h0m21 1h0m-146 2h0m103 0h0m11 0h0m6 0h0m36 3h0m-149 2h0m112 0h0m33 0h0m-147 1h0m75 3h0m-1 1h0m1 1h0m101 0h0m-98 5h0m46 2h0m-3 5h0m-64 2h0m62 0h0m-19 1h0m39 0h0m-22 2h0m51 0h0m-91 1h0m76 0h0m-80 1h0m-3 1h0m101 3h0m7 1h0m-32 1h0m-144 1h0m156 0h0" stroke="#000" stroke-opacity="0.3" stroke-width="1.2" stroke-linecap="square" fill="none"/></g></g>
<g transform="rotate(-0.25 188.55 266.95)">
<path class="ax" stroke-width=".7" stroke="#222" d="M141.65 228.3H235.45V305.6"/>
<path class="ax" stroke-width="1" stroke="#111" d="M140.15 305.6H235.45"/>
<path class="ax" stroke-width="1" stroke="#111" d="M141.65 226.1V306.1"/>
<path class="ax" stroke-width=".75" stroke="#222" d="M198.35 228.3V305.6M141.65 273.7H235.45"/>
<path class="ax" stroke-width=".55" d="M141.65 305.6v1.8M141.65 305.6h-1.8M148.71 305.6v1M141.65 299.78h-1M152.84 305.6v1M141.65 296.38h-1M158.04 305.6v1M141.65 292.09h-1M161.47 305.6v1M141.65 289.27h-1M165.1 305.6v1.8M141.65 286.27h-1.8M172.16 305.6v1M141.65 280.46h-1M176.29 305.6v1M141.65 277.05h-1M181.49 305.6v1M141.65 272.77h-1M184.92 305.6v1M141.65 269.94h-1M188.55 305.6v1.8M141.65 266.95h-1.8M195.61 305.6v1M141.65 261.13h-1M199.74 305.6v1M141.65 257.73h-1M204.94 305.6v1M141.65 253.44h-1M208.37 305.6v1M141.65 250.62h-1M212 305.6v1.8M141.65 247.62h-1.8M219.06 305.6v1M141.65 241.81h-1M223.19 305.6v1M141.65 238.4h-1M228.39 305.6v1M141.65 234.12h-1M231.82 305.6v1M141.65 231.29h-1M235.45 305.6v1.8M141.65 228.3h-1.8"/>
<text class="tk" x="141.65" y="310.5" text-anchor="middle">10<tspan font-size="2.8" dy="-1.4">0</tspan></text>
<text class="tk" transform="translate(139.55 308.2) rotate(-90)">10<tspan font-size="2.8" dy="-1.4">0</tspan></text>
<text class="tk" x="165.1" y="310.5" text-anchor="middle">10<tspan font-size="2.8" dy="-1.4">1</tspan></text>
<text class="tk" transform="translate(139.55 288.88) rotate(-90)">10<tspan font-size="2.8" dy="-1.4">1</tspan></text>
<text class="tk" x="188.55" y="310.5" text-anchor="middle">10<tspan font-size="2.8" dy="-1.4">2</tspan></text>
<text class="tk" transform="translate(139.55 269.55) rotate(-90)">10<tspan font-size="2.8" dy="-1.4">2</tspan></text>
<text class="tk" x="212" y="310.5" text-anchor="middle">10<tspan font-size="2.8" dy="-1.4">3</tspan></text>
<text class="tk" transform="translate(139.55 250.22) rotate(-90)">10<tspan font-size="2.8" dy="-1.4">3</tspan></text>
<text class="tk" x="235.45" y="310.5" text-anchor="middle">10<tspan font-size="2.8" dy="-1.4">4</tspan></text>
<text class="tk" transform="translate(139.55 230.9) rotate(-90)">10<tspan font-size="2.8" dy="-1.4">4</tspan></text>
</g>
<text class="mb" x="20.7" y="37.6" font-size="7.4" textLength="10.4" lengthAdjust="spacingAndGlyphs">76</text>
<text class="mb" x="104.25" y="37.6" font-size="8.1" textLength="5.05" lengthAdjust="spacingAndGlyphs">8</text>
<text class="sb" stroke-width=".1" x="99.6" y="102.8" font-size="9.2" letter-spacing=".5">11</text>
<text class="mb" x="142.8" y="37.3" font-size="7.4" textLength="10.4" lengthAdjust="spacingAndGlyphs">95</text>
<text class="mb" x="225.95" y="37.1" font-size="7.9" textLength="5.05" lengthAdjust="spacingAndGlyphs">3</text>
<text class="mb" x="226.15" y="102.6" font-size="7.4" textLength="5.05" lengthAdjust="spacingAndGlyphs">0</text>
<text class="mb" x="21.3" y="137.1" font-size="7.4" textLength="10.4" lengthAdjust="spacingAndGlyphs">14</text>
<text class="mb" x="100.6" y="136.8" font-size="7.4" textLength="10.4" lengthAdjust="spacingAndGlyphs">10</text>
<text class="mb" x="105.65" y="202.7" font-size="8.1" textLength="5.05" lengthAdjust="spacingAndGlyphs">8</text>
<text class="hb" x="142.2" y="136.6" font-size="8" text-anchor="start">4</text>
<text class="sb" stroke-width=".15" x="230" y="136.6" font-size="9" text-anchor="end">1</text>
<text class="sb" stroke-width=".15" x="230.6" y="201.8" font-size="9" text-anchor="end">1</text>
<text class="hb" x="22.2" y="237.6" font-size="7.8" text-anchor="start" textLength="4.8" lengthAdjust="spacingAndGlyphs">2</text>
<text class="hb" x="106" y="237" font-size="8" text-anchor="start" textLength="5.2" lengthAdjust="spacingAndGlyphs">7</text>
<text class="sb" stroke-width=".1" x="101.8" y="302.8" font-size="9.2" letter-spacing=".7">11</text>
<text class="mb" x="143.6" y="237.1" font-size="7.4" textLength="15.75" lengthAdjust="spacingAndGlyphs">0.3</text>
<text class="mb" x="215.25" y="236.4" font-size="7.4" textLength="15.75" lengthAdjust="spacingAndGlyphs">0.7</text>
<text class="hb" x="226.9" y="302.9" font-size="7.8" text-anchor="start" textLength="4.9" lengthAdjust="spacingAndGlyphs">2</text>
<text class="sb" x="2.5" y="15.6" font-size="20.5" textLength="15.6" lengthAdjust="spacingAndGlyphs">A</text>
<text class="sb" x="281.8" y="15" font-size="19.5" textLength="14.4" lengthAdjust="spacingAndGlyphs">B</text>
<text class="hb" x="64.9" y="19.3" font-size="14" text-anchor="middle" stroke="#000" stroke-width=".3">+/+</text>
<text class="hb" x="188.2" y="20" font-size="14" text-anchor="middle" stroke="#000" stroke-width=".3">-/-</text>
<text class="hb" x="359.2" y="17.9" font-size="14" text-anchor="middle" stroke="#000" stroke-width=".3">+/+</text>
<text class="hb" x="467.9" y="18.3" font-size="14" text-anchor="middle" stroke="#000" stroke-width=".3">-/-</text>
<text class="hb" transform="translate(10.6 73.1) rotate(-90)" font-size="12.2" textLength="16.2" lengthAdjust="spacingAndGlyphs" stroke="#000" stroke-width=".5">S7</text>
<text class="sb" transform="translate(11.25 177.5) rotate(-90)" font-size="14.3" textLength="26.2" lengthAdjust="spacingAndGlyphs">BP1</text>
<text class="sb" transform="translate(12.25 281) rotate(-90)" font-size="14.6" textLength="26" lengthAdjust="spacingAndGlyphs">IgM</text>
<text class="sb" x="17.6" y="324.4" font-size="13.4" textLength="34.4" lengthAdjust="spacingAndGlyphs">B220</text>
<text class="sb" x="298.9" y="133.5" font-size="13.8" textLength="28.6" lengthAdjust="spacingAndGlyphs">Gr-1</text>
<text class="sb" x="299.4" y="285.9" font-size="13.8" textLength="50.2" lengthAdjust="spacingAndGlyphs">Ter-119</text>
<text class="sb" transform="translate(295.5 106.3) rotate(-90)" font-size="8.5" textLength="66.9" lengthAdjust="spacingAndGlyphs">Relative Cell No.</text>
<text class="sb" transform="translate(296.6 258.7) rotate(-90)" font-size="8.5" textLength="66.9" lengthAdjust="spacingAndGlyphs">Relative Cell No.</text>
<path d="M67.5 322.8H225.5" stroke="#111" stroke-width=".8" fill="none"/><path d="M231 322.8L224.5 320V325.6Z" fill="#000"/>
<path d="M339.2 128.9H502" stroke="#111" stroke-width=".8" fill="none"/><path d="M507.5 128.9L501 126.1V131.7Z" fill="#000"/>
<path d="M358 281.6H512" stroke="#111" stroke-width=".8" fill="none"/><path d="M517.5 281.6L511 278.8V284.4Z" fill="#000"/>
<path class="cv" d="M300.8 113L301.1 110.78L301.8 110.02L302.8 109.39L303.8 108.58L304 108.7L304.8 107.84L305.8 107.15L306.8 106.25L307.8 105.22L308 104.88L308.8 103.52L309.8 100.53L310.5 98.25L310.8 97.81L311.75 92.79L311.8 92.57L312.8 90.07L313 90.29L313.8 87.85L314.25 89.57L314.8 89.07L315.8 84.63L316.8 84.76L317.4 79.82L317.8 83.36L318.6 84.69L318.8 82.79L319.8 77.17L320.8 72.39L321.1 71.88L321.8 69.27L322.8 71.93L323.8 78.29L324.25 75.63L324.8 75.62L325.8 70.03L326.1 70.42L326.8 70.6L327.8 70.86L328.8 69.28L329.25 69.79L329.8 67.68L330.8 67.57L331.75 68.01L331.8 65.08L332.8 66.94L333.8 69.92L334.25 65.93L334.8 70.16L335.5 75.01L335.8 75.55L336.8 75.71L337.8 78.61L338 81.21L338.8 83.12L339.8 85.25L340.5 88.14L340.8 90.96L341.8 93.17L342.8 94.59L343.75 97.66L343.8 96.32L344.8 97.98L345.8 100.92L346.8 100.88L347.5 102.1L347.8 101.45L348.8 103.34L349.8 103.48L350.6 104.18L350.8 102.88L351.8 99.86L351.9 99.45L352.8 102.14L353.8 102.63L354.8 105.28L355 104.86L355.8 101.69L356.8 98.41L356.9 96.54L357.8 96.12L358.8 94.55L359.4 93.74L359.8 92.08L360.8 87.64L361.25 85.57L361.8 82.64L362.8 76.66L363.1 75.02L363.8 71.61L364.8 66.93L365.8 62.09L366.25 59.76L366.8 57.28L367.8 52.11L368.5 48.94L368.8 48.56L369.5 48.48L369.8 49.83L370.8 53.28L371.8 57.32L371.9 57.55L372.8 70.49L373.1 75.11L373.8 81.56L374.4 87.3L374.8 90.31L375.8 96.99L376.25 100.06L376.8 102.4L377.8 106.76L378.1 108.08L378.8 109.38L379.8 111.5L380.6 113.1"/>
<path class="ax" stroke-width=".8" stroke="#222" d="M300.5 30.6V114.4"/>
<g transform="rotate(-0.5 300.6 114.4)">
<path class="ax" stroke-width=".8" stroke="#222" d="M300.6 114.4H398.2"/>
<path class="ax" stroke-width=".55" d="M300.6 114.4v1.7M307.95 114.4v0.9M312.24 114.4v0.9M317.65 114.4v0.9M321.22 114.4v0.9M325 114.4v1.7M332.35 114.4v0.9M336.64 114.4v0.9M342.05 114.4v0.9M345.62 114.4v0.9M349.4 114.4v1.7M356.75 114.4v0.9M361.04 114.4v0.9M366.45 114.4v0.9M370.02 114.4v0.9M373.8 114.4v1.7M381.15 114.4v0.9M385.44 114.4v0.9M390.85 114.4v0.9M394.42 114.4v0.9M398.2 114.4v1.7"/>
<text class="tk" x="300.6" y="119.3" text-anchor="middle">10<tspan font-size="2.8" dy="-1.4">0</tspan></text>
<text class="tk" x="325" y="119.3" text-anchor="middle">10<tspan font-size="2.8" dy="-1.4">1</tspan></text>
<text class="tk" x="349.4" y="119.3" text-anchor="middle">10<tspan font-size="2.8" dy="-1.4">2</tspan></text>
<text class="tk" x="373.8" y="119.3" text-anchor="middle">10<tspan font-size="2.8" dy="-1.4">3</tspan></text>
<text class="tk" x="398.2" y="119.3" text-anchor="middle">10<tspan font-size="2.8" dy="-1.4">4</tspan></text>
<text class="tk" font-size="3.2" transform="translate(297.4 35.2) rotate(-90)">120</text>
<text class="tk" font-size="3.6" x="296.2" y="115.6">0</text>
</g>
<path class="ax" stroke-width=".75" stroke="#222" d="M351.5 43.5H395.5M351.5 41.5v4M395.5 41.5v4"/>
<text class="mb" x="374.6" y="40" font-size="7.4" textLength="9" lengthAdjust="spacingAndGlyphs">40</text>
<path class="cv" d="M418.2 112.8L418.75 112.13L419.2 111.96L420.2 111.32L421.2 110.51L422.2 109.87L422.5 109.3L423.2 109.5L424.2 107.95L425.2 107.21L426.2 106.61L426.25 105.77L427.2 107.79L428.1 109.32L428.2 109.16L429.2 107.41L430.2 104.68L430.6 103.11L431.2 103.04L432.2 102.54L433.2 102.01L433.75 103.02L434.2 101.39L435.2 98.16L435.6 96.92L436.2 98.39L437.2 100.14L438.2 99.76L438.75 101.35L439.2 100.23L440.2 97.29L441.2 96.6L441.25 95.49L442.2 96.7L442.5 99.18L443.2 96.57L444.2 94.73L445.2 92.35L445.6 91L446.2 88.55L447.2 85.38L448.1 83.2L448.2 82.44L449.2 79.16L450.2 76.33L450.6 76.1L451.2 77.21L452.2 75.65L453.2 75.56L453.75 77.46L454.2 77.05L455.2 76.58L455.6 80.36L456.2 77.88L456.9 73.25L457.2 74.62L458.2 76.22L458.75 76.99L459.2 78.68L459.4 81.28L460.2 79.31L461.2 77.26L461.25 79.42L462.2 83.34L463.1 88.96L463.2 89.48L464.2 89.62L465 89.65L465.2 89.84L466.2 93.82L467.2 94.97L468.1 96.54L468.2 94.75L469.2 92.77L470 88.59L470.2 89.26L471.2 91.82L471.25 93.22L472.2 88.82L472.5 88.28L473.2 89.5L474.2 90.5L474.4 92.13L475.2 87.69L476.2 83.05L476.25 83.27L477.2 80.19L478.2 79.78L478.75 76.22L479.2 73.9L480.2 66.65L480.6 63.86L481.2 62.45L481.9 61.43L482.2 61.13L483.1 60.58L483.2 62.52L483.4 66L483.8 49.87L484.2 48.6L485.2 45.2L485.6 43.84L486.2 39.14L487.2 31.18L487.25 30.75L488.2 35.01L489.2 33.93L490 33.06L490.2 35.65L490.6 41.34L491.2 47.57L492.2 57.9L492.5 61.1L493.2 67.54L494.2 76.85L494.4 78.61L495.2 85.52L496.2 94.06L496.9 100.03L497.2 101.63L498.2 107.1L498.5 108.74L499.2 110.18L500.2 112.09L500.5 112.08"/>
<path class="ax" stroke-width=".8" stroke="#222" d="M418.5 30V113.3"/>
<g transform="rotate(-0.5 418.3 113.3)">
<path class="ax" stroke-width=".8" stroke="#222" d="M418.3 113.3H517"/>
<path class="ax" stroke-width=".55" d="M418.3 113.3v1.7M425.73 113.3v0.9M430.07 113.3v0.9M435.55 113.3v0.9M439.15 113.3v0.9M442.98 113.3v1.7M450.4 113.3v0.9M454.75 113.3v0.9M460.22 113.3v0.9M463.83 113.3v0.9M467.65 113.3v1.7M475.08 113.3v0.9M479.42 113.3v0.9M484.9 113.3v0.9M488.5 113.3v0.9M492.32 113.3v1.7M499.75 113.3v0.9M504.1 113.3v0.9M509.57 113.3v0.9M513.18 113.3v0.9M517 113.3v1.7"/>
<text class="tk" x="418.3" y="118.2" text-anchor="middle">10<tspan font-size="2.8" dy="-1.4">0</tspan></text>
<text class="tk" x="442.98" y="118.2" text-anchor="middle">10<tspan font-size="2.8" dy="-1.4">1</tspan></text>
<text class="tk" x="467.65" y="118.2" text-anchor="middle">10<tspan font-size="2.8" dy="-1.4">2</tspan></text>
<text class="tk" x="492.32" y="118.2" text-anchor="middle">10<tspan font-size="2.8" dy="-1.4">3</tspan></text>
<text class="tk" x="517" y="118.2" text-anchor="middle">10<tspan font-size="2.8" dy="-1.4">4</tspan></text>
<text class="tk" font-size="3.2" transform="translate(415.1 34.6) rotate(-90)">120</text>
<text class="tk" font-size="3.6" x="413.9" y="114.5">0</text>
</g>
<path class="ax" stroke-width=".75" stroke="#222" d="M469 42H513.8M469 40v4M513.8 40v4"/>
<text class="hn" x="492.9" y="39.5" font-size="8.8" textLength="10.4" lengthAdjust="spacingAndGlyphs" stroke="#000" stroke-width=".15">55</text>
<path class="cv" d="M302.3 229L302.4 226.01L303.25 221.39L303.3 221.73L304.3 227.91L304.9 228.62L305.3 226.83L306.1 228.49L306.3 227.8L307.3 224.27L307.75 223.16L308.3 221.42L309.3 224.05L309.9 224.7L310.3 223.45L311.3 220.54L312 218.36L312.3 218.5L313.3 221.47L313.6 222.11L314.3 226.56L315.3 227.69L315.5 228.65L316.3 230.48L317.3 230.45L318 230.56L318.3 231.65L319.3 235.27L319.9 236.74L320.3 236.51L321.3 240.12L321.75 238.12L322.3 241.21L323.3 244.95L324.3 246.95L325.3 249.75L325.5 249.56L326.3 253.28L327.3 256.17L327.4 255.8L328.3 256.27L329.3 256.72L330.3 256.45L330.5 257.06L331.3 257.98L332.3 258.18L333 259.32L333.3 259.08L334.3 258.88L335.3 258.25L335.5 258.92L336.3 259.22L337.3 260.52L337.4 261.48L338.3 260.72L339.3 260.05L340.3 259.91L341.1 259.9L341.3 259.07L342.3 259.12L343.3 259.27L344.3 259.25L345.3 259.37L345.5 258.99L346.3 259.35L347.3 260.22L348 260.62L348.3 261.1L349.3 260.07L350.3 259.4L351.3 259.91L351.75 259.43L352.3 258.71L353.3 258.77L354.3 257.99L355.3 258.21L356.2 258.68L356.3 257.98L357.3 256.32L358.3 254.25L358.4 253.36L359.3 251L360.3 248.15L360.5 248.34L361.3 245.53L362.3 242.45L362.4 242.29L363.3 241.9L363.5 241.94L364.3 239.02L365 239.71L365.3 240.02L366.3 243.05L366.9 245.02L367.3 247.15L368.3 248.2L369.3 249.95L369.4 250.08L370.3 251.96L371.25 253.47L371.3 252.93L372.3 251.43L373.1 252.23L373.3 253.51L374.3 253.66L375 254.59L375.3 254.18L376.3 254.65L377.3 254.9L377.5 255.64L378.3 256.53L379.3 256.93L380.3 257.41L380.6 257.53L381.3 258.39L382.3 258.77L383.3 259.85L383.75 260.71L384.3 260.58L385.3 260.28L386.25 259.61L386.3 259.24L387.3 259.85L388.3 259.23L389.3 260.11L390.3 260L391.25 260.54L391.3 260.36L392.3 260.31L393.3 260.35L394.3 260.13L395.3 260.61L396.3 260.18L397.3 260.94L397.5 259.81L398.3 259.93L398.75 259.4"/>
<path class="ax" stroke-width=".8" stroke="#222" d="M302.5 180V264.3"/>
<path class="ax" stroke-width="0.9" d="M399.5 197.5V263.5"/>
<g transform="rotate(-0.5 302.3 264.3)">
<path class="ax" stroke-width=".8" stroke="#222" d="M302.3 264.3H399.3"/>
<path class="ax" stroke-width=".55" d="M302.3 264.3v1.7M309.6 264.3v0.9M313.87 264.3v0.9M319.25 264.3v0.9M322.79 264.3v0.9M326.55 264.3v1.7M333.85 264.3v0.9M338.12 264.3v0.9M343.5 264.3v0.9M347.04 264.3v0.9M350.8 264.3v1.7M358.1 264.3v0.9M362.37 264.3v0.9M367.75 264.3v0.9M371.29 264.3v0.9M375.05 264.3v1.7M382.35 264.3v0.9M386.62 264.3v0.9M392 264.3v0.9M395.54 264.3v0.9M399.3 264.3v1.7"/>
<text class="tk" x="302.3" y="269.2" text-anchor="middle">10<tspan font-size="2.8" dy="-1.4">0</tspan></text>
<text class="tk" x="326.55" y="269.2" text-anchor="middle">10<tspan font-size="2.8" dy="-1.4">1</tspan></text>
<text class="tk" x="350.8" y="269.2" text-anchor="middle">10<tspan font-size="2.8" dy="-1.4">2</tspan></text>
<text class="tk" x="375.05" y="269.2" text-anchor="middle">10<tspan font-size="2.8" dy="-1.4">3</tspan></text>
<text class="tk" x="399.3" y="269.2" text-anchor="middle">10<tspan font-size="2.8" dy="-1.4">4</tspan></text>
<text class="tk" font-size="3.2" transform="translate(299.1 184.6) rotate(-90)">200</text>
<text class="tk" font-size="3.6" x="297.9" y="265.5">0</text>
</g>
<path class="ax" stroke-width=".75" stroke="#222" d="M350.3 208.1H399M350.3 206.1v4M399 206.1v4"/>
<text class="hn" x="376.8" y="205.1" font-size="8.4" textLength="9.6" lengthAdjust="spacingAndGlyphs" stroke="#000" stroke-width=".25">27</text>
<path class="cv" d="M419.5 208L419.75 235.16L420.5 234.38L421.5 233.53L422 233.11L422.5 230.79L423.5 226.22L423.9 224.22L424.5 223.49L425.1 222.62L425.5 216.06L426.4 209.1L426.5 209.13L427.5 208.61L427.6 208.63L428.5 198.64L428.9 194.16L429.5 192.77L430.5 190.29L430.75 189.97L431.5 188.73L432.5 187.34L433.5 185.64L434.5 188.41L435.5 190.86L435.75 191.86L436.5 195.29L437.5 200.08L437.6 200.61L438.5 208.28L438.9 211.79L439.5 214.74L440.1 217.89L440.5 220.81L441.4 227.52L441.5 228.22L442.5 234.84L443.25 239.95L443.5 240.95L444.5 244.67L444.75 245.6L445.5 247.58L446.5 249.87L447 251.99L447.5 252.19L448.5 254.17L448.75 254.43L449.5 256.41L450.5 256.72L451.5 258.16L451.9 258.09L452.5 257.34L453.5 257.25L454.4 256.89L454.5 256.53L455.5 258.48L456.25 259.64L456.5 258.79L457.5 260.08L458.5 258.95L458.75 258.46L459.5 259.65L460.5 259.59L461.5 260.78L461.9 260.28L462.5 260.84L463.5 261.85L464.5 262.03L465 262.22L465.5 262.62L466.5 262.4L467.5 262.29L468.5 262.24L469.5 262.48L470.5 262.08L471.5 262.72L472.5 262.47L473.5 262.31L474.5 261.71L475.5 261.27L476.5 260.86L477.5 261.11L478.5 259.79L479.5 260.04L480.5 259.92L481.5 260.11L482.5 258.96L483.5 259.96L484.5 260.43L485.5 261.35L486.25 261.17L486.5 261.94L487.5 262.16L488.5 261.8L489.5 262.09L490 262.27L490.5 262.06L491.5 261.87L492.5 261.82L493.5 261.83L493.75 261.23L494.5 261.75L495.5 261.52L496.5 261.89L497.5 262L498.5 261.89L499.5 262.11L500 262.21L500.5 262.22L501.5 262.48L502.5 262.15L503.5 262.11L504.5 262.24L505.5 262.34L506.5 262.07L507.5 262.17L508.5 262.31L509.5 262.03L510.5 262.12L511.5 262.27L512.5 262.29L513.5 262.29L514.5 262.1L515.5 262.29L516.5 262.3"/>
<path class="ax" stroke-width=".8" stroke="#222" d="M419.5 179.5V263.7"/>
<path class="ax" stroke-width="1.2" d="M517.5 190V262.9"/>
<g transform="rotate(-0.5 419.4 263.7)">
<path class="ax" stroke-width=".8" stroke="#222" d="M419.4 263.7H517.6"/>
<path class="ax" stroke-width=".55" d="M419.4 263.7v1.7M426.79 263.7v0.9M431.11 263.7v0.9M436.56 263.7v0.9M440.15 263.7v0.9M443.95 263.7v1.7M451.34 263.7v0.9M455.66 263.7v0.9M461.11 263.7v0.9M464.7 263.7v0.9M468.5 263.7v1.7M475.89 263.7v0.9M480.21 263.7v0.9M485.66 263.7v0.9M489.25 263.7v0.9M493.05 263.7v1.7M500.44 263.7v0.9M504.76 263.7v0.9M510.21 263.7v0.9M513.8 263.7v0.9M517.6 263.7v1.7"/>
<text class="tk" x="419.4" y="268.6" text-anchor="middle">10<tspan font-size="2.8" dy="-1.4">0</tspan></text>
<text class="tk" x="443.95" y="268.6" text-anchor="middle">10<tspan font-size="2.8" dy="-1.4">1</tspan></text>
<text class="tk" x="468.5" y="268.6" text-anchor="middle">10<tspan font-size="2.8" dy="-1.4">2</tspan></text>
<text class="tk" x="493.05" y="268.6" text-anchor="middle">10<tspan font-size="2.8" dy="-1.4">3</tspan></text>
<text class="tk" x="517.6" y="268.6" text-anchor="middle">10<tspan font-size="2.8" dy="-1.4">4</tspan></text>
<text class="tk" font-size="3.2" transform="translate(416.2 184.1) rotate(-90)">200</text>
<text class="tk" font-size="3.6" x="415" y="264.9">0</text>
</g>
<path class="ax" stroke-width=".75" stroke="#222" d="M468.5 207.5H517M468.5 205.5v4M517 205.5v4"/>
<text class="hb" x="496.1" y="204.4" font-size="8.2">6</text>
</svg></body></html>
